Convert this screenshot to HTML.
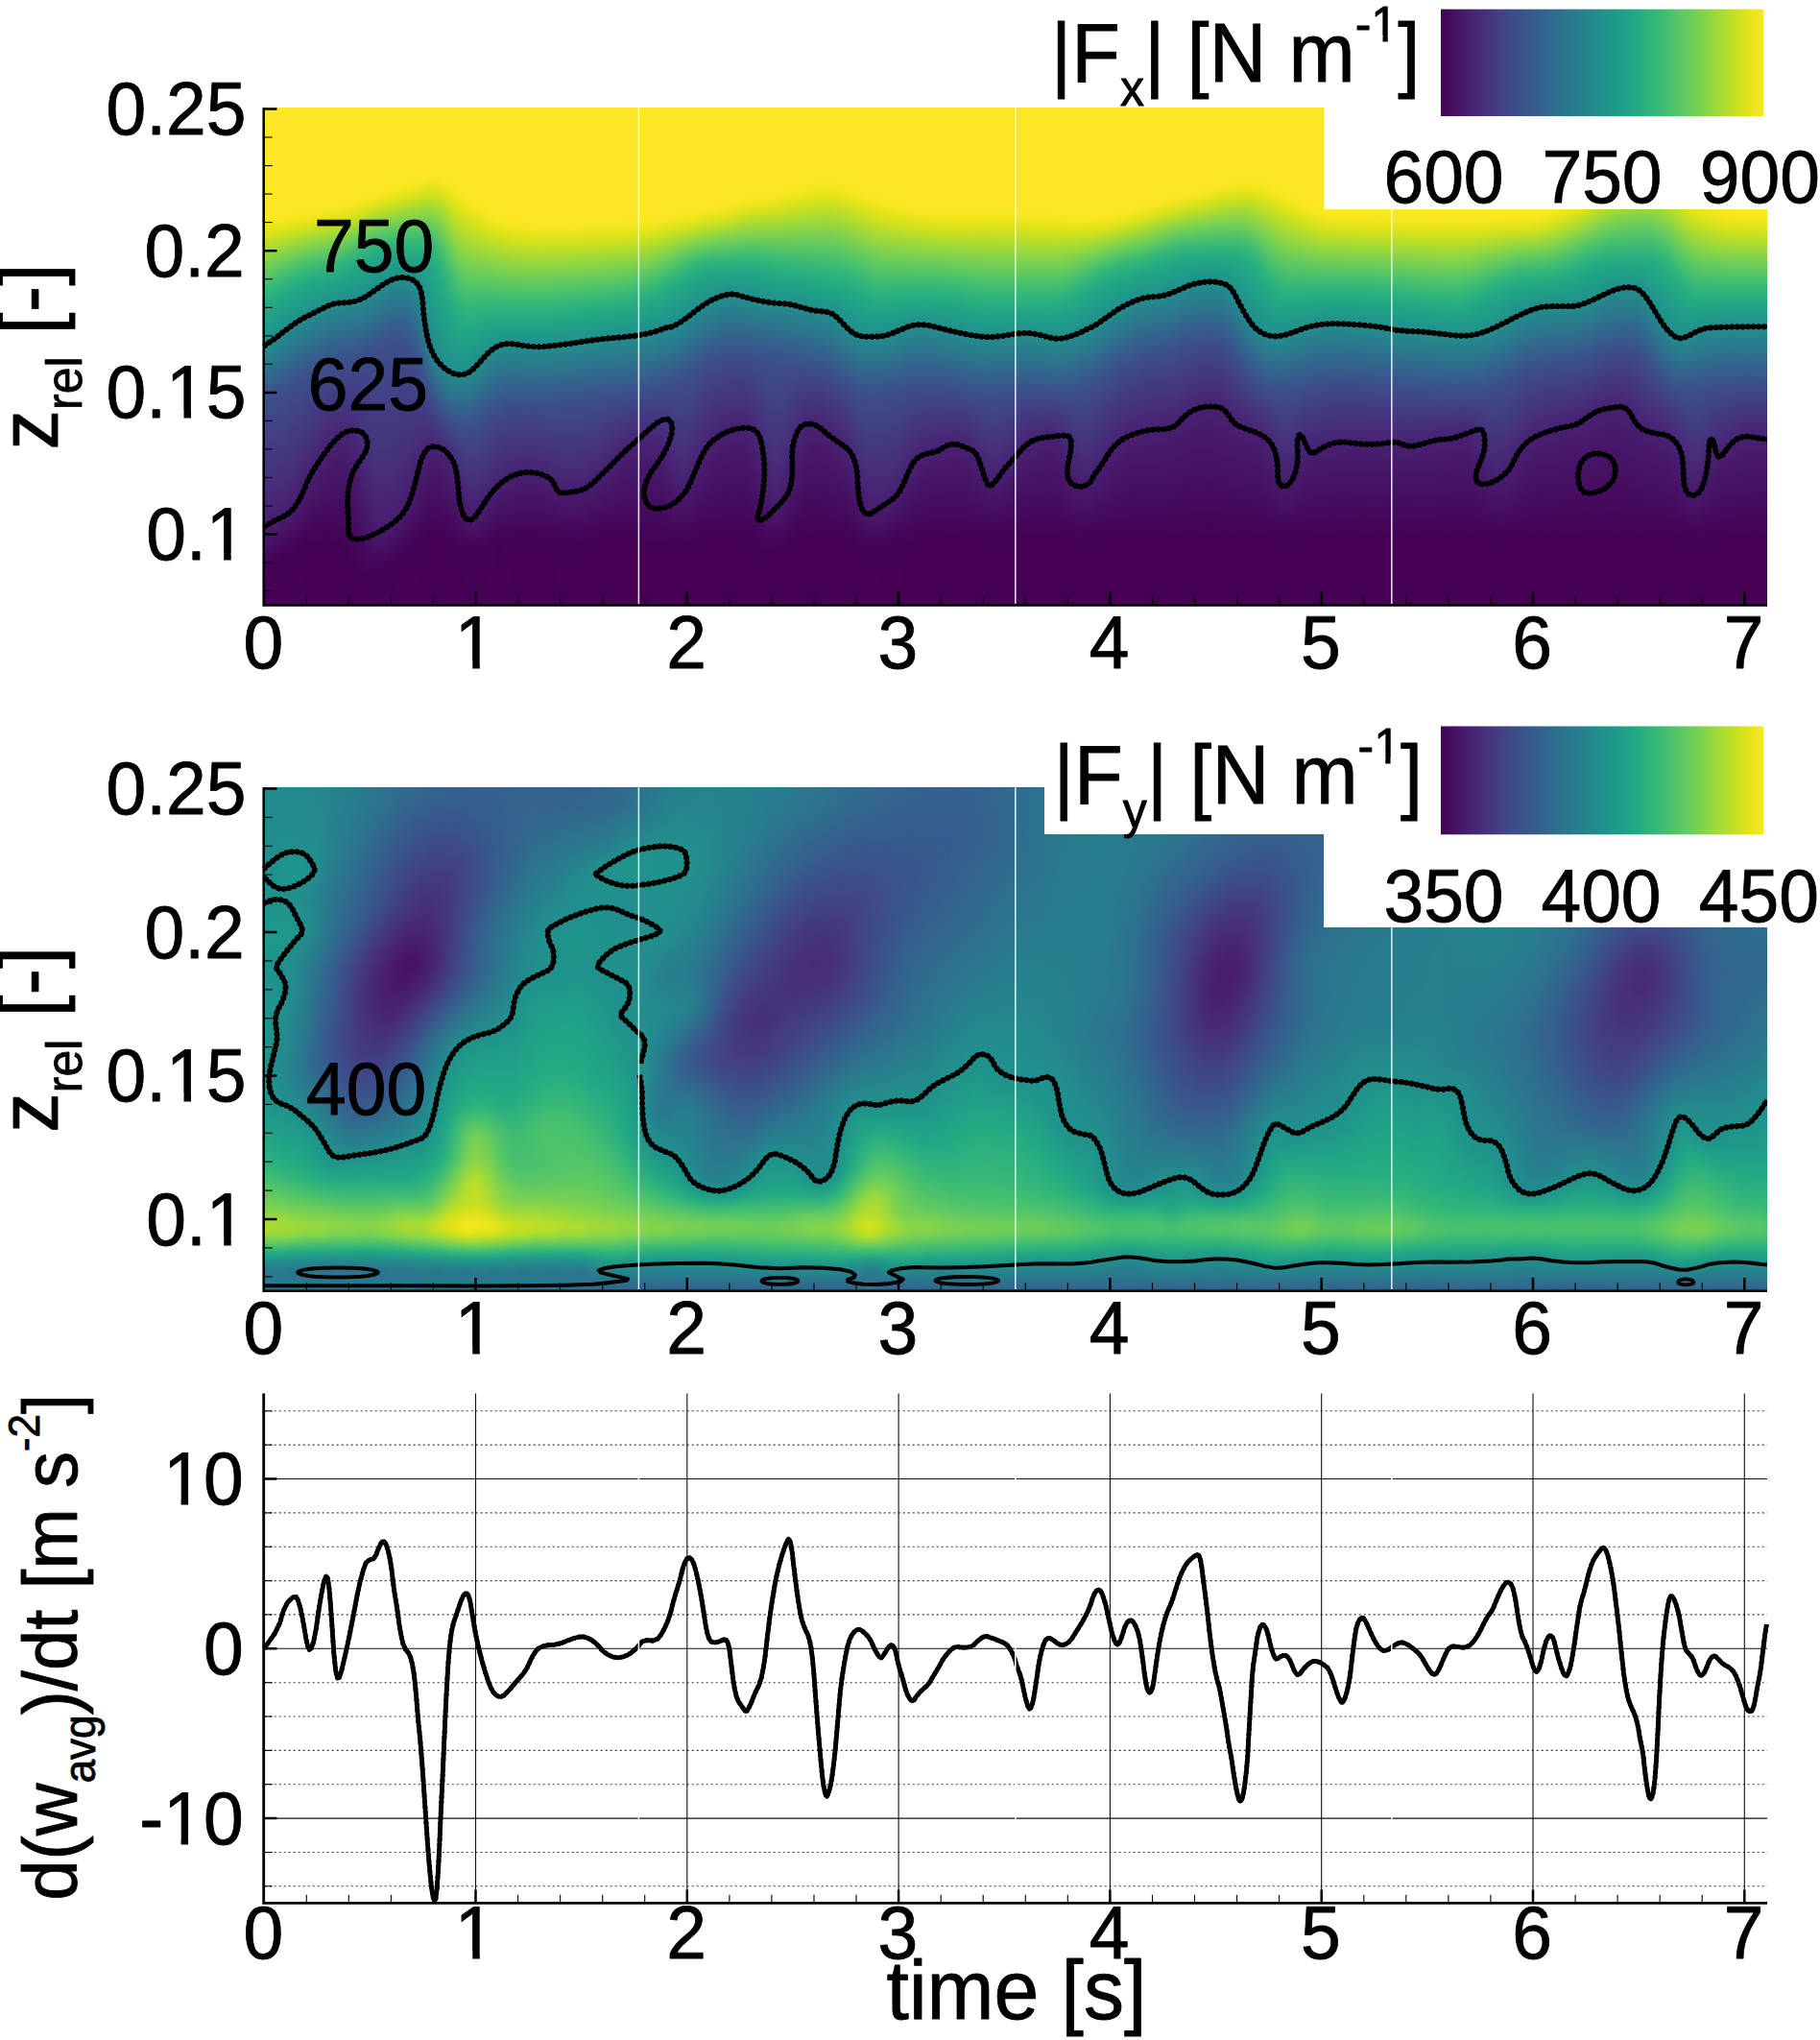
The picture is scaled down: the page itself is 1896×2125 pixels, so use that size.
<!DOCTYPE html><html><head><meta charset="utf-8"><title>Force and acceleration time series</title><style>html,body{margin:0;padding:0;background:#fff}body{width:1896px;height:2125px;position:relative;overflow:hidden;font-family:"Liberation Sans",sans-serif}.hm{position:absolute;overflow:hidden}.hi{position:absolute;filter:blur(3px)}.hi i{position:absolute;top:0;height:100%;width:6.5px}.w{position:absolute;background:#fff}.cb{position:absolute;background:linear-gradient(90deg,#440154 0%,#471365 5%,#482475 10%,#463480 15%,#414487 20%,#3b528b 25%,#355f8d 30%,#2f6c8e 35%,#2a788e 40%,#25848e 45%,#21918c 50%,#1e9c89 55%,#22a884 60%,#2fb47c 65%,#44bf70 70%,#5ec962 75%,#7ad151 80%,#9bd93c 85%,#bddf26 90%,#dfe318 95%,#fde725 100%)}svg{position:absolute;left:0;top:0}text{font-family:"Liberation Sans",sans-serif;fill:#000;stroke:#000;stroke-width:.8px;stroke-linejoin:round}</style></head><body><div class="hm" style="left:273.5px;top:112.3px;width:1567.5px;height:518.1px"><div class="hi" style="left:-12px;top:-12px;width:1590px;height:543px"><i style="left:0px;background:linear-gradient(#fde725 0%,#fde725 23.2%,#f4e61e 24.9%,#dde318 26.5%,#c2df23 28.2%,#7ad151 32.6%,#46c06f 36.5%,#2db27d 39.2%,#22a884 41.4%,#1f988b 45.9%,#277f8e 50.8%,#3c508b 58.6%,#472f7d 74.6%,#481a6c 84%,#440256 90.1%,#440154 100%)"></i><i style="left:6px;background:linear-gradient(#fde725 0%,#fde725 23.2%,#f4e61e 24.9%,#dde318 26.5%,#c0df25 28.2%,#77d153 32.6%,#4ac16d 35.9%,#2eb37c 38.7%,#23a983 40.9%,#1f998a 45.3%,#26828e 50.3%,#3b528b 58%,#453781 70.7%,#481f70 82.3%,#450457 89.5%,#440154 92.3%,#440154 100%)"></i><i style="left:12px;background:linear-gradient(#fde725 0%,#fde725 23.2%,#f1e51d 24.9%,#dae319 26.5%,#b2dd2d 28.7%,#60ca60 33.7%,#38b977 37%,#27ad81 39.2%,#1fa088 43.1%,#23898e 48.6%,#3c508b 58%,#472e7c 75.1%,#481b6d 83.4%,#440154 90.1%,#440154 100%)"></i><i style="left:18px;background:linear-gradient(#fde725 0%,#fde725 23.2%,#f6e620 24.3%,#dfe318 26%,#c2df23 27.6%,#a2da37 29.3%,#73d056 32%,#4cc26c 34.8%,#32b67a 37%,#26ad81 38.7%,#1f9f88 42.5%,#23898e 48.1%,#3b518b 57.5%,#433d84 66.9%,#482173 80.7%,#460b5e 86.7%,#440256 89.5%,#440154 100%)"></i><i style="left:24px;background:linear-gradient(#fde725 0%,#fde725 22.7%,#f4e61e 24.3%,#e5e419 25.4%,#d0e11c 26.5%,#b2dd2d 28.2%,#63cb5f 32.6%,#3dbc74 35.4%,#2db27d 37%,#22a884 39.2%,#1f968b 44.2%,#26828e 48.6%,#3a538b 56.4%,#3f4788 60.8%,#472c7a 75.1%,#481b6d 82.3%,#450559 87.8%,#440154 90.6%,#440154 100%)"></i><i style="left:30px;background:linear-gradient(#fde725 0%,#fde725 22.7%,#f1e51d 24.3%,#e2e418 25.4%,#cde11d 26.5%,#8bd646 29.8%,#54c568 33.1%,#31b57b 35.9%,#24aa83 38.1%,#1f9a8a 42.5%,#25838e 47.5%,#3b528b 55.8%,#443983 67.4%,#482071 80.1%,#440256 87.8%,#440154 100%)"></i><i style="left:36px;background:linear-gradient(#fde725 0%,#fde725 22.7%,#f6e620 23.8%,#dde318 25.4%,#bddf26 27.1%,#9bd93c 28.7%,#67cc5c 31.5%,#44bf70 33.7%,#2cb17e 35.9%,#22a785 38.1%,#1f978b 42.5%,#2a788e 48.6%,#3c4f8a 55.8%,#472f7d 71.8%,#481a6c 81.2%,#440256 87.3%,#440154 100%)"></i><i style="left:42px;background:linear-gradient(#fde725 0%,#fde725 22.1%,#f4e61e 23.8%,#e2e418 24.9%,#cde11d 26%,#89d548 29.3%,#56c667 32%,#37b878 34.3%,#28ae80 35.9%,#1fa287 38.7%,#228d8d 44.2%,#39558c 53.6%,#3e4989 57.5%,#472c7a 72.4%,#481a6c 80.1%,#450457 86.2%,#440154 89%,#440154 100%)"></i><i style="left:48px;background:linear-gradient(#fde725 0%,#fde725 22.1%,#f1e51d 23.8%,#dfe318 24.9%,#c8e020 26%,#77d153 29.8%,#48c16e 32.6%,#32b67a 34.3%,#25ac82 35.9%,#1f9f88 39.2%,#23898e 44.2%,#3c508b 54.1%,#472e7c 69.6%,#48186a 79%,#440256 85.6%,#440154 100%)"></i><i style="left:54px;background:linear-gradient(#fde725 0%,#fde725 22.1%,#f6e620 23.2%,#e5e419 24.3%,#d0e11c 25.4%,#86d549 28.7%,#4ac16d 32%,#34b679 33.7%,#26ad81 35.4%,#1fa188 38.1%,#228b8d 43.1%,#3a548c 52.5%,#3f4889 56.4%,#472c7a 69.1%,#471164 80.1%,#440154 85.6%,#440154 100%)"></i><i style="left:60px;background:linear-gradient(#fde725 0%,#fde725 21.5%,#f4e61e 23.2%,#e2e418 24.3%,#cae11f 25.4%,#81d34d 28.7%,#4ec36b 31.5%,#2fb47c 33.7%,#22a884 35.9%,#1f988b 39.8%,#2b758e 46.4%,#3d4d8a 53.6%,#472e7c 66.9%,#46075a 82.3%,#440154 86.2%,#440154 100%)"></i><i style="left:66px;background:linear-gradient(#fde725 0%,#fde725 21.5%,#f6e620 22.7%,#dde318 24.3%,#c5e021 25.4%,#7cd250 28.7%,#4ac16d 31.5%,#34b679 33.1%,#23a983 35.4%,#1f988b 39.2%,#2b758e 45.9%,#3d4d8a 53%,#472e7c 65.2%,#46075a 82.3%,#440154 86.2%,#440154 100%)"></i><i style="left:72px;background:linear-gradient(#fde725 0%,#fde725 21%,#f4e61e 22.7%,#e5e419 23.8%,#cde11d 24.9%,#84d44b 28.2%,#50c46a 30.9%,#31b57b 33.1%,#25ab82 34.8%,#1f9e89 37.6%,#26828e 43.1%,#3d4d8a 52.5%,#472f7d 63.5%,#481769 73.5%,#440154 85.1%,#440154 100%)"></i><i style="left:78px;background:linear-gradient(#fde725 0%,#fde725 21%,#f8e621 22.1%,#dfe318 23.8%,#c8e020 24.9%,#7fd34e 28.2%,#4cc26c 30.9%,#2eb37c 33.1%,#21a685 35.4%,#1f948c 39.2%,#33628d 48.1%,#3d4d8a 51.9%,#472f7d 62.4%,#481f70 68.5%,#440154 85.1%,#440154 100%)"></i><i style="left:84px;background:linear-gradient(#fde725 0%,#fde725 21%,#f6e620 22.1%,#e5e419 23.2%,#d0e11c 24.3%,#90d743 27.1%,#50c46a 30.4%,#31b57b 32.6%,#25ab82 34.3%,#1e9d89 37%,#277e8e 43.1%,#3d4e8a 51.4%,#472d7b 62.4%,#481d6f 68%,#440154 85.6%,#440154 100%)"></i><i style="left:90px;background:linear-gradient(#fde725 0%,#fde725 20.4%,#f4e61e 22.1%,#dfe318 23.2%,#c8e020 24.3%,#73d056 28.2%,#54c568 29.8%,#3aba76 31.5%,#28ae80 33.1%,#20a386 35.4%,#218f8d 39.8%,#38588c 49.2%,#3f4788 53%,#472c7a 62.4%,#481c6e 68%,#440154 86.7%,#440154 100%)"></i><i style="left:96px;background:linear-gradient(#fde725 0%,#fde725 20.4%,#f6e620 21.5%,#e7e419 22.7%,#d0e11c 23.8%,#75d054 27.6%,#40bd72 30.4%,#2db27d 32%,#21a685 34.3%,#20938c 38.7%,#34618d 47.5%,#3e4c8a 51.4%,#472e7c 61.9%,#481d6f 68%,#440154 87.8%,#440154 100%)"></i><i style="left:102px;background:linear-gradient(#fde725 0%,#fde725 19.9%,#f8e621 21%,#dfe318 22.7%,#c5e021 23.8%,#69cd5b 27.6%,#40bd72 29.8%,#2db27d 31.5%,#21a685 33.7%,#1f958b 38.1%,#33628d 47%,#3d4d8a 50.8%,#46307e 61.9%,#481d6f 69.6%,#440154 89.5%,#440154 100%)"></i><i style="left:108px;background:linear-gradient(#fde725 0%,#fde725 19.9%,#ece51b 21.5%,#d8e219 22.7%,#cae11f 23.2%,#a0da39 24.9%,#77d153 26.5%,#54c568 28.2%,#31b57b 30.4%,#25ab82 32%,#1e9c89 35.9%,#25858e 40.9%,#3c508b 49.7%,#472f7d 63.5%,#481a6c 74.6%,#440154 90.6%,#440154 100%)"></i><i style="left:114px;background:linear-gradient(#fde725 0%,#fde725 19.3%,#f6e620 20.4%,#e5e419 21.5%,#dae319 22.1%,#cde11d 22.7%,#77d153 26%,#3fbc73 28.7%,#2ab07f 30.4%,#20a386 33.1%,#218f8d 38.7%,#39568c 48.1%,#3e4989 51.9%,#472c7a 68%,#470e61 84.5%,#440154 91.2%,#440154 100%)"></i><i style="left:120px;background:linear-gradient(#fde725 0%,#fde725 18.8%,#f8e621 19.9%,#e7e419 21%,#dde318 21.5%,#c2df23 22.7%,#7ad151 25.4%,#40bd72 28.2%,#2cb17e 29.8%,#21a685 32%,#1f958b 36.5%,#2b758e 42.5%,#3b518b 48.6%,#424086 58%,#482475 75.7%,#481467 84%,#440154 91.7%,#440154 100%)"></i><i style="left:126px;background:linear-gradient(#fde725 0%,#fde725 18.2%,#f4e61e 19.9%,#ece51b 20.4%,#dfe318 21%,#d5e21a 21.5%,#8ed645 24.3%,#65cb5e 26%,#3bbb75 28.2%,#28ae80 29.8%,#1fa187 32.6%,#218e8d 37.6%,#39568c 47%,#3d4d8a 49.7%,#472e7c 71.8%,#481a6c 84%,#440256 90.6%,#440154 100%)"></i><i style="left:132px;background:linear-gradient(#fde725 0%,#fde725 18.2%,#f6e620 19.3%,#e5e419 20.4%,#d8e219 21%,#b0dd2f 22.7%,#93d741 23.8%,#6ccd5a 25.4%,#4ac16d 27.1%,#2ab07f 29.3%,#21a585 31.5%,#1f948c 35.4%,#34608d 44.8%,#3c4f8a 48.1%,#472f7d 71.3%,#481d6f 82.9%,#440256 90.6%,#440154 100%)"></i><i style="left:138px;background:linear-gradient(#fde725 0%,#fde725 17.7%,#f1e51d 19.3%,#dde318 20.4%,#c2df23 21.5%,#73d056 24.9%,#3dbc74 27.6%,#29af7f 29.3%,#20a386 31.5%,#218f8d 35.9%,#38598c 45.3%,#3d4d8a 48.6%,#472f7d 71.3%,#481d6f 82.9%,#440256 90.1%,#440154 100%)"></i><i style="left:144px;background:linear-gradient(#fde725 0%,#fde725 17.1%,#f4e61e 18.8%,#e2e418 19.9%,#cae11f 21%,#7ad151 24.3%,#44bf70 27.1%,#2eb37c 28.7%,#21a585 30.9%,#20928c 34.8%,#365d8d 44.2%,#3c4f8a 47%,#472f7d 70.7%,#481d6f 81.8%,#460b5e 86.7%,#440154 90.6%,#440154 100%)"></i><i style="left:150px;background:linear-gradient(#fde725 0%,#fde725 17.1%,#f6e620 18.2%,#e5e419 19.3%,#d0e11c 20.4%,#8ed645 23.2%,#4cc26c 26.5%,#2eb37c 28.7%,#22a884 30.4%,#1f998a 33.1%,#2e6d8e 41.4%,#3b518b 46.4%,#404688 53%,#472a7a 72.9%,#481c6e 81.2%,#440256 88.4%,#440154 100%)"></i><i style="left:156px;background:linear-gradient(#fde725 0%,#fde725 16.6%,#f1e51d 18.2%,#dfe318 19.3%,#c8e020 20.4%,#73d056 24.3%,#4ac16d 26.5%,#2db27d 28.7%,#22a884 30.4%,#1f998a 33.1%,#2e6d8e 41.4%,#3c508b 47%,#472f7d 68.5%,#481c6e 79.6%,#46085c 85.6%,#440154 88.4%,#440154 100%)"></i><i style="left:162px;background:linear-gradient(#fde725 0%,#fde725 16%,#f4e61e 17.7%,#e2e418 18.8%,#cde11d 19.9%,#7ad151 23.8%,#4ac16d 26.5%,#2db27d 28.7%,#22a884 30.4%,#1f978b 33.7%,#31688e 43.1%,#3b528b 47.5%,#433d84 59.1%,#482173 75.1%,#471164 81.8%,#440256 86.2%,#440154 100%)"></i><i style="left:168px;background:linear-gradient(#fde725 0%,#fde725 16%,#f6e620 17.1%,#dde318 18.8%,#c8e020 19.9%,#77d153 23.8%,#48c16e 26.5%,#32b67a 28.2%,#25ac82 29.8%,#1f9f88 32.6%,#26828e 39.2%,#3b528b 49.7%,#472e7c 66.3%,#471365 79.6%,#440256 85.6%,#440154 100%)"></i><i style="left:174px;background:linear-gradient(#fde725 0%,#fde725 15.5%,#f8e621 16.6%,#e2e418 18.2%,#cde11d 19.3%,#7fd34e 23.2%,#50c46a 26%,#2eb37c 28.7%,#22a884 30.9%,#1f978b 35.9%,#2e6d8e 47%,#3e4a89 54.7%,#472d7b 65.7%,#46075a 82.3%,#440154 86.2%,#440154 100%)"></i><i style="left:180px;background:linear-gradient(#fde725 0%,#fde725 14.9%,#f4e61e 16.6%,#efe51c 17.1%,#dde318 18.2%,#bddf26 19.9%,#6ccd5a 24.3%,#3bbb75 27.6%,#28ae80 29.8%,#1fa287 34.3%,#228d8d 43.1%,#297b8e 48.1%,#3f4889 57.5%,#472a7a 65.7%,#481b6d 71.3%,#440154 85.1%,#440154 100%)"></i><i style="left:186px;background:linear-gradient(#fde725 0%,#fde725 14.9%,#f8e621 16%,#ece51b 17.1%,#dae319 18.2%,#bddf26 19.9%,#8bd646 22.7%,#58c765 26%,#37b878 28.7%,#2ab07f 30.4%,#22a884 33.7%,#1f978b 43.1%,#23898e 48.6%,#2a778e 51.9%,#3d4d8a 58.6%,#472d7b 65.2%,#481d6f 69.1%,#440154 84.5%,#440154 100%)"></i><i style="left:192px;background:linear-gradient(#fde725 0%,#fde725 14.9%,#f4e61e 16.6%,#dde318 18.2%,#cde11d 19.3%,#a8db34 21.5%,#75d054 24.9%,#4ac16d 28.2%,#31b57b 30.9%,#25ab82 34.3%,#1e9b8a 43.6%,#228d8d 50.3%,#2a778e 54.1%,#3f4788 61.3%,#472d7b 65.7%,#481d6f 69.1%,#440154 84.5%,#440154 100%)"></i><i style="left:198px;background:linear-gradient(#fde725 0%,#fde725 15.5%,#f4e61e 17.1%,#dfe318 18.8%,#c8e020 20.4%,#90d743 24.3%,#48c16e 30.4%,#34b679 33.1%,#26ad81 36.5%,#1fa088 43.1%,#21918c 50.8%,#287d8e 54.7%,#3e4989 62.4%,#482576 68%,#481a6c 71.8%,#440154 85.1%,#440154 100%)"></i><i style="left:204px;background:linear-gradient(#fde725 0%,#fde725 16%,#f1e51d 18.2%,#dfe318 19.9%,#cae11f 21.5%,#93d741 26%,#60ca60 30.4%,#3fbc73 34.3%,#26ad81 39.2%,#1f9f88 45.9%,#218f8d 52.5%,#2e6e8e 58%,#424186 64.6%,#482576 69.6%,#440256 84.5%,#440154 100%)"></i><i style="left:210px;background:linear-gradient(#fde725 0%,#fde725 17.1%,#f4e61e 18.8%,#dfe318 21%,#c5e021 23.2%,#addc30 25.4%,#7cd250 29.8%,#56c667 33.7%,#32b67a 38.7%,#24aa83 42.5%,#1f9a8a 49.2%,#23898e 54.1%,#3a538b 62.4%,#472f7d 69.6%,#481d6f 75.1%,#440154 86.2%,#440154 100%)"></i><i style="left:216px;background:linear-gradient(#fde725 0%,#fde725 17.7%,#f4e61e 19.9%,#dde318 22.1%,#c5e021 24.3%,#95d840 28.7%,#5ec962 34.3%,#38b977 39.2%,#27ad81 42.5%,#1fa088 47.5%,#228d8d 53.6%,#39558c 62.4%,#3f4889 65.2%,#482576 75.1%,#460a5d 84%,#440154 87.3%,#440154 100%)"></i><i style="left:222px;background:linear-gradient(#fde725 0%,#fde725 18.8%,#f1e51d 21%,#dae319 23.2%,#bddf26 26%,#8bd646 30.4%,#56c667 35.9%,#31b57b 40.9%,#21a685 45.3%,#1f948c 51.4%,#297b8e 56.4%,#3d4e8a 63.5%,#472d7b 74.6%,#481467 82.3%,#440256 86.7%,#440154 100%)"></i><i style="left:228px;background:linear-gradient(#fde725 0%,#fde725 19.3%,#f4e61e 21.5%,#e2e418 23.2%,#cae11f 25.4%,#b0dd2f 27.6%,#84d44b 31.5%,#5cc863 35.4%,#34b679 40.3%,#25ab82 43.6%,#1e9d89 48.1%,#228b8d 53%,#3a548c 61.9%,#404688 65.7%,#472d7b 75.1%,#481668 82.3%,#440256 86.7%,#440154 100%)"></i><i style="left:234px;background:linear-gradient(#fde725 0%,#fde725 20.4%,#f4e61e 22.1%,#dfe318 24.3%,#cae11f 26%,#7ad151 32.6%,#48c16e 37.6%,#29af7f 42%,#1fa187 45.9%,#228b8d 51.9%,#3a538b 61.3%,#424086 67.4%,#482475 77.3%,#471164 82.9%,#450457 86.2%,#440154 89%,#440154 100%)"></i><i style="left:240px;background:linear-gradient(#fde725 0%,#fde725 21%,#f1e51d 23.2%,#dae319 25.4%,#bddf26 27.6%,#84d44b 32%,#48c16e 37.6%,#2cb17e 41.4%,#20a386 44.8%,#21918c 49.7%,#375b8d 59.1%,#3e4989 63%,#472d7b 73.5%,#471365 81.8%,#450457 85.6%,#440154 88.4%,#440154 100%)"></i><i style="left:246px;background:linear-gradient(#fde725 0%,#fde725 22.1%,#f4e61e 23.8%,#e2e418 25.4%,#cae11f 27.1%,#95d840 30.9%,#54c568 36.5%,#32b67a 40.3%,#23a983 43.1%,#1f988b 47%,#2d718e 54.7%,#3e4c8a 61.3%,#472e7c 71.8%,#471365 80.7%,#440256 85.6%,#440154 100%)"></i><i style="left:252px;background:linear-gradient(#fde725 0%,#fde725 22.7%,#f4e61e 24.3%,#dfe318 26%,#c8e020 27.6%,#b0dd2f 29.3%,#8bd646 32%,#6ece58 34.3%,#3aba76 39.2%,#22a884 43.1%,#1f968b 47%,#31668e 55.8%,#3d4e8a 60.2%,#472e7c 70.7%,#46075a 83.4%,#440154 86.2%,#440154 100%)"></i><i style="left:258px;background:linear-gradient(#fde725 0%,#fde725 22.7%,#f6e620 24.3%,#e2e418 26%,#cae11f 27.6%,#70cf57 34.3%,#4ac16d 37.6%,#2ab07f 41.4%,#1fa287 44.2%,#218f8d 48.1%,#38598c 57.5%,#404688 61.9%,#482878 71.8%,#440154 85.1%,#440154 100%)"></i><i style="left:264px;background:linear-gradient(#fde725 0%,#fde725 23.2%,#f4e61e 24.9%,#dde318 26.5%,#c8e020 28.2%,#6ccd5a 34.8%,#3bbb75 39.2%,#25ab82 42.5%,#1e9c89 45.3%,#2c718e 53%,#3d4e8a 59.1%,#472d7b 69.6%,#471365 78.5%,#440256 84.5%,#440154 100%)"></i><i style="left:270px;background:linear-gradient(#fde725 0%,#fde725 23.2%,#f4e61e 24.9%,#e2e418 26.5%,#cae11f 28.2%,#9bd93c 31.5%,#81d34d 33.1%,#4cc26c 37.6%,#2eb37c 40.9%,#21a585 43.6%,#20938c 47%,#34608d 55.8%,#3e4989 60.2%,#472d7b 69.1%,#481668 76.8%,#440154 85.1%,#440154 100%)"></i><i style="left:276px;background:linear-gradient(#fde725 0%,#fde725 23.8%,#ece51b 26%,#d5e21a 27.6%,#addc30 30.4%,#93d741 32%,#54c568 37%,#37b878 39.8%,#25ab82 42.5%,#1e9d89 45.3%,#2b748e 52.5%,#3e4c8a 59.7%,#472e7c 68.5%,#481c6e 74%,#440154 85.1%,#440154 100%)"></i><i style="left:282px;background:linear-gradient(#fde725 0%,#fde725 23.8%,#f4e61e 25.4%,#dfe318 27.1%,#c8e020 28.7%,#8ed645 32.6%,#60ca60 35.9%,#32b67a 40.3%,#22a884 43.1%,#1f978b 46.4%,#31688e 54.7%,#3e4c8a 59.7%,#472c7a 69.1%,#481769 75.7%,#440154 85.1%,#440154 100%)"></i><i style="left:288px;background:linear-gradient(#fde725 0%,#fde725 23.8%,#f6e620 25.4%,#e2e418 27.1%,#d2e21b 28.2%,#b0dd2f 30.4%,#77d153 34.3%,#4ec36b 37.6%,#2eb37c 40.9%,#21a585 43.6%,#20928c 47.5%,#355e8d 56.4%,#3e4c8a 59.7%,#472c7a 69.1%,#481769 75.7%,#440154 85.1%,#440154 100%)"></i><i style="left:294px;background:linear-gradient(#fde725 0%,#fde725 24.3%,#f1e51d 26%,#dae319 27.6%,#c2df23 29.3%,#a8db34 30.9%,#70cf57 34.8%,#48c16e 38.1%,#2eb37c 40.9%,#21a585 43.6%,#20928c 47.5%,#355e8d 56.4%,#3e4989 60.2%,#472e7c 68.5%,#481769 75.7%,#440154 85.1%,#440154 100%)"></i><i style="left:300px;background:linear-gradient(#fde725 0%,#fde725 24.3%,#f1e51d 26%,#dae319 27.6%,#c2df23 29.3%,#a8db34 30.9%,#70cf57 34.8%,#4ec36b 37.6%,#2eb37c 40.9%,#21a585 43.6%,#20928c 47.5%,#355e8d 56.4%,#3e4c8a 59.7%,#472d7b 69.1%,#48186a 75.7%,#440154 85.1%,#440154 100%)"></i><i style="left:306px;background:linear-gradient(#fde725 0%,#fde725 24.3%,#f1e51d 26%,#dae319 27.6%,#cae11f 28.7%,#b0dd2f 30.4%,#77d153 34.3%,#5ac864 36.5%,#37b878 39.8%,#25ab82 42.5%,#1e9d89 45.3%,#277f8e 50.8%,#3e4c8a 59.7%,#472e7c 69.1%,#481467 77.9%,#440154 85.1%,#440154 100%)"></i><i style="left:312px;background:linear-gradient(#fde725 0%,#fde725 24.3%,#f1e51d 26%,#dae319 27.6%,#b8de29 29.8%,#86d549 33.1%,#67cc5c 35.4%,#46c06f 38.1%,#2db27d 40.9%,#20a486 43.6%,#20928c 47.5%,#365d8d 56.4%,#3e4c8a 59.7%,#472d7b 70.2%,#460a5d 81.8%,#440154 85.1%,#440154 100%)"></i><i style="left:318px;background:linear-gradient(#fde725 0%,#fde725 24.3%,#f1e51d 26%,#dae319 27.6%,#b8de29 29.8%,#7cd250 33.7%,#52c569 37%,#3aba76 39.2%,#28ae80 41.4%,#1fa187 44.2%,#228b8d 48.6%,#3b528b 58%,#472f7d 69.6%,#481467 79%,#440256 84.5%,#440154 100%)"></i><i style="left:324px;background:linear-gradient(#fde725 0%,#fde725 24.3%,#f1e51d 26%,#dae319 27.6%,#b8de29 29.8%,#9dd93b 31.5%,#6ccd5a 34.8%,#4ac16d 37.6%,#34b679 39.8%,#22a884 42.5%,#1f988b 45.9%,#30698e 54.1%,#3d4d8a 59.1%,#472e7c 70.7%,#471164 80.1%,#440256 84.5%,#440154 100%)"></i><i style="left:330px;background:linear-gradient(#fde725 0%,#fde725 24.3%,#f1e51d 26%,#e2e418 27.1%,#c8e020 28.7%,#8bd646 32.6%,#5cc863 35.9%,#37b878 39.2%,#25ab82 42%,#1e9d89 44.8%,#27808e 50.3%,#3c4f8a 58.6%,#472e7c 70.7%,#471164 80.1%,#440256 84.5%,#440154 100%)"></i><i style="left:336px;background:linear-gradient(#fde725 0%,#fde725 24.3%,#f6e620 25.4%,#e2e418 27.1%,#c8e020 28.7%,#9bd93c 31.5%,#63cb5f 35.4%,#3bbb75 38.7%,#29af7f 40.9%,#1fa187 43.6%,#228b8d 48.1%,#3a538b 57.5%,#414487 62.4%,#482677 72.9%,#471164 80.1%,#450457 84%,#440154 86.7%,#440154 100%)"></i><i style="left:342px;background:linear-gradient(#fde725 0%,#fde725 24.3%,#f6e620 25.4%,#dfe318 27.1%,#d0e11c 28.2%,#89d548 32.6%,#5ac864 35.9%,#35b779 39.2%,#25ac82 41.4%,#1f9e89 44.2%,#26818e 49.7%,#3d4e8a 58.6%,#472d7b 70.7%,#470d60 81.2%,#440154 85.6%,#440154 100%)"></i><i style="left:348px;background:linear-gradient(#fde725 0%,#fde725 23.8%,#f4e61e 25.4%,#dfe318 27.1%,#c5e021 28.7%,#77d153 33.7%,#52c569 36.5%,#34b679 39.2%,#22a884 42%,#1f988b 45.3%,#30698e 53.6%,#3d4d8a 58.6%,#472e7c 69.6%,#471164 79.6%,#440256 84%,#440154 100%)"></i><i style="left:354px;background:linear-gradient(#fde725 0%,#fde725 23.8%,#f4e61e 25.4%,#dfe318 27.1%,#c5e021 28.7%,#98d83e 31.5%,#6ece58 34.3%,#3dbc74 38.1%,#27ad81 40.9%,#1fa088 43.6%,#25858e 48.6%,#3d4e8a 58%,#472e7c 69.1%,#46075a 82.3%,#440154 86.2%,#440154 100%)"></i><i style="left:360px;background:linear-gradient(#fde725 0%,#fde725 23.8%,#f4e61e 25.4%,#e7e419 26.5%,#cde11d 28.2%,#8ed645 32%,#56c667 35.9%,#32b67a 39.2%,#22a785 42%,#1f978b 45.3%,#31678e 53.6%,#3d4e8a 58%,#472f7d 68%,#471164 78.5%,#440154 85.1%,#440154 100%)"></i><i style="left:366px;background:linear-gradient(#fde725 0%,#fde725 23.8%,#f4e61e 25.4%,#dde318 27.1%,#c2df23 28.7%,#95d840 31.5%,#6ccd5a 34.3%,#48c16e 37%,#2db27d 39.8%,#20a486 42.5%,#21918c 46.4%,#38598c 55.8%,#3e4a89 58.6%,#472d7b 68%,#481b6d 74%,#440154 84.5%,#440154 100%)"></i><i style="left:372px;background:linear-gradient(#fde725 0%,#fde725 23.8%,#f4e61e 25.4%,#dde318 27.1%,#c2df23 28.7%,#8bd646 32%,#63cb5f 34.8%,#3aba76 38.1%,#25ac82 40.9%,#1f9e89 43.6%,#287d8e 49.7%,#3c4f8a 57.5%,#472f7d 66.3%,#481b6d 72.9%,#440154 84.5%,#440154 100%)"></i><i style="left:378px;background:linear-gradient(#fde725 0%,#fde725 23.8%,#f8e621 24.9%,#e5e419 26.5%,#d2e21b 27.6%,#a5db36 30.4%,#77d153 33.1%,#44bf70 37%,#2ab07f 39.8%,#1fa287 42.5%,#218f8d 46.4%,#38588c 55.8%,#404588 59.7%,#472a7a 66.9%,#481a6c 72.4%,#440154 85.1%,#440154 100%)"></i><i style="left:384px;background:linear-gradient(#fde725 0%,#fde725 23.8%,#f1e51d 25.4%,#dae319 27.1%,#bddf26 28.7%,#6ece58 33.7%,#42be71 37%,#29af7f 39.8%,#1fa187 42.5%,#228c8d 47%,#3a538b 56.4%,#46327e 64.1%,#481d6f 69.6%,#440154 85.1%,#440154 100%)"></i><i style="left:390px;background:linear-gradient(#fde725 0%,#fde725 23.8%,#f1e51d 25.4%,#e2e418 26.5%,#d0e11c 27.6%,#7cd250 32.6%,#54c568 35.4%,#2fb47c 38.7%,#21a685 41.4%,#1f968b 44.8%,#32648e 53.6%,#3f4788 58.6%,#482878 65.7%,#481a6c 70.7%,#440154 85.1%,#440154 100%)"></i><i style="left:396px;background:linear-gradient(#fde725 0%,#fde725 23.8%,#f6e620 24.9%,#eae51a 26%,#d8e219 27.1%,#bade28 28.7%,#70cf57 33.1%,#4ac16d 35.9%,#29af7f 39.2%,#1fa287 42%,#228d8d 46.4%,#3a548c 55.8%,#46327e 63%,#482071 67.4%,#440154 85.1%,#440154 100%)"></i><i style="left:402px;background:linear-gradient(#fde725 0%,#fde725 23.2%,#f4e61e 24.9%,#e7e419 26%,#d5e21a 27.1%,#b8de29 28.7%,#75d054 32.6%,#46c06f 35.9%,#2cb17e 38.7%,#21a685 40.9%,#1f948c 44.8%,#33628d 53.6%,#3f4889 58%,#472a7a 64.6%,#481d6f 68%,#440154 85.6%,#440154 100%)"></i><i style="left:408px;background:linear-gradient(#fde725 0%,#fde725 23.2%,#f4e61e 24.9%,#e5e419 26%,#d2e21b 27.1%,#a0da39 29.8%,#70cf57 32.6%,#3bbb75 36.5%,#25ac82 39.2%,#1e9d89 42.5%,#26828e 48.1%,#3d4d8a 56.9%,#472d7b 64.1%,#481d6f 68%,#440154 85.6%,#440154 100%)"></i><i style="left:414px;background:linear-gradient(#fde725 0%,#fde725 23.2%,#f1e51d 24.9%,#e2e418 26%,#cde11d 27.1%,#9bd93c 29.8%,#63cb5f 33.1%,#3dbc74 35.9%,#29af7f 38.1%,#1fa287 40.9%,#228d8d 45.9%,#3a548c 55.2%,#443983 61.3%,#482071 67.4%,#440154 85.6%,#440154 100%)"></i><i style="left:420px;background:linear-gradient(#fde725 0%,#fde725 23.2%,#f6e620 24.3%,#dde318 26%,#c0df25 27.6%,#6ece58 32%,#54c568 33.7%,#32b67a 36.5%,#24aa83 38.7%,#1f9a8a 42.5%,#297b8e 48.6%,#3d4d8a 56.4%,#472d7b 64.1%,#481d6f 68.5%,#440154 86.2%,#440154 100%)"></i><i style="left:426px;background:linear-gradient(#fde725 0%,#fde725 22.7%,#f4e61e 24.3%,#e2e418 25.4%,#cde11d 26.5%,#70cf57 31.5%,#3dbc74 34.8%,#29af7f 37%,#20a386 39.8%,#218f8d 44.8%,#39568c 54.1%,#463480 62.4%,#482173 68%,#440154 85.6%,#440154 100%)"></i><i style="left:432px;background:linear-gradient(#fde725 0%,#fde725 22.7%,#f1e51d 24.3%,#dfe318 25.4%,#c8e020 26.5%,#70cf57 30.9%,#4cc26c 33.1%,#2cb17e 35.9%,#22a785 38.1%,#1f968b 42.5%,#287d8e 47.5%,#3c4f8a 55.2%,#46307e 64.6%,#481b6d 72.9%,#440154 86.2%,#440154 100%)"></i><i style="left:438px;background:linear-gradient(#fde725 0%,#fde725 22.7%,#ece51b 24.3%,#dae319 25.4%,#c2df23 26.5%,#86d549 29.3%,#54c568 32%,#3bbb75 33.7%,#27ad81 35.9%,#1fa188 39.2%,#238a8d 44.8%,#3b528b 54.1%,#453781 64.1%,#471365 79%,#440154 86.2%,#440154 100%)"></i><i style="left:444px;background:linear-gradient(#fde725 0%,#fde725 22.1%,#f8e621 23.2%,#dfe318 24.9%,#c8e020 26%,#89d548 28.7%,#54c568 31.5%,#3aba76 33.1%,#26ad81 35.4%,#1fa088 38.7%,#238a8d 44.2%,#3b528b 53.6%,#414487 59.1%,#482374 73.5%,#46075a 83.4%,#440154 86.2%,#440154 100%)"></i><i style="left:450px;background:linear-gradient(#fde725 0%,#fde725 22.1%,#f6e620 23.2%,#e5e419 24.3%,#dae319 24.9%,#c2df23 26%,#69cd5b 29.8%,#40bd72 32%,#2db27d 33.7%,#22a785 35.9%,#1f968b 40.9%,#2a768e 47%,#3c4f8a 53.6%,#472d7b 69.1%,#460b5e 81.8%,#440154 85.6%,#440154 100%)"></i><i style="left:456px;background:linear-gradient(#fde725 0%,#fde725 21.5%,#f4e61e 23.2%,#e2e418 24.3%,#c8e020 25.4%,#6ccd5a 29.3%,#42be71 31.5%,#2db27d 33.1%,#22a785 35.4%,#1f978b 39.8%,#2a788e 45.9%,#3b518b 52.5%,#433e85 60.2%,#481c6e 74.6%,#440154 85.1%,#440154 100%)"></i><i style="left:462px;background:linear-gradient(#fde725 0%,#fde725 21.5%,#f1e51d 23.2%,#dde318 24.3%,#c2df23 25.4%,#8bd646 27.6%,#5ac864 29.8%,#35b779 32%,#29af7f 33.1%,#1fa287 35.9%,#228d8d 41.4%,#39558c 50.8%,#3e4989 54.1%,#472a7a 66.9%,#46075a 81.8%,#440154 85.6%,#440154 100%)"></i><i style="left:468px;background:linear-gradient(#fde725 0%,#fde725 21.5%,#ece51b 23.2%,#d8e219 24.3%,#bddf26 25.4%,#93d741 27.1%,#6ccd5a 28.7%,#40bd72 30.9%,#2cb17e 32.6%,#21a585 34.8%,#20938c 39.2%,#355f8d 48.6%,#3d4d8a 51.9%,#472e7c 63.5%,#481769 73.5%,#440154 85.1%,#440154 100%)"></i><i style="left:474px;background:linear-gradient(#fde725 0%,#fde725 21%,#f8e621 22.1%,#dfe318 23.8%,#c5e021 24.9%,#9bd93c 26.5%,#67cc5c 28.7%,#3dbc74 30.9%,#29af7f 32.6%,#20a486 34.8%,#21918c 39.2%,#375b8d 48.6%,#3e4a89 51.9%,#472e7c 62.4%,#481c6e 69.1%,#440154 84.5%,#440154 100%)"></i><i style="left:480px;background:linear-gradient(#fde725 0%,#fde725 21%,#f6e620 22.1%,#e5e419 23.2%,#dae319 23.8%,#c0df25 24.9%,#89d548 27.1%,#4ec36b 29.8%,#34b679 31.5%,#25ac82 33.1%,#1f9e89 35.9%,#277f8e 42%,#3d4d8a 50.8%,#472e7c 61.3%,#481c6e 68%,#440154 85.1%,#440154 100%)"></i><i style="left:486px;background:linear-gradient(#fde725 0%,#fde725 20.4%,#f4e61e 22.1%,#dfe318 23.2%,#c8e020 24.3%,#6ccd5a 28.2%,#42be71 30.4%,#2db27d 32%,#22a884 33.7%,#1f978b 37%,#31668e 45.9%,#3d4d8a 50.3%,#472f7d 60.2%,#481d6f 66.3%,#440154 85.1%,#440154 100%)"></i><i style="left:492px;background:linear-gradient(#fde725 0%,#fde725 20.4%,#f6e620 21.5%,#e7e419 22.7%,#d0e11c 23.8%,#75d054 27.6%,#54c568 29.3%,#32b67a 31.5%,#25ab82 33.1%,#1e9c89 35.9%,#2d718e 43.6%,#3e4c8a 50.3%,#472f7d 59.7%,#481c6e 66.3%,#440154 85.1%,#440154 100%)"></i><i style="left:498px;background:linear-gradient(#fde725 0%,#fde725 19.9%,#f8e621 21%,#dfe318 22.7%,#c8e020 23.8%,#73d056 27.6%,#54c568 29.3%,#38b977 30.9%,#27ad81 32.6%,#1fa187 34.8%,#23898e 39.2%,#3c508b 49.2%,#46307e 59.1%,#481d6f 65.2%,#440154 85.1%,#440154 100%)"></i><i style="left:504px;background:linear-gradient(#fde725 0%,#fde725 19.9%,#f6e620 21%,#e5e419 22.1%,#d0e11c 23.2%,#7ad151 27.1%,#48c16e 29.8%,#2cb17e 32%,#20a486 34.3%,#21918c 38.1%,#375a8c 47.5%,#3e4989 50.8%,#472e7c 59.7%,#481c6e 65.7%,#440154 85.1%,#440154 100%)"></i><i style="left:510px;background:linear-gradient(#fde725 0%,#fde725 19.3%,#f8e621 20.4%,#dfe318 22.1%,#cae11f 23.2%,#77d153 27.1%,#48c16e 29.8%,#2cb17e 32%,#21a585 34.3%,#1f948c 37.6%,#34618d 46.4%,#3d4e8a 49.7%,#472e7c 59.7%,#481d6f 65.2%,#440154 85.1%,#440154 100%)"></i><i style="left:516px;background:linear-gradient(#fde725 0%,#fde725 19.3%,#f6e620 20.4%,#dde318 22.1%,#bade28 23.8%,#75d054 27.1%,#46c06f 29.8%,#2cb17e 32%,#21a585 34.3%,#20928c 38.1%,#365c8d 47.5%,#3d4d8a 50.3%,#472d7b 60.8%,#481d6f 66.3%,#440154 85.6%,#440154 100%)"></i><i style="left:522px;background:linear-gradient(#fde725 0%,#fde725 18.8%,#f4e61e 20.4%,#e2e418 21.5%,#cde11d 22.7%,#95d840 25.4%,#75d054 27.1%,#50c46a 29.3%,#38b977 30.9%,#25ac82 33.1%,#1f9f88 35.9%,#25858e 40.9%,#3d4e8a 50.3%,#472e7c 61.9%,#481c6e 69.6%,#440256 85.1%,#440154 100%)"></i><i style="left:528px;background:linear-gradient(#fde725 0%,#fde725 18.8%,#f1e51d 20.4%,#dfe318 21.5%,#cae11f 22.7%,#7fd34e 26.5%,#48c16e 29.8%,#29af7f 32.6%,#1fa187 35.4%,#228d8d 39.8%,#3a548c 49.2%,#3f4889 53%,#482677 68%,#470d60 81.2%,#440154 86.7%,#440154 100%)"></i><i style="left:534px;background:linear-gradient(#fde725 0%,#fde725 18.8%,#f6e620 19.9%,#dde318 21.5%,#bddf26 23.2%,#6ccd5a 27.6%,#3bbb75 30.9%,#27ad81 33.1%,#1fa188 35.9%,#228b8d 40.3%,#3b528b 49.7%,#433d84 59.7%,#481f70 75.7%,#470d60 82.9%,#440154 87.3%,#440154 100%)"></i><i style="left:540px;background:linear-gradient(#fde725 0%,#fde725 18.2%,#f4e61e 19.9%,#e5e419 21%,#d0e11c 22.1%,#93d741 25.4%,#75d054 27.1%,#3dbc74 30.9%,#29af7f 33.1%,#20a486 35.4%,#20928c 39.2%,#365d8d 48.1%,#3c4f8a 50.8%,#472f7d 68.5%,#481c6e 78.5%,#46085c 84.5%,#440154 87.3%,#440154 100%)"></i><i style="left:546px;background:linear-gradient(#fde725 0%,#fde725 18.2%,#f1e51d 19.9%,#dfe318 21%,#cde11d 22.1%,#75d054 27.1%,#3fbc73 30.9%,#2ab07f 33.1%,#21a585 35.4%,#20928c 39.2%,#355e8d 48.1%,#3c508b 50.8%,#472e7c 69.6%,#481a6c 79.6%,#450457 85.6%,#440154 88.4%,#440154 100%)"></i><i style="left:552px;background:linear-gradient(#fde725 0%,#fde725 17.7%,#f4e61e 19.3%,#dde318 21%,#c0df25 22.7%,#75d054 27.1%,#40bd72 30.9%,#28ae80 33.7%,#1fa188 36.5%,#238a8d 40.9%,#3b528b 50.3%,#433d84 60.2%,#482071 75.1%,#470d60 82.3%,#440154 86.7%,#440154 100%)"></i><i style="left:558px;background:linear-gradient(#fde725 0%,#fde725 17.7%,#f6e620 18.8%,#eae51a 19.9%,#d8e219 21%,#bddf26 22.7%,#7cd250 26.5%,#48c16e 30.4%,#2db27d 33.1%,#21a685 35.4%,#20938c 39.2%,#34608d 48.1%,#3c4f8a 51.4%,#472e7c 65.2%,#471365 78.5%,#440154 85.6%,#440154 100%)"></i><i style="left:564px;background:linear-gradient(#fde725 0%,#fde725 17.1%,#f4e61e 18.8%,#dde318 20.4%,#c2df23 22.1%,#95d840 24.9%,#65cb5e 28.2%,#42be71 30.9%,#2eb37c 33.1%,#22a785 35.4%,#1f978b 38.7%,#32658e 47.5%,#3d4d8a 51.9%,#472f7d 62.4%,#481b6d 71.3%,#440154 85.1%,#440154 100%)"></i><i style="left:570px;background:linear-gradient(#fde725 0%,#fde725 17.1%,#f1e51d 18.8%,#dae319 20.4%,#b8de29 22.7%,#8bd646 25.4%,#65cb5e 28.2%,#3dbc74 31.5%,#27ad81 34.3%,#1fa188 37%,#238a8d 41.4%,#3b528b 50.8%,#46307e 60.2%,#481f70 66.3%,#440154 85.1%,#440154 100%)"></i><i style="left:576px;background:linear-gradient(#fde725 0%,#fde725 16.6%,#f4e61e 18.2%,#dfe318 19.9%,#c5e021 21.5%,#73d056 27.1%,#4ac16d 30.4%,#2fb47c 33.1%,#21a685 35.9%,#1f948c 39.8%,#34618d 48.6%,#3e4c8a 52.5%,#472c7a 60.8%,#482071 64.1%,#440154 84.5%,#440154 100%)"></i><i style="left:582px;background:linear-gradient(#fde725 0%,#fde725 16.6%,#ece51b 18.8%,#d5e21a 20.4%,#9bd93c 24.3%,#6ccd5a 27.6%,#3fbc73 31.5%,#26ad81 34.8%,#1e9d89 38.1%,#26818e 43.6%,#3d4d8a 52.5%,#472d7b 60.2%,#481d6f 64.6%,#440154 84.5%,#440154 100%)"></i><i style="left:588px;background:linear-gradient(#fde725 0%,#fde725 16%,#f6e620 17.7%,#e2e418 19.3%,#cae11f 21%,#9bd93c 24.3%,#81d34d 26%,#4cc26c 30.4%,#2eb37c 33.7%,#21a685 36.5%,#1f968b 39.8%,#32658e 48.6%,#3f4889 53.6%,#472c7a 60.8%,#481d6f 65.2%,#440154 85.1%,#440154 100%)"></i><i style="left:594px;background:linear-gradient(#fde725 0%,#fde725 16%,#f4e61e 17.7%,#dfe318 19.3%,#c8e020 21%,#98d83e 24.3%,#4ec36b 30.4%,#2fb47c 33.7%,#22a785 36.5%,#1f978b 39.8%,#31668e 48.6%,#3e4a89 53.6%,#472c7a 61.3%,#481d6f 65.7%,#440154 84.5%,#440154 100%)"></i><i style="left:600px;background:linear-gradient(#fde725 0%,#fde725 16%,#f4e61e 17.7%,#dfe318 19.3%,#c2df23 21.5%,#67cc5c 28.2%,#35b779 33.1%,#25ab82 35.9%,#1f9e89 38.7%,#277f8e 44.8%,#3e4a89 54.1%,#472d7b 61.9%,#481d6f 66.3%,#440154 85.1%,#440154 100%)"></i><i style="left:606px;background:linear-gradient(#fde725 0%,#fde725 16%,#f6e620 17.7%,#e2e418 19.3%,#c5e021 21.5%,#70cf57 27.6%,#3bbb75 32.6%,#28ae80 35.4%,#1fa287 38.1%,#228c8d 43.1%,#39558c 52.5%,#453581 60.2%,#481f70 66.9%,#440154 85.1%,#440154 100%)"></i><i style="left:612px;background:linear-gradient(#fde725 0%,#fde725 16.6%,#f4e61e 18.2%,#dfe318 19.9%,#c8e020 21.5%,#a0da39 24.3%,#54c568 30.4%,#3aba76 33.1%,#26ad81 35.9%,#1f9e89 39.8%,#26828e 45.9%,#3e4c8a 55.2%,#472d7b 63.5%,#481f70 68%,#440154 85.1%,#440154 100%)"></i><i style="left:618px;background:linear-gradient(#fde725 0%,#fde725 17.1%,#f1e51d 18.8%,#dde318 20.4%,#bddf26 22.7%,#86d549 26.5%,#46c06f 32%,#2eb37c 34.8%,#22a884 37.6%,#1f988b 42%,#26818e 47%,#3c4f8a 55.2%,#472f7d 64.1%,#481d6f 70.2%,#440154 85.1%,#440154 100%)"></i><i style="left:624px;background:linear-gradient(#fde725 0%,#fde725 17.1%,#f4e61e 18.8%,#e2e418 20.4%,#cae11f 22.1%,#a2da37 24.9%,#56c667 30.9%,#3aba76 33.7%,#25ac82 37%,#1e9d89 41.4%,#23898e 46.4%,#3b528b 55.2%,#414287 59.7%,#482173 71.3%,#440154 85.6%,#440154 100%)"></i><i style="left:630px;background:linear-gradient(#fde725 0%,#fde725 17.7%,#f4e61e 19.3%,#dfe318 21%,#cae11f 22.7%,#84d44b 27.6%,#44bf70 33.1%,#2ab07f 36.5%,#1fa287 40.3%,#218f8d 45.9%,#38598c 54.7%,#3e4c8a 57.5%,#472e7c 69.1%,#470d60 81.8%,#440154 86.7%,#440154 100%)"></i><i style="left:636px;background:linear-gradient(#fde725 0%,#fde725 18.2%,#f4e61e 19.9%,#dfe318 21.5%,#c2df23 23.8%,#8bd646 27.6%,#56c667 32%,#32b67a 35.9%,#22a884 39.2%,#1f968b 44.2%,#297a8e 49.7%,#3b518b 56.4%,#472c7a 72.4%,#48186a 80.1%,#440256 86.2%,#440154 100%)"></i><i style="left:642px;background:linear-gradient(#fde725 0%,#fde725 18.8%,#ece51b 21%,#d8e219 22.7%,#b8de29 24.9%,#9bd93c 27.1%,#84d44b 28.7%,#5cc863 32%,#38b977 35.9%,#26ad81 38.7%,#1f9e89 42.5%,#24878e 47.5%,#3b528b 56.4%,#3f4788 60.2%,#472a7a 74%,#481b6d 80.1%,#440154 86.7%,#440154 100%)"></i><i style="left:648px;background:linear-gradient(#fde725 0%,#fde725 18.8%,#f1e51d 21%,#dde318 22.7%,#bddf26 24.9%,#a0da39 27.1%,#89d548 28.7%,#60ca60 32%,#3aba76 35.9%,#25ac82 39.2%,#1e9c89 43.1%,#25848e 48.1%,#3b528b 56.4%,#404688 60.8%,#482979 74.6%,#481a6c 80.7%,#440256 86.2%,#440154 100%)"></i><i style="left:654px;background:linear-gradient(#fde725 0%,#fde725 19.3%,#f4e61e 21%,#e2e418 22.7%,#cae11f 24.3%,#a2da37 27.1%,#5cc863 32.6%,#32b67a 37%,#22a785 40.3%,#1f958b 44.8%,#33628d 53.6%,#3c4f8a 56.9%,#472d7b 72.4%,#481a6c 80.1%,#450457 85.6%,#440154 88.4%,#440154 100%)"></i><i style="left:660px;background:linear-gradient(#fde725 0%,#fde725 19.9%,#ece51b 22.1%,#d5e21a 23.8%,#a5db36 27.1%,#86d549 29.3%,#46c06f 34.8%,#2ab07f 38.1%,#1fa287 41.4%,#218f8d 45.9%,#39568c 55.2%,#3d4d8a 57.5%,#472c7a 72.4%,#481a6c 79.6%,#440256 85.6%,#440154 100%)"></i><i style="left:666px;background:linear-gradient(#fde725 0%,#fde725 19.9%,#f4e61e 21.5%,#e2e418 23.2%,#cae11f 24.9%,#b0dd2f 26.5%,#65cb5e 32%,#3aba76 35.9%,#27ad81 38.7%,#1fa188 41.4%,#238a8d 46.4%,#3b528b 55.8%,#3f4788 59.7%,#472a7a 72.4%,#471365 80.7%,#440154 85.6%,#440154 100%)"></i><i style="left:672px;background:linear-gradient(#fde725 0%,#fde725 20.4%,#ece51b 22.7%,#d5e21a 24.3%,#bade28 26%,#6ccd5a 31.5%,#3fbc73 35.4%,#26ad81 38.7%,#1f9e89 42%,#26818e 47.5%,#3d4e8a 56.4%,#472e7c 69.6%,#481769 78.5%,#440256 84.5%,#440154 100%)"></i><i style="left:678px;background:linear-gradient(#fde725 0%,#fde725 20.4%,#f4e61e 22.1%,#dfe318 23.8%,#c8e020 25.4%,#addc30 27.1%,#75d054 30.9%,#58c765 33.1%,#3aba76 35.9%,#24aa83 39.2%,#1f998a 42.5%,#2f6b8e 50.8%,#3c4f8a 55.8%,#472f7d 67.4%,#471063 79.6%,#440154 85.6%,#440154 100%)"></i><i style="left:684px;background:linear-gradient(#fde725 0%,#fde725 21%,#f1e51d 22.7%,#dae319 24.3%,#cae11f 25.4%,#b0dd2f 27.1%,#86d549 29.8%,#67cc5c 32%,#4cc26c 34.3%,#35b779 36.5%,#23a983 39.2%,#1f988b 42.5%,#306a8e 50.8%,#3d4e8a 55.8%,#472e7c 66.9%,#46075a 82.3%,#440154 85.1%,#440154 100%)"></i><i style="left:690px;background:linear-gradient(#fde725 0%,#fde725 21%,#f4e61e 22.7%,#dde318 24.3%,#cde11d 25.4%,#7fd34e 30.4%,#4cc26c 34.3%,#31b57b 37%,#23a983 39.2%,#1f9a8a 42%,#2f6c8e 50.3%,#3d4d8a 55.8%,#472e7c 65.7%,#481a6c 72.9%,#440154 85.1%,#440154 100%)"></i><i style="left:696px;background:linear-gradient(#fde725 0%,#fde725 21%,#f4e61e 22.7%,#dfe318 24.3%,#d0e11c 25.4%,#89d548 29.8%,#5ac864 33.1%,#35b779 36.5%,#23a983 39.2%,#1f9a8a 42%,#2e6f8e 49.7%,#3d4d8a 55.8%,#472f7d 64.6%,#481c6e 70.7%,#440154 85.1%,#440154 100%)"></i><i style="left:702px;background:linear-gradient(#fde725 0%,#fde725 21.5%,#f1e51d 23.2%,#dae319 24.9%,#c0df25 26.5%,#93d741 29.3%,#54c568 33.7%,#35b779 36.5%,#23a983 39.2%,#1e9b8a 42%,#2e6f8e 49.7%,#3d4d8a 55.8%,#472e7c 64.6%,#481b6d 70.7%,#440154 84.5%,#440154 100%)"></i><i style="left:708px;background:linear-gradient(#fde725 0%,#fde725 21.5%,#f8e621 22.7%,#e5e419 24.3%,#cae11f 26%,#8bd646 29.8%,#54c568 33.7%,#31b57b 37%,#23a983 39.2%,#1f988b 42.5%,#306a8e 50.8%,#3e4a89 56.4%,#472d7b 64.6%,#481d6f 69.1%,#440154 84.5%,#440154 100%)"></i><i style="left:714px;background:linear-gradient(#fde725 0%,#fde725 21.5%,#f4e61e 23.2%,#dde318 24.9%,#c2df23 26.5%,#95d840 29.3%,#6ccd5a 32%,#48c16e 34.8%,#2db27d 37.6%,#20a486 40.3%,#21918c 44.2%,#375a8c 53.6%,#414287 58.6%,#482576 66.3%,#481769 72.4%,#440154 85.1%,#440154 100%)"></i><i style="left:720px;background:linear-gradient(#fde725 0%,#fde725 21.5%,#f4e61e 23.2%,#dfe318 24.9%,#c5e021 26.5%,#a0da39 28.7%,#75d054 31.5%,#48c16e 34.8%,#29af7f 38.1%,#1fa287 40.9%,#228d8d 45.3%,#3a548c 54.7%,#46327e 63%,#481f70 68%,#440154 84.5%,#440154 100%)"></i><i style="left:726px;background:linear-gradient(#fde725 0%,#fde725 22.1%,#f6e620 23.2%,#dfe318 24.9%,#d0e11c 26%,#aadc32 28.2%,#7fd34e 30.9%,#58c765 33.7%,#38b977 36.5%,#27ad81 38.7%,#1fa188 41.4%,#23888e 46.4%,#3c508b 55.8%,#472d7b 64.1%,#482071 67.4%,#440154 84.5%,#440154 100%)"></i><i style="left:732px;background:linear-gradient(#fde725 0%,#fde725 22.1%,#f6e620 23.2%,#dfe318 24.9%,#d0e11c 26%,#7fd34e 30.9%,#4cc26c 34.8%,#2fb47c 37.6%,#21a685 40.3%,#1f948c 44.2%,#33628d 53%,#414487 58.6%,#482878 65.2%,#481c6e 69.1%,#440154 84.5%,#440154 100%)"></i><i style="left:738px;background:linear-gradient(#fde725 0%,#fde725 21.5%,#f6e620 23.2%,#dfe318 24.9%,#d0e11c 26%,#9bd93c 29.3%,#69cd5b 32.6%,#40bd72 35.9%,#29af7f 38.7%,#1fa287 41.4%,#218e8d 45.9%,#39558c 55.2%,#443983 61.3%,#481f70 68%,#440154 84.5%,#440154 100%)"></i><i style="left:744px;background:linear-gradient(#fde725 0%,#fde725 21.5%,#f4e61e 23.2%,#dfe318 24.9%,#d0e11c 26%,#93d741 29.8%,#6ccd5a 32.6%,#50c46a 34.8%,#38b977 37%,#25ac82 39.8%,#1f9f88 42.5%,#26828e 48.1%,#3d4e8a 56.9%,#472f7d 64.1%,#481c6e 69.6%,#440154 85.1%,#440154 100%)"></i><i style="left:750px;background:linear-gradient(#fde725 0%,#fde725 21.5%,#f4e61e 23.2%,#dfe318 24.9%,#d0e11c 26%,#addc30 28.2%,#7cd250 31.5%,#58c765 34.3%,#35b779 37.6%,#24aa83 40.3%,#1e9b8a 43.6%,#2c738e 50.8%,#3e4c8a 57.5%,#472e7c 65.2%,#481b6d 71.3%,#440154 85.1%,#440154 100%)"></i><i style="left:756px;background:linear-gradient(#fde725 0%,#fde725 21.5%,#f4e61e 23.2%,#dfe318 24.9%,#c5e021 26.5%,#75d054 32%,#40bd72 36.5%,#27ad81 39.8%,#1fa188 42.5%,#228b8d 47%,#3b528b 56.4%,#46327e 65.2%,#481b6d 72.9%,#440154 84.5%,#440154 100%)"></i><i style="left:762px;background:linear-gradient(#fde725 0%,#fde725 21.5%,#f4e61e 23.2%,#dfe318 24.9%,#bddf26 27.1%,#60ca60 33.7%,#38b977 37.6%,#23a983 40.9%,#1f998a 44.2%,#2e6e8e 51.9%,#3d4e8a 57.5%,#472d7b 68%,#470e61 79%,#440154 85.1%,#440154 100%)"></i><i style="left:768px;background:linear-gradient(#fde725 0%,#fde725 21.5%,#f4e61e 23.2%,#dde318 24.9%,#bddf26 27.1%,#69cd5b 33.1%,#4ec36b 35.4%,#2fb47c 38.7%,#21a685 41.4%,#1f948c 45.3%,#34608d 54.1%,#3d4e8a 57.5%,#472f7d 68%,#46085c 81.8%,#440154 85.1%,#440154 100%)"></i><i style="left:774px;background:linear-gradient(#fde725 0%,#fde725 21.5%,#f8e621 22.7%,#e5e419 24.3%,#cde11d 26%,#70cf57 32.6%,#4ec36b 35.4%,#2fb47c 38.7%,#21a685 41.4%,#20938c 45.3%,#34608d 54.1%,#3d4e8a 57.5%,#472d7b 68.5%,#450457 83.4%,#440154 86.2%,#440154 100%)"></i><i style="left:780px;background:linear-gradient(#fde725 0%,#fde725 21.5%,#f4e61e 23.2%,#dde318 24.9%,#bddf26 27.1%,#69cd5b 33.1%,#4ec36b 35.4%,#2fb47c 38.7%,#21a685 41.4%,#1f968b 44.8%,#31668e 53%,#3d4d8a 57.5%,#472e7c 67.4%,#48186a 75.1%,#440154 84.5%,#440154 100%)"></i><i style="left:786px;background:linear-gradient(#fde725 0%,#fde725 21.5%,#f4e61e 23.2%,#dfe318 24.9%,#d0e11c 26%,#addc30 28.2%,#63cb5f 33.7%,#48c16e 35.9%,#2cb17e 39.2%,#20a386 42%,#21908d 45.9%,#38588c 55.2%,#414287 60.2%,#482979 68%,#481668 75.1%,#440154 84.5%,#440154 100%)"></i><i style="left:792px;background:linear-gradient(#fde725 0%,#fde725 21.5%,#f4e61e 23.2%,#dfe318 24.9%,#c8e020 26.5%,#a0da39 29.3%,#86d549 30.9%,#42be71 36.5%,#28ae80 39.8%,#1fa088 42.5%,#25858e 47.5%,#3d4e8a 56.9%,#472f7d 65.2%,#481d6f 70.7%,#440154 84.5%,#440154 100%)"></i><i style="left:798px;background:linear-gradient(#fde725 0%,#fde725 21.5%,#f6e620 23.2%,#e2e418 24.9%,#d2e21b 26%,#b0dd2f 28.2%,#70cf57 32.6%,#3dbc74 37%,#25ac82 40.3%,#1e9d89 43.1%,#2b748e 50.3%,#3f4889 58%,#472c7a 65.2%,#481d6f 69.6%,#440154 84.5%,#440154 100%)"></i><i style="left:804px;background:linear-gradient(#fde725 0%,#fde725 22.1%,#f1e51d 23.8%,#dae319 25.4%,#bade28 27.6%,#90d743 30.4%,#5cc863 34.3%,#38b977 37.6%,#23a983 40.9%,#1f9a8a 43.6%,#2e6e8e 51.4%,#3f4889 58%,#482979 65.2%,#481d6f 68.5%,#440154 84.5%,#440154 100%)"></i><i style="left:810px;background:linear-gradient(#fde725 0%,#fde725 22.1%,#ece51b 24.3%,#d5e21a 26%,#b2dd2d 28.2%,#7ad151 32%,#56c667 34.8%,#34b679 38.1%,#21a585 41.4%,#1f948c 44.8%,#34618d 53.6%,#414287 59.1%,#482173 66.3%,#440154 84.5%,#440154 100%)"></i><i style="left:816px;background:linear-gradient(#fde725 0%,#fde725 22.1%,#f4e61e 23.8%,#dde318 25.4%,#bddf26 27.6%,#a2da37 29.3%,#6ccd5a 33.1%,#50c46a 35.4%,#2fb47c 38.7%,#21a685 41.4%,#1f958b 44.8%,#33628d 53.6%,#404588 58.6%,#482979 64.1%,#481d6f 67.4%,#440154 84.5%,#440154 100%)"></i><i style="left:822px;background:linear-gradient(#fde725 0%,#fde725 22.1%,#f4e61e 23.8%,#dfe318 25.4%,#bddf26 27.6%,#93d741 30.4%,#6ccd5a 33.1%,#4ac16d 35.9%,#2fb47c 38.7%,#21a685 41.4%,#1f968b 44.8%,#31668e 53%,#433d84 60.2%,#482071 65.7%,#440154 84.5%,#440154 100%)"></i><i style="left:828px;background:linear-gradient(#fde725 0%,#fde725 22.1%,#f4e61e 23.8%,#dfe318 25.4%,#d0e11c 26.5%,#93d741 30.4%,#6ccd5a 33.1%,#4ac16d 35.9%,#34b679 38.1%,#23a983 40.9%,#1f998a 44.2%,#2c718e 51.4%,#414287 59.1%,#482878 64.1%,#481c6e 67.4%,#440154 84.5%,#440154 100%)"></i><i style="left:834px;background:linear-gradient(#fde725 0%,#fde725 22.1%,#f6e620 23.8%,#dfe318 25.4%,#c8e020 27.1%,#addc30 28.7%,#7ad151 32%,#56c667 34.8%,#37b878 37.6%,#25ab82 40.3%,#1e9c89 43.6%,#27808e 49.2%,#3e4c8a 57.5%,#472e7c 63%,#481f70 66.3%,#440154 84.5%,#440154 100%)"></i><i style="left:840px;background:linear-gradient(#fde725 0%,#fde725 22.7%,#f1e51d 24.3%,#e2e418 25.4%,#c8e020 27.1%,#9bd93c 29.8%,#70cf57 32.6%,#46c06f 35.9%,#2cb17e 38.7%,#1fa287 42%,#21908d 46.4%,#375a8c 55.2%,#453781 61.9%,#482173 66.3%,#440154 84.5%,#440154 100%)"></i><i style="left:846px;background:linear-gradient(#fde725 0%,#fde725 22.7%,#f1e51d 24.3%,#dae319 26%,#bddf26 27.6%,#75d054 32%,#48c16e 35.4%,#2db27d 38.1%,#21a585 40.9%,#20938c 45.3%,#32648e 53.6%,#3f4788 58.6%,#482878 66.3%,#481668 74%,#440154 85.1%,#440154 100%)"></i><i style="left:852px;background:linear-gradient(#fde725 0%,#fde725 22.7%,#f8e621 23.8%,#ece51b 24.9%,#dae319 26%,#b2dd2d 28.2%,#60ca60 33.1%,#37b878 36.5%,#26ad81 38.7%,#1fa088 42%,#238a8d 47%,#3b518b 56.4%,#46307e 65.7%,#481769 75.1%,#440154 84.5%,#440154 100%)"></i><i style="left:858px;background:linear-gradient(#fde725 0%,#fde725 22.7%,#f4e61e 24.3%,#e2e418 25.4%,#d0e11c 26.5%,#a5db36 28.7%,#63cb5f 32.6%,#37b878 35.9%,#26ad81 38.1%,#1fa088 41.4%,#228b8d 46.4%,#3b528b 55.8%,#414287 60.8%,#482475 71.8%,#440154 85.1%,#440154 100%)"></i><i style="left:864px;background:linear-gradient(#fde725 0%,#fde725 22.7%,#f4e61e 24.3%,#e2e418 25.4%,#cde11d 26.5%,#6ece58 31.5%,#3dbc74 34.8%,#28ae80 37%,#1fa187 40.3%,#228b8d 45.9%,#3b528b 55.2%,#433d84 63%,#482173 72.9%,#450457 83.4%,#440154 87.8%,#440154 100%)"></i><i style="left:870px;background:linear-gradient(#fde725 0%,#fde725 22.7%,#f8e621 23.8%,#e2e418 25.4%,#d8e219 26%,#b5de2b 27.6%,#7cd250 30.4%,#4cc26c 33.1%,#2cb17e 35.9%,#22a785 38.1%,#1f978b 42.5%,#297b8e 48.1%,#3c508b 55.2%,#472e7c 68%,#471063 79.6%,#440154 84.5%,#440154 100%)"></i><i style="left:876px;background:linear-gradient(#fde725 0%,#fde725 22.7%,#f8e621 23.8%,#dfe318 25.4%,#c8e020 26.5%,#75d054 30.4%,#44bf70 33.1%,#2fb47c 34.8%,#23a983 37%,#1f998a 41.4%,#26828e 46.4%,#3c508b 54.7%,#46307e 66.3%,#460a5d 81.2%,#440154 85.1%,#440154 100%)"></i><i style="left:882px;background:linear-gradient(#fde725 0%,#fde725 22.7%,#f1e51d 24.3%,#eae51a 24.9%,#d2e21b 26%,#aadc32 27.6%,#58c765 31.5%,#35b779 33.7%,#27ad81 35.4%,#1fa287 38.1%,#228d8d 43.6%,#39558c 53%,#404588 57.5%,#482677 68.5%,#440154 84.5%,#440154 100%)"></i><i style="left:888px;background:linear-gradient(#fde725 0%,#fde725 22.7%,#f6e620 23.8%,#e5e419 24.9%,#dae319 25.4%,#c0df25 26.5%,#67cc5c 30.4%,#3fbc73 32.6%,#2ab07f 34.3%,#20a386 37%,#218f8d 42.5%,#38588c 51.9%,#3f4788 55.8%,#482979 66.3%,#470d60 78.5%,#440154 85.1%,#440154 100%)"></i><i style="left:894px;background:linear-gradient(#fde725 0%,#fde725 22.1%,#f4e61e 23.8%,#ece51b 24.3%,#dfe318 24.9%,#c8e020 26%,#90d743 28.2%,#54c568 30.9%,#31b57b 33.1%,#25ab82 34.8%,#1f9e89 38.1%,#23888e 43.1%,#3b518b 52.5%,#472f7d 63%,#481c6e 69.6%,#440154 85.1%,#440154 100%)"></i><i style="left:900px;background:linear-gradient(#fde725 0%,#fde725 22.1%,#f6e620 23.2%,#e5e419 24.3%,#dae319 24.9%,#c0df25 26%,#7cd250 28.7%,#58c765 30.4%,#34b679 32.6%,#28ae80 33.7%,#1fa187 36.5%,#228d8d 41.4%,#39558c 50.8%,#414287 55.8%,#482576 65.2%,#481a6c 70.2%,#440154 84.5%,#440154 100%)"></i><i style="left:906px;background:linear-gradient(#fde725 0%,#fde725 21.5%,#f4e61e 23.2%,#dfe318 24.3%,#c5e021 25.4%,#75d054 28.7%,#48c16e 30.9%,#2fb47c 32.6%,#24aa83 34.3%,#1e9c89 37.6%,#297a8e 44.2%,#3d4e8a 51.9%,#472c7a 62.4%,#481d6f 66.9%,#440154 85.1%,#440154 100%)"></i><i style="left:912px;background:linear-gradient(#fde725 0%,#fde725 21.5%,#f6e620 22.7%,#e5e419 23.8%,#dae319 24.3%,#c0df25 25.4%,#89d548 27.6%,#4ec36b 30.4%,#34b679 32%,#25ac82 33.7%,#1f9f88 36.5%,#25838e 42%,#3d4e8a 51.4%,#472d7b 61.3%,#481d6f 66.3%,#440154 85.1%,#440154 100%)"></i><i style="left:918px;background:linear-gradient(#fde725 0%,#fde725 21%,#f8e621 22.1%,#dfe318 23.8%,#c5e021 24.9%,#69cd5b 28.7%,#40bd72 30.9%,#2cb17e 32.6%,#22a785 34.3%,#1f958b 38.1%,#33638d 47%,#3e4c8a 51.4%,#472c7a 61.3%,#481d6f 65.7%,#440154 84.5%,#440154 100%)"></i><i style="left:924px;background:linear-gradient(#fde725 0%,#fde725 21%,#ece51b 22.7%,#d8e219 23.8%,#b0dd2f 25.4%,#65cb5e 28.7%,#3dbc74 30.9%,#29af7f 32.6%,#20a386 34.8%,#21918c 38.7%,#375a8c 48.1%,#3f4889 51.9%,#472a7a 61.3%,#481c6e 66.3%,#440154 85.1%,#440154 100%)"></i><i style="left:930px;background:linear-gradient(#fde725 0%,#fde725 20.4%,#f1e51d 22.1%,#dde318 23.2%,#c2df23 24.3%,#69cd5b 28.2%,#40bd72 30.4%,#2cb17e 32%,#22a785 33.7%,#1f958b 37.6%,#33638d 46.4%,#3e4a89 50.8%,#472d7b 60.2%,#481d6f 65.2%,#440154 85.1%,#440154 100%)"></i><i style="left:936px;background:linear-gradient(#fde725 0%,#fde725 19.9%,#f4e61e 21.5%,#e2e418 22.7%,#c8e020 23.8%,#6ece58 27.6%,#42be71 29.8%,#28ae80 32%,#20a386 34.3%,#218f8d 38.7%,#39568c 48.1%,#3f4889 51.4%,#472a7a 60.8%,#481c6e 66.3%,#440154 85.1%,#440154 100%)"></i><i style="left:942px;background:linear-gradient(#fde725 0%,#fde725 19.9%,#f6e620 21%,#e5e419 22.1%,#dae319 22.7%,#c0df25 23.8%,#7cd250 26.5%,#46c06f 29.3%,#2eb37c 30.9%,#22a785 33.1%,#1f968b 37%,#33638d 45.9%,#3d4e8a 49.7%,#472f7d 59.1%,#481c6e 65.7%,#440154 85.1%,#440154 100%)"></i><i style="left:948px;background:linear-gradient(#fde725 0%,#fde725 19.3%,#f8e621 20.4%,#eae51a 21.5%,#d2e21b 22.7%,#b8de29 23.8%,#8ed645 25.4%,#48c16e 28.7%,#31b57b 30.4%,#24aa83 32%,#1e9c89 35.4%,#287d8e 41.4%,#3c4f8a 49.2%,#46307e 58.6%,#481f70 64.1%,#440154 85.1%,#440154 100%)"></i><i style="left:954px;background:linear-gradient(#fde725 0%,#fde725 19.3%,#ece51b 21%,#d8e219 22.1%,#b0dd2f 23.8%,#93d741 24.9%,#4cc26c 28.2%,#32b67a 29.8%,#22a884 32%,#1f988b 35.9%,#2b748e 42.5%,#3d4d8a 49.2%,#472e7c 59.1%,#481c6e 65.2%,#440154 84.5%,#440154 100%)"></i><i style="left:960px;background:linear-gradient(#fde725 0%,#fde725 18.8%,#f1e51d 20.4%,#dde318 21.5%,#c2df23 22.7%,#67cc5c 26.5%,#3fbc73 28.7%,#2ab07f 30.4%,#20a486 32.6%,#20928c 37%,#355e8d 45.9%,#3e4c8a 49.2%,#472e7c 58.6%,#481d6f 64.1%,#440154 84.5%,#440154 100%)"></i><i style="left:966px;background:linear-gradient(#fde725 0%,#fde725 18.8%,#ece51b 20.4%,#e5e419 21%,#d8e219 21.5%,#b0dd2f 23.2%,#63cb5f 26.5%,#3bbb75 28.7%,#28ae80 30.4%,#1fa188 33.1%,#23898e 38.1%,#3b518b 47.5%,#472f7d 57.5%,#481d6f 63.5%,#440154 85.1%,#440154 100%)"></i><i style="left:972px;background:linear-gradient(#fde725 0%,#fde725 18.2%,#f8e621 19.3%,#dfe318 21%,#c5e021 22.1%,#6ccd5a 26%,#42be71 28.2%,#2db27d 29.8%,#25ab82 30.9%,#1e9d89 33.7%,#287d8e 39.8%,#3e4a89 48.6%,#472d7b 57.5%,#481d6f 62.4%,#440154 85.1%,#440154 100%)"></i><i style="left:978px;background:linear-gradient(#fde725 0%,#fde725 18.2%,#f6e620 19.3%,#e5e419 20.4%,#dae319 21%,#c0df25 22.1%,#69cd5b 26%,#40bd72 28.2%,#2cb17e 29.8%,#22a785 31.5%,#1f968b 34.8%,#32648e 43.6%,#3e4c8a 48.1%,#472d7b 56.9%,#481d6f 61.9%,#440154 85.1%,#440154 100%)"></i><i style="left:984px;background:linear-gradient(#fde725 0%,#fde725 17.7%,#f4e61e 19.3%,#dfe318 20.4%,#c8e020 21.5%,#70cf57 25.4%,#3fbc73 28.2%,#2cb17e 29.8%,#20a386 32%,#21908d 35.9%,#38598c 45.3%,#3f4889 48.6%,#472c7a 56.9%,#481d6f 61.3%,#440154 85.1%,#440154 100%)"></i><i style="left:990px;background:linear-gradient(#fde725 0%,#fde725 17.7%,#f6e620 18.8%,#e5e419 19.9%,#d0e11c 21%,#90d743 23.8%,#63cb5f 26%,#3fbc73 28.2%,#2ab07f 29.8%,#20a386 32%,#218f8d 35.9%,#38588c 45.3%,#443a83 52.5%,#481f70 60.2%,#440154 84.5%,#440154 100%)"></i><i style="left:996px;background:linear-gradient(#fde725 0%,#fde725 17.1%,#f8e621 18.2%,#dfe318 19.9%,#cae11f 21%,#98d83e 23.2%,#60ca60 26%,#3dbc74 28.2%,#2ab07f 29.8%,#20a386 32%,#218f8d 35.9%,#38588c 45.3%,#453882 53%,#481f70 60.2%,#440154 84.5%,#440154 100%)"></i><i style="left:1002px;background:linear-gradient(#fde725 0%,#fde725 17.1%,#efe51c 18.8%,#dae319 19.9%,#c2df23 21%,#73d056 24.9%,#44bf70 27.6%,#2fb47c 29.3%,#21a685 31.5%,#1f948c 34.8%,#34608d 44.2%,#3e4a89 48.1%,#472d7b 56.4%,#481f70 60.8%,#440154 84.5%,#440154 100%)"></i><i style="left:1008px;background:linear-gradient(#fde725 0%,#fde725 16.6%,#f8e621 17.7%,#dfe318 19.3%,#cae11f 20.4%,#86d549 23.8%,#54c568 26.5%,#35b779 28.7%,#24aa83 30.9%,#1e9b8a 33.7%,#2e6f8e 42%,#3e4a89 48.6%,#472d7b 56.9%,#481f70 61.3%,#440154 85.1%,#440154 100%)"></i><i style="left:1014px;background:linear-gradient(#fde725 0%,#fde725 16.6%,#f6e620 17.7%,#dde318 19.3%,#c8e020 20.4%,#a5db36 22.1%,#7ad151 24.3%,#54c568 26.5%,#3bbb75 28.2%,#27ad81 30.4%,#1fa287 32.6%,#228d8d 37%,#39568c 47%,#443983 54.1%,#481f70 61.9%,#440154 85.1%,#440154 100%)"></i><i style="left:1020px;background:linear-gradient(#fde725 0%,#fde725 16%,#f4e61e 17.7%,#e2e418 18.8%,#cde11d 19.9%,#6ece58 24.9%,#3bbb75 28.2%,#27ad81 30.4%,#1fa187 33.1%,#228d8d 38.1%,#39568c 48.1%,#443983 55.2%,#481f70 63%,#440154 84.5%,#440154 100%)"></i><i style="left:1026px;background:linear-gradient(#fde725 0%,#fde725 16%,#f1e51d 17.7%,#dfe318 18.8%,#cde11d 19.9%,#95d840 22.7%,#54c568 26.5%,#31b57b 29.3%,#24aa83 31.5%,#1f998a 36.5%,#26828e 42%,#3e4a89 51.9%,#472d7b 59.7%,#481d6f 64.1%,#440154 85.1%,#440154 100%)"></i><i style="left:1032px;background:linear-gradient(#fde725 0%,#fde725 16%,#f6e620 17.1%,#dfe318 18.8%,#cae11f 19.9%,#70cf57 24.9%,#3aba76 28.7%,#28ae80 30.9%,#20a386 34.3%,#21908d 40.9%,#2d708e 47%,#3e4989 53.6%,#482979 61.3%,#481d6f 65.2%,#440154 84.5%,#440154 100%)"></i><i style="left:1038px;background:linear-gradient(#fde725 0%,#fde725 16%,#f1e51d 17.7%,#dfe318 18.8%,#cde11d 19.9%,#89d548 23.8%,#56c667 27.1%,#35b779 29.8%,#25ab82 32.6%,#1e9b8a 38.7%,#23888e 44.2%,#3b528b 53%,#472f7d 60.8%,#481d6f 65.2%,#440154 85.1%,#440154 100%)"></i><i style="left:1044px;background:linear-gradient(#fde725 0%,#fde725 16%,#f8e621 17.1%,#e5e419 18.8%,#cae11f 20.4%,#93d741 23.8%,#60ca60 27.1%,#3aba76 30.4%,#27ad81 33.1%,#1fa187 37.6%,#218f8d 44.2%,#32648e 51.4%,#414487 56.9%,#482878 63%,#481d6f 65.7%,#440154 84.5%,#440154 100%)"></i><i style="left:1050px;background:linear-gradient(#fde725 0%,#fde725 16%,#f4e61e 17.7%,#dfe318 19.3%,#c8e020 21%,#8ed645 24.9%,#6ece58 27.1%,#4cc26c 29.8%,#2eb37c 33.1%,#22a884 36.5%,#1f978b 42.5%,#228b8d 45.9%,#3a538b 54.7%,#46307e 61.9%,#481f70 66.3%,#440154 84.5%,#440154 100%)"></i><i style="left:1056px;background:linear-gradient(#fde725 0%,#fde725 16.6%,#f4e61e 18.2%,#dfe318 19.9%,#c8e020 21.5%,#73d056 27.6%,#38b977 33.1%,#28ae80 35.9%,#1fa187 39.8%,#218e8d 45.9%,#38588c 54.7%,#424186 59.1%,#482173 66.9%,#440154 84.5%,#440154 100%)"></i><i style="left:1062px;background:linear-gradient(#fde725 0%,#fde725 16.6%,#fbe723 17.7%,#ece51b 19.3%,#d8e219 21%,#b2dd2d 23.8%,#9bd93c 25.4%,#5ec962 30.4%,#3aba76 34.3%,#26ad81 37.6%,#1f9e89 42%,#238a8d 47%,#3b528b 55.8%,#46327e 64.1%,#481d6f 70.7%,#440154 84.5%,#440154 100%)"></i><i style="left:1068px;background:linear-gradient(#fde725 0%,#fde725 17.1%,#f1e51d 19.3%,#dfe318 21%,#c2df23 23.2%,#81d34d 28.2%,#50c46a 32.6%,#2fb47c 36.5%,#22a785 39.8%,#1f968b 44.2%,#287d8e 49.2%,#3d4e8a 56.9%,#472e7c 66.9%,#46075a 81.8%,#440154 85.6%,#440154 100%)"></i><i style="left:1074px;background:linear-gradient(#fde725 0%,#fde725 18.2%,#f4e61e 19.9%,#dfe318 21.5%,#cae11f 23.2%,#81d34d 28.7%,#4ac16d 33.7%,#2cb17e 37.6%,#20a386 40.9%,#218f8d 45.9%,#375a8c 54.7%,#3e4c8a 57.5%,#472e7c 68%,#46075a 82.3%,#440154 85.1%,#440154 100%)"></i><i style="left:1080px;background:linear-gradient(#fde725 0%,#fde725 18.8%,#f4e61e 20.4%,#e2e418 22.1%,#cae11f 23.8%,#86d549 28.7%,#52c569 33.1%,#2fb47c 37%,#21a585 40.3%,#20928c 44.8%,#365c8d 54.1%,#3e4a89 57.5%,#472d7b 68%,#450559 82.9%,#440154 85.6%,#440154 100%)"></i><i style="left:1086px;background:linear-gradient(#fde725 0%,#fde725 19.3%,#f4e61e 21%,#e2e418 22.7%,#cae11f 24.3%,#6ece58 30.9%,#3dbc74 35.4%,#29af7f 38.1%,#1fa287 40.9%,#218e8d 45.3%,#39568c 54.7%,#404688 58.6%,#482677 68.5%,#440154 84.5%,#440154 100%)"></i><i style="left:1092px;background:linear-gradient(#fde725 0%,#fde725 19.9%,#f4e61e 21.5%,#dfe318 23.2%,#c8e020 24.9%,#77d153 30.4%,#3dbc74 35.4%,#25ac82 38.7%,#1e9d89 42%,#2a768e 49.2%,#3e4c8a 56.4%,#472d7b 65.2%,#481f70 69.6%,#440154 84.5%,#440154 100%)"></i><i style="left:1098px;background:linear-gradient(#fde725 0%,#fde725 20.4%,#f4e61e 22.1%,#dfe318 23.8%,#d0e11c 24.9%,#addc30 27.1%,#73d056 30.9%,#4ac16d 34.3%,#2fb47c 37%,#21a685 39.8%,#1f968b 43.1%,#31678e 51.4%,#3e4a89 56.4%,#472e7c 64.1%,#481c6e 69.6%,#440154 85.1%,#440154 100%)"></i><i style="left:1104px;background:linear-gradient(#fde725 0%,#fde725 21%,#f4e61e 22.7%,#dde318 24.3%,#cde11d 25.4%,#86d549 29.8%,#58c765 33.1%,#34b679 36.5%,#22a884 39.2%,#1f978b 42.5%,#32658e 51.4%,#3e4989 56.4%,#472f7d 63.5%,#481d6f 69.1%,#440154 84.5%,#440154 100%)"></i><i style="left:1110px;background:linear-gradient(#fde725 0%,#fde725 21.5%,#ece51b 23.8%,#dae319 24.9%,#b8de29 27.1%,#81d34d 30.4%,#5ac864 33.1%,#34b679 36.5%,#22a884 39.2%,#1f978b 42.5%,#31678e 50.8%,#3e4c8a 55.8%,#472d7b 64.1%,#481c6e 69.1%,#440154 84.5%,#440154 100%)"></i><i style="left:1116px;background:linear-gradient(#fde725 0%,#fde725 21.5%,#f4e61e 23.2%,#dfe318 24.9%,#cde11d 26%,#a8db34 28.2%,#63cb5f 32.6%,#3aba76 35.9%,#25ab82 38.7%,#1e9c89 41.4%,#2c738e 48.6%,#3e4a89 55.8%,#472c7a 64.1%,#481d6f 68.5%,#440154 84.5%,#440154 100%)"></i><i style="left:1122px;background:linear-gradient(#fde725 0%,#fde725 22.1%,#f1e51d 23.8%,#e2e418 24.9%,#d0e11c 26%,#7cd250 30.9%,#54c568 33.7%,#2fb47c 37%,#22a884 39.2%,#1f998a 42%,#2e6d8e 49.7%,#3e4a89 55.8%,#472d7b 63.5%,#481d6f 68%,#440154 84.5%,#440154 100%)"></i><i style="left:1128px;background:linear-gradient(#fde725 0%,#fde725 22.1%,#f8e621 23.2%,#ece51b 24.3%,#dae319 25.4%,#bddf26 27.1%,#7cd250 30.9%,#46c06f 34.8%,#2cb17e 37.6%,#21a585 39.8%,#20928c 43.1%,#365c8d 52.5%,#3e4a89 55.8%,#472c7a 63.5%,#481d6f 68%,#440154 84.5%,#440154 100%)"></i><i style="left:1134px;background:linear-gradient(#fde725 0%,#fde725 22.1%,#f4e61e 23.8%,#e5e419 24.9%,#d2e21b 26%,#a2da37 28.7%,#65cb5e 32.6%,#3aba76 35.9%,#25ab82 38.7%,#1e9c89 41.4%,#2c738e 48.6%,#3c4f8a 54.7%,#472e7c 63%,#481d6f 67.4%,#440154 85.1%,#440154 100%)"></i><i style="left:1140px;background:linear-gradient(#fde725 0%,#fde725 22.1%,#f4e61e 23.8%,#dde318 25.4%,#c0df25 27.1%,#75d054 31.5%,#40bd72 35.4%,#27ad81 38.1%,#1f9f88 40.9%,#25838e 45.9%,#3d4d8a 55.2%,#472e7c 63%,#481d6f 67.4%,#440154 85.1%,#440154 100%)"></i><i style="left:1146px;background:linear-gradient(#fde725 0%,#fde725 22.1%,#f4e61e 23.8%,#efe51c 24.3%,#dde318 25.4%,#cae11f 26.5%,#7fd34e 30.9%,#4ec36b 34.3%,#2cb17e 37.6%,#21a585 39.8%,#20938c 43.1%,#34608d 51.9%,#3e4a89 55.8%,#472c7a 63.5%,#481d6f 68%,#440154 84.5%,#440154 100%)"></i><i style="left:1152px;background:linear-gradient(#fde725 0%,#fde725 22.1%,#f4e61e 23.8%,#e7e419 24.9%,#d5e21a 26%,#b8de29 27.6%,#6ece58 32%,#40bd72 35.4%,#28ae80 38.1%,#1fa287 40.3%,#218e8d 44.2%,#39558c 53.6%,#46307e 62.4%,#482071 66.9%,#440154 84.5%,#440154 100%)"></i><i style="left:1158px;background:linear-gradient(#fde725 0%,#fde725 22.7%,#f6e620 23.8%,#dfe318 25.4%,#cde11d 26.5%,#89d548 30.4%,#5ec962 33.1%,#3bbb75 35.9%,#28ae80 38.1%,#1fa088 40.9%,#25858e 45.9%,#3d4e8a 55.2%,#472d7b 63.5%,#481d6f 68%,#440154 84.5%,#440154 100%)"></i><i style="left:1164px;background:linear-gradient(#fde725 0%,#fde725 22.7%,#f6e620 23.8%,#dfe318 25.4%,#cde11d 26.5%,#93d741 29.8%,#67cc5c 32.6%,#3bbb75 35.9%,#25ac82 38.7%,#1f9e89 41.4%,#27808e 47%,#3e4989 56.4%,#472a7a 64.1%,#481c6e 68.5%,#440154 84.5%,#440154 100%)"></i><i style="left:1170px;background:linear-gradient(#fde725 0%,#fde725 22.7%,#f1e51d 24.3%,#dfe318 25.4%,#c5e021 27.1%,#9dd93b 29.3%,#70cf57 32%,#42be71 35.4%,#29af7f 38.1%,#20a386 40.3%,#21908d 44.2%,#38588c 53.6%,#414487 58%,#482878 64.6%,#481b6d 69.1%,#440154 85.1%,#440154 100%)"></i><i style="left:1176px;background:linear-gradient(#fde725 0%,#fde725 22.7%,#f1e51d 24.3%,#e2e418 25.4%,#d0e11c 26.5%,#a8db34 28.7%,#7ad151 31.5%,#52c569 34.3%,#32b67a 37%,#24aa83 39.2%,#1f998a 42.5%,#306a8e 50.8%,#3e4a89 56.4%,#472a7a 64.1%,#481c6e 68.5%,#440154 84.5%,#440154 100%)"></i><i style="left:1182px;background:linear-gradient(#fde725 0%,#fde725 22.7%,#f1e51d 24.3%,#dae319 26%,#b2dd2d 28.2%,#69cd5b 32.6%,#3fbc73 35.9%,#2ab07f 38.1%,#20a486 40.3%,#20928c 44.2%,#355e8d 53%,#404688 57.5%,#472a7a 64.1%,#481f70 67.4%,#440154 84.5%,#440154 100%)"></i><i style="left:1188px;background:linear-gradient(#fde725 0%,#fde725 22.7%,#f1e51d 24.3%,#dae319 26%,#bddf26 27.6%,#7cd250 31.5%,#54c568 34.3%,#2fb47c 37.6%,#22a884 39.8%,#1f988b 43.1%,#30698e 51.4%,#3e4989 56.9%,#472a7a 64.1%,#481c6e 68.5%,#440154 84.5%,#440154 100%)"></i><i style="left:1194px;background:linear-gradient(#fde725 0%,#fde725 22.7%,#f8e621 23.8%,#ece51b 24.9%,#dae319 26%,#c8e020 27.1%,#86d549 30.9%,#4ec36b 34.8%,#2cb17e 38.1%,#20a386 40.9%,#21918c 44.8%,#38598c 54.1%,#414287 58.6%,#482475 65.7%,#48186a 70.7%,#440154 85.1%,#440154 100%)"></i><i style="left:1200px;background:linear-gradient(#fde725 0%,#fde725 22.7%,#f4e61e 24.3%,#e5e419 25.4%,#d2e21b 26.5%,#7fd34e 31.5%,#50c46a 34.8%,#2db27d 38.1%,#20a486 40.9%,#21918c 44.8%,#38598c 54.1%,#423f85 59.7%,#481f70 67.4%,#440154 84.5%,#440154 100%)"></i><i style="left:1206px;background:linear-gradient(#fde725 0%,#fde725 22.7%,#f4e61e 24.3%,#dde318 26%,#c0df25 27.6%,#77d153 32%,#4ac16d 35.4%,#2ab07f 38.7%,#21a585 40.9%,#1f948c 44.2%,#34618d 53%,#3f4889 57.5%,#482979 64.6%,#481c6e 68.5%,#440154 84.5%,#440154 100%)"></i><i style="left:1212px;background:linear-gradient(#fde725 0%,#fde725 22.7%,#f4e61e 24.3%,#dde318 26%,#c2df23 27.6%,#81d34d 31.5%,#4cc26c 35.4%,#2fb47c 38.1%,#22a884 40.3%,#1f978b 43.6%,#32658e 52.5%,#3f4889 57.5%,#482979 64.6%,#481c6e 68.5%,#440154 84.5%,#440154 100%)"></i><i style="left:1218px;background:linear-gradient(#fde725 0%,#fde725 22.7%,#f4e61e 24.3%,#dde318 26%,#c2df23 27.6%,#84d44b 31.5%,#54c568 34.8%,#31b57b 38.1%,#23a983 40.3%,#1f988b 43.6%,#30698e 51.9%,#404688 58%,#482677 65.2%,#481b6d 69.1%,#440154 85.1%,#440154 100%)"></i><i style="left:1224px;background:linear-gradient(#fde725 0%,#fde725 22.7%,#f4e61e 24.3%,#dde318 26%,#c2df23 27.6%,#7cd250 32%,#56c667 34.8%,#37b878 37.6%,#26ad81 39.8%,#1f9e89 42.5%,#287d8e 48.6%,#3e4989 57.5%,#472a7a 64.1%,#481c6e 68%,#440154 85.1%,#440154 100%)"></i><i style="left:1230px;background:linear-gradient(#fde725 0%,#fde725 22.7%,#f4e61e 24.3%,#e7e419 25.4%,#cde11d 27.1%,#8ed645 30.9%,#65cb5e 33.7%,#37b878 37.6%,#24aa83 40.3%,#1f998a 43.6%,#306a8e 51.9%,#414487 58.6%,#482677 64.6%,#481b6d 68.5%,#440154 85.1%,#440154 100%)"></i><i style="left:1236px;background:linear-gradient(#fde725 0%,#fde725 22.7%,#f4e61e 24.3%,#dfe318 26%,#cde11d 27.1%,#86d549 31.5%,#5ec962 34.3%,#38b977 37.6%,#24aa83 40.3%,#1f9a8a 43.6%,#2e6e8e 51.4%,#414487 58.6%,#482677 64.6%,#481b6d 68.5%,#440154 84.5%,#440154 100%)"></i><i style="left:1242px;background:linear-gradient(#fde725 0%,#fde725 22.7%,#f4e61e 24.3%,#dfe318 26%,#c5e021 27.6%,#86d549 31.5%,#50c46a 35.4%,#2eb37c 38.7%,#21a585 41.4%,#1f948c 44.8%,#34618d 53.6%,#443b84 60.2%,#481f70 66.3%,#440154 84.5%,#440154 100%)"></i><i style="left:1248px;background:linear-gradient(#fde725 0%,#fde725 22.7%,#f4e61e 24.3%,#dfe318 26%,#c5e021 27.6%,#86d549 31.5%,#58c765 34.8%,#38b977 37.6%,#27ad81 39.8%,#1fa088 42.5%,#24868e 47.5%,#3c508b 56.4%,#46307e 62.4%,#481f70 66.3%,#440154 84.5%,#440154 100%)"></i><i style="left:1254px;background:linear-gradient(#fde725 0%,#fde725 22.7%,#f4e61e 24.3%,#dfe318 26%,#c5e021 27.6%,#a0da39 29.8%,#75d054 32.6%,#50c46a 35.4%,#32b67a 38.1%,#22a884 40.9%,#1f988b 44.2%,#30698e 52.5%,#433e85 59.7%,#481d6f 66.3%,#440154 85.1%,#440154 100%)"></i><i style="left:1260px;background:linear-gradient(#fde725 0%,#fde725 22.7%,#f4e61e 24.3%,#e7e419 25.4%,#cde11d 27.1%,#95d840 30.4%,#54c568 34.8%,#31b57b 38.1%,#24aa83 40.3%,#1f9a8a 43.6%,#2a768e 50.3%,#3f4788 58%,#482878 63.5%,#481c6e 66.9%,#440154 85.1%,#440154 100%)"></i><i style="left:1266px;background:linear-gradient(#fde725 0%,#fde725 22.7%,#f4e61e 24.3%,#efe51c 24.9%,#dde318 26%,#c2df23 27.6%,#77d153 32%,#4ac16d 35.4%,#2eb37c 38.1%,#21a585 40.9%,#20928c 45.3%,#355e8d 54.1%,#453882 60.8%,#482173 65.2%,#440154 84.5%,#440154 100%)"></i><i style="left:1272px;background:linear-gradient(#fde725 0%,#fde725 22.7%,#f4e61e 24.3%,#dde318 26%,#c0df25 27.6%,#7cd250 31.5%,#46c06f 35.4%,#2ab07f 38.1%,#20a486 40.9%,#20928c 45.3%,#365d8d 54.1%,#424186 59.1%,#482374 65.7%,#440154 84.5%,#440154 100%)"></i><i style="left:1278px;background:linear-gradient(#fde725 0%,#fde725 22.7%,#f4e61e 24.3%,#e5e419 25.4%,#d2e21b 26.5%,#a8db34 28.7%,#5ec962 33.1%,#3bbb75 35.9%,#2cb17e 37.6%,#20a486 40.3%,#20928c 44.8%,#355f8d 53.6%,#3e4989 57.5%,#482878 66.3%,#471063 76.8%,#440154 85.1%,#440154 100%)"></i><i style="left:1284px;background:linear-gradient(#fde725 0%,#fde725 22.7%,#f4e61e 24.3%,#e2e418 25.4%,#d0e11c 26.5%,#7cd250 30.9%,#42be71 34.8%,#2cb17e 37%,#20a486 39.8%,#21918c 44.8%,#38598c 54.1%,#404688 58.6%,#482677 68.5%,#440154 84.5%,#440154 100%)"></i><i style="left:1290px;background:linear-gradient(#fde725 0%,#fde725 22.7%,#f8e621 23.8%,#e2e418 25.4%,#cde11d 26.5%,#6ece58 31.5%,#3dbc74 34.8%,#28ae80 37%,#1fa287 39.8%,#218f8d 44.8%,#39568c 54.1%,#3e4a89 56.9%,#472d7b 68%,#450559 82.9%,#440154 85.6%,#440154 100%)"></i><i style="left:1296px;background:linear-gradient(#fde725 0%,#fde725 22.7%,#f8e621 23.8%,#dfe318 25.4%,#cae11f 26.5%,#73d056 30.9%,#46c06f 33.7%,#2db27d 35.9%,#22a785 38.1%,#1f968b 42.5%,#2c728e 49.2%,#3b518b 54.7%,#424186 60.2%,#482374 71.8%,#440154 85.1%,#440154 100%)"></i><i style="left:1302px;background:linear-gradient(#fde725 0%,#fde725 22.7%,#f1e51d 24.3%,#dfe318 25.4%,#c8e020 26.5%,#84d44b 29.8%,#52c569 32.6%,#3aba76 34.3%,#26ad81 36.5%,#1fa188 39.2%,#23898e 44.8%,#3b518b 54.1%,#472e7c 66.9%,#46075a 82.3%,#440154 85.1%,#440154 100%)"></i><i style="left:1308px;background:linear-gradient(#fde725 0%,#fde725 22.7%,#f1e51d 24.3%,#dfe318 25.4%,#c8e020 26.5%,#7fd34e 29.8%,#44bf70 33.1%,#2fb47c 34.8%,#22a884 37%,#1f988b 40.9%,#29798e 47%,#3d4d8a 54.7%,#472e7c 65.7%,#471063 77.9%,#440154 84.5%,#440154 100%)"></i><i style="left:1314px;background:linear-gradient(#fde725 0%,#fde725 22.7%,#f1e51d 24.3%,#dde318 25.4%,#c5e021 26.5%,#70cf57 30.4%,#4ac16d 32.6%,#2db27d 34.8%,#21a685 37%,#20938c 41.4%,#30698e 49.2%,#3d4d8a 54.1%,#472d7b 65.2%,#481a6c 72.4%,#440154 85.1%,#440154 100%)"></i><i style="left:1320px;background:linear-gradient(#fde725 0%,#fde725 22.7%,#f1e51d 24.3%,#dde318 25.4%,#c5e021 26.5%,#9dd93b 28.2%,#6ece58 30.4%,#46c06f 32.6%,#2ab07f 34.8%,#21a585 37%,#1f948c 40.9%,#33628d 49.7%,#3d4d8a 53.6%,#472e7c 63.5%,#481c6e 69.6%,#440154 85.1%,#440154 100%)"></i><i style="left:1326px;background:linear-gradient(#fde725 0%,#fde725 22.7%,#f6e620 23.8%,#e7e419 24.9%,#d0e11c 26%,#77d153 29.8%,#44bf70 32.6%,#2fb47c 34.3%,#21a685 36.5%,#1f948c 40.3%,#355f8d 49.7%,#3e4a89 53.6%,#472e7c 62.4%,#481c6e 68.5%,#440154 84.5%,#440154 100%)"></i><i style="left:1332px;background:linear-gradient(#fde725 0%,#fde725 22.7%,#ece51b 24.3%,#e5e419 24.9%,#cde11d 26%,#81d34d 29.3%,#56c667 31.5%,#35b779 33.7%,#25ac82 35.4%,#1f9e89 38.1%,#277e8e 44.2%,#3d4e8a 52.5%,#472f7d 61.3%,#481d6f 66.9%,#440154 84.5%,#440154 100%)"></i><i style="left:1338px;background:linear-gradient(#fde725 0%,#fde725 22.1%,#f8e621 23.2%,#dfe318 24.9%,#c8e020 26%,#73d056 29.8%,#4cc26c 32%,#2eb37c 34.3%,#21a585 36.5%,#1f948c 39.8%,#33628d 48.6%,#3e4c8a 52.5%,#472f7d 60.8%,#481c6e 66.9%,#440154 85.1%,#440154 100%)"></i><i style="left:1344px;background:linear-gradient(#fde725 0%,#fde725 21.5%,#f4e61e 23.2%,#e5e419 24.3%,#dae319 24.9%,#c2df23 26%,#86d549 28.7%,#52c569 31.5%,#32b67a 33.7%,#22a884 35.9%,#1f998a 38.7%,#306a8e 47%,#3d4e8a 51.9%,#472e7c 60.8%,#481d6f 65.7%,#440154 84.5%,#440154 100%)"></i><i style="left:1350px;background:linear-gradient(#fde725 0%,#fde725 21.5%,#f1e51d 23.2%,#dde318 24.3%,#c8e020 25.4%,#6ccd5a 29.8%,#3fbc73 32.6%,#2cb17e 34.3%,#20a486 36.5%,#20928c 39.8%,#365c8d 49.2%,#404688 53.6%,#472a7a 61.3%,#481f70 65.2%,#440154 84.5%,#440154 100%)"></i><i style="left:1356px;background:linear-gradient(#fde725 0%,#fde725 21%,#f8e621 22.1%,#e2e418 23.8%,#cde11d 24.9%,#9dd93b 27.1%,#67cc5c 29.8%,#3bbb75 32.6%,#26ad81 34.8%,#1fa188 37%,#23898e 41.4%,#3b518b 50.8%,#46327e 59.1%,#481f70 64.6%,#440154 85.1%,#440154 100%)"></i><i style="left:1362px;background:linear-gradient(#fde725 0%,#fde725 20.4%,#f4e61e 22.1%,#e5e419 23.2%,#d0e11c 24.3%,#95d840 27.1%,#60ca60 29.8%,#3fbc73 32%,#2cb17e 33.7%,#21a585 35.9%,#20928c 39.8%,#355f8d 48.6%,#3e4989 52.5%,#472d7b 60.2%,#481d6f 64.6%,#440154 84.5%,#440154 100%)"></i><i style="left:1368px;background:linear-gradient(#fde725 0%,#fde725 20.4%,#f6e620 21.5%,#dde318 23.2%,#c5e021 24.3%,#77d153 28.2%,#48c16e 30.9%,#29af7f 33.7%,#20a486 35.9%,#21908d 40.3%,#375b8d 49.2%,#3e4989 52.5%,#472c7a 60.2%,#481d6f 64.6%,#440154 84.5%,#440154 100%)"></i><i style="left:1374px;background:linear-gradient(#fde725 0%,#fde725 19.9%,#f1e51d 21.5%,#dfe318 22.7%,#c8e020 23.8%,#6ece58 28.2%,#4ac16d 30.4%,#34b679 32%,#24aa83 34.3%,#1e9c89 37.6%,#287c8e 43.6%,#3e4a89 51.9%,#472d7b 59.7%,#481d6f 64.1%,#440154 85.1%,#440154 100%)"></i><i style="left:1380px;background:linear-gradient(#fde725 0%,#fde725 19.3%,#f1e51d 21%,#dfe318 22.1%,#cae11f 23.2%,#90d743 26%,#5cc863 28.7%,#3bbb75 30.9%,#27ad81 33.1%,#1fa188 35.9%,#228b8d 40.9%,#3a548c 49.7%,#46327e 58%,#482173 62.4%,#440154 84.5%,#440154 100%)"></i><i style="left:1386px;background:linear-gradient(#fde725 0%,#fde725 18.8%,#f1e51d 20.4%,#dfe318 21.5%,#cae11f 22.7%,#86d549 26%,#54c568 28.7%,#35b779 30.9%,#25ab82 33.1%,#1e9d89 36.5%,#25858e 41.4%,#3c508b 50.3%,#472e7c 58.6%,#482173 61.9%,#470e61 74.6%,#440154 85.1%,#440154 100%)"></i><i style="left:1392px;background:linear-gradient(#fde725 0%,#fde725 17.7%,#f6e620 19.3%,#dfe318 21%,#c8e020 22.1%,#7cd250 26%,#56c667 28.2%,#3dbc74 29.8%,#28ae80 32%,#1fa187 34.8%,#228d8d 39.8%,#3a548c 49.2%,#472e7c 58%,#481f70 61.9%,#440154 85.1%,#440154 100%)"></i><i style="left:1398px;background:linear-gradient(#fde725 0%,#fde725 17.1%,#f4e61e 18.8%,#efe51c 19.3%,#dde318 20.4%,#bddf26 22.1%,#7cd250 25.4%,#3fbc73 29.3%,#29af7f 31.5%,#1fa287 34.3%,#228d8d 39.2%,#3a548c 48.6%,#472e7c 57.5%,#481f70 61.3%,#440154 85.1%,#440154 100%)"></i><i style="left:1404px;background:linear-gradient(#fde725 0%,#fde725 16.6%,#f4e61e 18.2%,#e5e419 19.3%,#d0e11c 20.4%,#b2dd2d 22.1%,#63cb5f 26.5%,#3bbb75 29.3%,#27ad81 31.5%,#1fa187 34.3%,#238a8d 39.2%,#3b528b 48.6%,#46307e 56.4%,#481f70 60.8%,#440154 85.1%,#440154 100%)"></i><i style="left:1410px;background:linear-gradient(#fde725 0%,#fde725 16%,#ece51b 18.2%,#dae319 19.3%,#b2dd2d 21.5%,#93d741 23.2%,#65cb5e 26%,#3fbc73 28.7%,#2ab07f 30.9%,#21a585 33.1%,#20938c 37%,#34618d 45.9%,#3f4889 50.3%,#472d7b 56.9%,#481d6f 61.3%,#440154 85.1%,#440154 100%)"></i><i style="left:1416px;background:linear-gradient(#fde725 0%,#fde725 15.5%,#ece51b 17.7%,#dae319 18.8%,#bddf26 20.4%,#69cd5b 25.4%,#3dbc74 28.7%,#26ad81 31.5%,#1f9f88 34.3%,#277f8e 40.3%,#3e4989 49.7%,#472e7c 56.4%,#481f70 60.8%,#440154 84.5%,#440154 100%)"></i><i style="left:1422px;background:linear-gradient(#fde725 0%,#fde725 14.9%,#f4e61e 16.6%,#dde318 18.2%,#c0df25 19.9%,#6ece58 24.9%,#42be71 28.2%,#29af7f 30.9%,#20a386 33.1%,#21908d 37%,#38598c 46.4%,#414487 50.8%,#482878 58%,#481d6f 61.3%,#440154 85.1%,#440154 100%)"></i><i style="left:1428px;background:linear-gradient(#fde725 0%,#fde725 14.4%,#f4e61e 16%,#dfe318 17.7%,#c5e021 19.3%,#8ed645 22.7%,#5cc863 26%,#37b878 29.3%,#23a983 32%,#1f9a8a 34.8%,#2e6d8e 43.1%,#3e4a89 49.2%,#472c7a 57.5%,#482071 60.8%,#440154 85.1%,#440154 100%)"></i><i style="left:1434px;background:linear-gradient(#fde725 0%,#fde725 14.4%,#f1e51d 16%,#dae319 17.7%,#c0df25 19.3%,#93d741 22.1%,#54c568 26.5%,#35b779 29.3%,#23a983 32%,#1e9b8a 34.8%,#2d718e 42.5%,#3e4c8a 49.2%,#472e7c 57.5%,#481f70 61.9%,#440154 85.1%,#440154 100%)"></i><i style="left:1440px;background:linear-gradient(#fde725 0%,#fde725 13.8%,#f4e61e 15.5%,#dde318 17.1%,#cde11d 18.2%,#7fd34e 23.2%,#4cc26c 27.1%,#31b57b 29.8%,#23a983 32%,#1f998a 35.4%,#2e6d8e 43.6%,#3d4e8a 49.2%,#472f7d 58%,#481f70 63%,#440154 84.5%,#440154 100%)"></i><i style="left:1446px;background:linear-gradient(#fde725 0%,#fde725 13.8%,#f1e51d 15.5%,#dae319 17.1%,#cae11f 18.2%,#b0dd2f 19.9%,#6ece58 24.3%,#4cc26c 27.1%,#31b57b 29.8%,#22a785 32.6%,#1f968b 36.5%,#32648e 45.9%,#3e4a89 50.8%,#472d7b 59.7%,#481d6f 64.6%,#440154 84.5%,#440154 100%)"></i><i style="left:1452px;background:linear-gradient(#fde725 0%,#fde725 13.8%,#ece51b 16%,#d5e21a 17.7%,#98d83e 21.5%,#70cf57 24.3%,#54c568 26.5%,#3bbb75 28.7%,#29af7f 30.9%,#20a486 33.7%,#21918c 38.7%,#31688e 46.4%,#3e4a89 51.9%,#472c7a 60.8%,#481d6f 65.2%,#440154 85.1%,#440154 100%)"></i><i style="left:1458px;background:linear-gradient(#fde725 0%,#fde725 13.8%,#f6e620 15.5%,#e2e418 17.1%,#d0e11c 18.2%,#b8de29 19.9%,#9dd93b 21.5%,#6ccd5a 24.9%,#4ac16d 27.6%,#34b679 29.8%,#24aa83 32.6%,#1f9a8a 37.6%,#26828e 43.1%,#3d4e8a 52.5%,#472e7c 60.8%,#481c6e 66.3%,#440154 85.1%,#440154 100%)"></i><i style="left:1464px;background:linear-gradient(#fde725 0%,#fde725 14.4%,#f4e61e 16%,#dfe318 17.7%,#c8e020 19.3%,#addc30 21%,#7ad151 24.3%,#56c667 27.1%,#3dbc74 29.3%,#2cb17e 31.5%,#22a785 34.3%,#1f958b 40.3%,#26828e 44.8%,#3e4c8a 54.1%,#472e7c 61.3%,#481f70 65.7%,#440154 84.5%,#440154 100%)"></i><i style="left:1470px;background:linear-gradient(#fde725 0%,#fde725 14.9%,#f4e61e 16.6%,#dfe318 18.2%,#c8e020 19.9%,#addc30 21.5%,#7cd250 24.9%,#5ec962 27.1%,#3fbc73 29.8%,#29af7f 32.6%,#20a386 36.5%,#21908d 43.6%,#2d718e 49.2%,#3e4c8a 55.2%,#482878 63.5%,#481b6d 68%,#440154 85.1%,#440154 100%)"></i><i style="left:1476px;background:linear-gradient(#fde725 0%,#fde725 15.5%,#f4e61e 17.1%,#e2e418 18.8%,#cae11f 20.4%,#98d83e 23.8%,#63cb5f 27.6%,#3aba76 31.5%,#27ad81 34.3%,#1fa088 39.2%,#218e8d 45.3%,#33628d 52.5%,#3f4889 56.9%,#482979 64.1%,#481d6f 68%,#440154 84.5%,#440154 100%)"></i><i style="left:1482px;background:linear-gradient(#fde725 0%,#fde725 16%,#f1e51d 18.2%,#dfe318 19.9%,#c8e020 21.5%,#6ccd5a 28.2%,#3bbb75 32.6%,#28ae80 35.4%,#1fa187 39.8%,#218f8d 45.9%,#306a8e 51.9%,#3f4889 57.5%,#472e7c 64.1%,#481c6e 70.2%,#440154 84.5%,#440154 100%)"></i><i style="left:1488px;background:linear-gradient(#fde725 0%,#fde725 17.1%,#f1e51d 19.3%,#dde318 21%,#bddf26 23.2%,#a5db36 24.9%,#58c765 30.9%,#3dbc74 33.7%,#29af7f 36.5%,#1fa188 40.9%,#228b8d 47%,#3b528b 55.8%,#472f7d 65.7%,#481b6d 72.9%,#440154 84.5%,#440154 100%)"></i><i style="left:1494px;background:linear-gradient(#fde725 0%,#fde725 18.2%,#f4e61e 19.9%,#e2e418 21.5%,#c5e021 23.8%,#70cf57 29.8%,#3bbb75 34.8%,#26ad81 38.1%,#1f9f88 42%,#24868e 47.5%,#3c508b 56.4%,#472e7c 68%,#46085c 81.8%,#440154 85.6%,#440154 100%)"></i><i style="left:1500px;background:linear-gradient(#fde725 0%,#fde725 18.8%,#f1e51d 21%,#dfe318 22.7%,#c8e020 24.3%,#6ccd5a 30.9%,#38b977 35.9%,#26ad81 38.7%,#1f9f88 42%,#24878e 47%,#3c4f8a 56.4%,#472e7c 69.1%,#471164 79.6%,#440256 84%,#440154 100%)"></i><i style="left:1506px;background:linear-gradient(#fde725 0%,#fde725 19.9%,#f4e61e 21.5%,#dfe318 23.2%,#c8e020 24.9%,#6ccd5a 31.5%,#3bbb75 35.9%,#25ab82 39.2%,#1e9b8a 42.5%,#2b748e 49.7%,#3d4e8a 56.4%,#472e7c 68.5%,#460a5d 81.8%,#440154 85.1%,#440154 100%)"></i><i style="left:1512px;background:linear-gradient(#fde725 0%,#fde725 20.4%,#ece51b 22.7%,#d5e21a 24.3%,#a5db36 27.6%,#6ece58 31.5%,#3dbc74 35.9%,#27ad81 38.7%,#1fa088 41.4%,#25858e 46.4%,#3c4f8a 55.8%,#472d7b 67.4%,#450457 83.4%,#440154 86.2%,#440154 100%)"></i><i style="left:1518px;background:linear-gradient(#fde725 0%,#fde725 21%,#f1e51d 22.7%,#dae319 24.3%,#bade28 26.5%,#90d743 29.3%,#69cd5b 32%,#3dbc74 35.9%,#25ab82 39.2%,#1e9d89 42%,#2b748e 49.2%,#3e4c8a 56.4%,#472d7b 65.7%,#481d6f 71.3%,#440154 84.5%,#440154 100%)"></i><i style="left:1524px;background:linear-gradient(#fde725 0%,#fde725 21%,#f4e61e 22.7%,#dfe318 24.3%,#c8e020 26%,#addc30 27.6%,#84d44b 30.4%,#65cb5e 32.6%,#4ac16d 34.8%,#2fb47c 37.6%,#22a884 39.8%,#1f968b 43.1%,#32648e 51.9%,#3d4e8a 55.8%,#472e7c 64.6%,#481c6e 70.2%,#440154 84.5%,#440154 100%)"></i><i style="left:1530px;background:linear-gradient(#fde725 0%,#fde725 21.5%,#f8e621 22.7%,#e5e419 24.3%,#d5e21a 25.4%,#a0da39 28.7%,#86d549 30.4%,#58c765 33.7%,#3fbc73 35.9%,#27ad81 38.7%,#1fa088 41.4%,#25838e 46.4%,#3d4d8a 55.8%,#472e7c 64.1%,#481c6e 69.6%,#440154 85.1%,#440154 100%)"></i><i style="left:1536px;background:linear-gradient(#fde725 0%,#fde725 21.5%,#f6e620 23.2%,#dfe318 24.9%,#d0e11c 26%,#90d743 29.8%,#60ca60 33.1%,#34b679 37%,#22a884 39.8%,#1f968b 43.1%,#31668e 51.4%,#3e4a89 56.4%,#472c7a 64.1%,#481b6d 69.6%,#440154 84.5%,#440154 100%)"></i><i style="left:1542px;background:linear-gradient(#fde725 0%,#fde725 22.1%,#f1e51d 23.8%,#dae319 25.4%,#c0df25 27.1%,#9bd93c 29.3%,#70cf57 32%,#4cc26c 34.8%,#2fb47c 37.6%,#22a884 39.8%,#1f968b 43.1%,#31668e 51.4%,#3e4989 56.4%,#472e7c 63%,#481f70 67.4%,#440154 84.5%,#440154 100%)"></i><i style="left:1548px;background:linear-gradient(#fde725 0%,#fde725 22.1%,#f1e51d 23.8%,#dae319 25.4%,#c0df25 27.1%,#81d34d 30.9%,#5ac864 33.7%,#3aba76 36.5%,#25ab82 39.2%,#1e9c89 42%,#2c738e 49.2%,#3e4989 56.4%,#472a7a 63.5%,#481d6f 66.9%,#440154 84.5%,#440154 100%)"></i><i style="left:1554px;background:linear-gradient(#fde725 0%,#fde725 22.1%,#f8e621 23.2%,#e5e419 24.9%,#cae11f 26.5%,#93d741 29.8%,#69cd5b 32.6%,#3fbc73 35.9%,#28ae80 38.7%,#1fa287 40.9%,#228d8d 44.8%,#3a548c 54.1%,#472e7c 62.4%,#481f70 66.3%,#440154 84.5%,#440154 100%)"></i><i style="left:1560px;background:linear-gradient(#fde725 0%,#fde725 22.1%,#f4e61e 23.8%,#dde318 25.4%,#c0df25 27.1%,#7ad151 31.5%,#4cc26c 34.8%,#2cb17e 38.1%,#21a585 40.3%,#20938c 43.6%,#355f8d 52.5%,#414487 57.5%,#482677 64.1%,#481b6d 68%,#440154 85.1%,#440154 100%)"></i><i style="left:1566px;background:linear-gradient(#fde725 0%,#fde725 22.1%,#f4e61e 23.8%,#dde318 25.4%,#c2df23 27.1%,#8bd646 30.4%,#5ac864 33.7%,#35b779 37%,#22a884 39.8%,#1f998a 42.5%,#2e6d8e 50.3%,#404688 56.9%,#482677 64.1%,#481c6e 67.4%,#440154 84.5%,#440154 100%)"></i><i style="left:1572px;background:linear-gradient(#fde725 0%,#fde725 22.1%,#f4e61e 23.8%,#dde318 25.4%,#c2df23 27.1%,#7ad151 31.5%,#54c568 34.3%,#2fb47c 37.6%,#22a884 39.8%,#1f998a 42.5%,#2e6d8e 50.3%,#3e4989 56.4%,#482979 63.5%,#481c6e 67.4%,#440154 84.5%,#440154 100%)"></i><i style="left:1578px;background:linear-gradient(#fde725 0%,#fde725 22.1%,#f4e61e 23.8%,#e7e419 24.9%,#d5e21a 26%,#a8db34 28.7%,#7ad151 31.5%,#46c06f 35.4%,#2cb17e 38.1%,#21a585 40.3%,#20938c 43.6%,#355f8d 52.5%,#3e4989 56.4%,#482979 63.5%,#481c6e 67.4%,#440154 84.5%,#440154 100%)"></i><i style="left:1584px;background:linear-gradient(#fde725 0%,#fde725 22.1%,#f4e61e 23.8%,#e7e419 24.9%,#cde11d 26.5%,#7ad151 31.5%,#46c06f 35.4%,#2cb17e 38.1%,#21a585 40.3%,#20938c 43.6%,#355f8d 52.5%,#3e4989 56.4%,#472f7d 62.4%,#481d6f 66.9%,#440154 84.5%,#440154 100%)"></i></div></div><div class="hm" style="left:273.5px;top:820.3px;width:1567.5px;height:524.4px"><div class="hi" style="left:-12px;top:-12px;width:1590px;height:549px"><i style="left:0px;background:linear-gradient(#228b8d 0%,#228c8d 12.6%,#21908d 20.2%,#20928c 25.1%,#1f978b 30.1%,#1f948c 38.8%,#1f948c 61.2%,#21a685 68.9%,#2cb17e 72.7%,#3bbb75 75.4%,#54c568 78.1%,#77d153 81.4%,#9bd93c 84.2%,#aadc32 85.2%,#addc30 85.8%,#aadc32 86.3%,#8ed645 87.4%,#50c46a 89.1%,#2eb37c 90.2%,#23a983 90.7%,#1f9f88 91.3%,#287c8e 93.4%,#2c718e 94.5%,#2d708e 95.1%,#2c738e 95.6%,#26828e 96.2%,#238a8d 96.7%,#29798e 97.3%,#33638d 97.8%,#33638d 100%)"></i><i style="left:6px;background:linear-gradient(#228b8d 0%,#228c8d 12.6%,#21908d 20.2%,#20928c 25.1%,#1f978b 30.1%,#1f948c 38.8%,#1f948c 61.2%,#21a685 68.9%,#2cb17e 72.7%,#3bbb75 75.4%,#54c568 78.1%,#77d153 81.4%,#9bd93c 84.2%,#aadc32 85.2%,#addc30 85.8%,#aadc32 86.3%,#8ed645 87.4%,#50c46a 89.1%,#2eb37c 90.2%,#23a983 90.7%,#1f9f88 91.3%,#287c8e 93.4%,#2c718e 94.5%,#2d708e 95.1%,#2c738e 95.6%,#26828e 96.2%,#238a8d 96.7%,#29798e 97.3%,#33638d 97.8%,#33638d 100%)"></i><i style="left:12px;background:linear-gradient(#238a8d 0%,#228d8d 13.7%,#21908d 19.7%,#20928c 25.1%,#1f988b 30.1%,#20928c 36.6%,#1f948c 43.7%,#20928c 49.7%,#20938c 61.2%,#21a585 68.9%,#2ab07f 72.7%,#3aba76 75.4%,#58c765 78.7%,#8bd646 83.1%,#addc30 85.2%,#b0dd2f 85.8%,#addc30 86.3%,#90d743 87.4%,#52c569 89.1%,#3dbc74 89.6%,#23a983 90.7%,#1f9f88 91.3%,#26828e 92.9%,#2c718e 94.5%,#2d708e 95.1%,#2b748e 95.6%,#26828e 96.2%,#228b8d 96.7%,#297a8e 97.3%,#32658e 97.8%,#32658e 100%)"></i><i style="left:18px;background:linear-gradient(#238a8d 0%,#228b8d 10.9%,#20928c 19.1%,#20928c 24.6%,#1f998a 30.1%,#20928c 36.6%,#20938c 43.2%,#20928c 50.3%,#21908d 60.1%,#1f9a8a 65%,#24aa83 71%,#2fb47c 74.3%,#4ac16d 77.6%,#86d549 82.5%,#a8db34 84.7%,#addc30 85.2%,#aadc32 86.3%,#a0da39 86.9%,#90d743 87.4%,#52c569 89.1%,#3dbc74 89.6%,#2db27d 90.2%,#22a884 90.7%,#1f9e89 91.3%,#287d8e 93.4%,#2a768e 94.5%,#29798e 95.6%,#287d8e 96.2%,#287c8e 96.7%,#32658e 97.8%,#32658e 100%)"></i><i style="left:24px;background:linear-gradient(#23898e 0%,#228c8d 12%,#20928c 18.6%,#21918c 24%,#1f9a8a 29.5%,#21908d 36.6%,#20938c 41.5%,#21908d 48.1%,#228d8d 54.6%,#218e8d 60.7%,#1fa287 68.9%,#28ae80 73.2%,#38b977 76%,#52c569 78.7%,#6ccd5a 80.9%,#a5db36 84.7%,#a8db34 85.8%,#a5db36 86.3%,#9bd93c 86.9%,#7ad151 88%,#3dbc74 89.6%,#2db27d 90.2%,#22a884 90.7%,#1f9e89 91.3%,#25848e 92.9%,#29798e 94.5%,#29798e 96.2%,#2b758e 96.7%,#33638d 97.8%,#33638d 100%)"></i><i style="left:30px;background:linear-gradient(#23898e 0%,#228b8d 10.9%,#1f958b 18%,#21908d 23%,#1f9a8a 29.5%,#218f8d 36.1%,#21918c 42.6%,#228d8d 49.2%,#23888e 57.9%,#20928c 62.8%,#20a386 69.9%,#28ae80 73.8%,#35b779 76%,#4ec36b 78.7%,#70cf57 81.4%,#a2da37 84.7%,#a5db36 85.8%,#a2da37 86.3%,#98d83e 86.9%,#77d153 88%,#3bbb75 89.6%,#2cb17e 90.2%,#21a685 90.7%,#1e9d89 91.3%,#26828e 92.9%,#2a778e 94.5%,#297a8e 96.2%,#2a778e 96.7%,#33638d 97.8%,#33638d 100%)"></i><i style="left:36px;background:linear-gradient(#23888e 0%,#228c8d 11.5%,#1f978b 18%,#21908d 23%,#1f998a 29.5%,#228d8d 35%,#228d8d 42.6%,#25838e 56.8%,#218f8d 62.3%,#20a386 70.5%,#26ad81 73.8%,#37b878 76.5%,#5ec962 80.3%,#8bd646 83.6%,#9dd93b 84.7%,#a5db36 85.8%,#a2da37 86.3%,#98d83e 86.9%,#89d548 87.4%,#4cc26c 89.1%,#38b977 89.6%,#29af7f 90.2%,#21a585 90.7%,#20928c 91.8%,#297a8e 93.4%,#2c728e 94.5%,#2c728e 95.1%,#27808e 96.2%,#26828e 96.7%,#2b758e 97.3%,#32658e 97.8%,#32658e 100%)"></i><i style="left:42px;background:linear-gradient(#23888e 0%,#228b8d 10.9%,#1f978b 18%,#218e8d 23%,#1f968b 29.5%,#238a8d 34.4%,#23888e 42.6%,#277e8e 55.7%,#24878e 60.7%,#1f9f88 68.9%,#25ab82 73.8%,#34b679 76.5%,#5ac864 80.3%,#86d549 83.6%,#9bd93c 84.7%,#a2da37 85.8%,#a0da39 86.3%,#95d840 86.9%,#86d549 87.4%,#4ac16d 89.1%,#37b878 89.6%,#28ae80 90.2%,#20a486 90.7%,#21918c 91.8%,#2a788e 93.4%,#2d708e 94.5%,#2e6f8e 95.1%,#2c738e 95.6%,#26828e 96.2%,#238a8d 96.7%,#29798e 97.3%,#32648e 97.8%,#32648e 100%)"></i><i style="left:48px;background:linear-gradient(#23888e 0%,#228b8d 10.9%,#1f968b 18%,#228c8d 23%,#21908d 27.3%,#20928c 29.5%,#25858e 35%,#26828e 43.7%,#2a778e 54.6%,#27808e 59.6%,#1e9c89 68.3%,#23a983 73.8%,#2fb47c 76.5%,#50c46a 79.8%,#86d549 83.6%,#90d743 84.2%,#9dd93b 85.8%,#98d83e 86.3%,#81d34d 87.4%,#48c16e 89.1%,#35b779 89.6%,#27ad81 90.2%,#20a386 90.7%,#21908d 91.8%,#297a8e 93.4%,#2c738e 94.5%,#297b8e 96.2%,#297a8e 96.7%,#2d718e 97.3%,#33638d 97.8%,#33638d 100%)"></i><i style="left:54px;background:linear-gradient(#24878e 0%,#228b8d 11.5%,#1f948c 18%,#23898e 23.5%,#218f8d 29.5%,#27808e 35.5%,#29798e 45.4%,#2d718e 53.6%,#2a768e 57.9%,#1e9b8a 68.9%,#22a884 74.3%,#31b57b 77%,#4ec36b 79.8%,#6ccd5a 82%,#8ed645 84.2%,#98d83e 85.2%,#98d83e 85.8%,#93d741 86.3%,#7cd250 87.4%,#58c765 88.5%,#34b679 89.6%,#26ad81 90.2%,#1fa287 90.7%,#21908d 91.8%,#297b8e 93.4%,#2a768e 94.5%,#2a778e 96.2%,#2c738e 96.7%,#34618d 97.8%,#34618d 100%)"></i><i style="left:60px;background:linear-gradient(#24878e 0%,#238a8d 11.5%,#20928c 18%,#24868e 22.4%,#23888e 30.1%,#29798e 36.1%,#2e6e8e 48.6%,#30698e 54.1%,#2b758e 59.6%,#1f958b 67.8%,#20a386 73.8%,#2ab07f 76.5%,#3dbc74 78.7%,#60ca60 81.4%,#93d741 84.7%,#98d83e 85.8%,#93d741 86.3%,#89d548 86.9%,#69cd5b 88%,#32b67a 89.6%,#26ad81 90.2%,#1fa287 90.7%,#218f8d 91.8%,#297a8e 93.4%,#2b758e 94.5%,#29798e 96.2%,#2a768e 96.7%,#33628d 97.8%,#33628d 100%)"></i><i style="left:66px;background:linear-gradient(#24868e 0%,#23898e 12.6%,#218e8d 18%,#26828e 22.4%,#26828e 30.1%,#2c728e 36.1%,#33628d 53.6%,#2f6b8e 57.9%,#25848e 64.5%,#1f958b 69.4%,#1fa088 73.8%,#27ad81 76.5%,#40bd72 79.2%,#5ec962 81.4%,#98d83e 85.2%,#95d840 86.3%,#8bd646 86.9%,#69cd5b 88%,#42be71 89.1%,#25ac82 90.2%,#1fa187 90.7%,#218e8d 91.8%,#2a788e 93.4%,#2d718e 94.5%,#2a768e 95.6%,#277f8e 96.2%,#26818e 96.7%,#2b758e 97.3%,#32658e 97.8%,#32658e 100%)"></i><i style="left:72px;background:linear-gradient(#25858e 0%,#24878e 17.5%,#287d8e 21.9%,#287c8e 29.5%,#2f6b8e 36.6%,#365c8d 52.5%,#34608d 56.3%,#29798e 63.4%,#21908d 68.9%,#1f9a8a 73.2%,#22a884 76%,#32b67a 78.1%,#4cc26c 80.3%,#7cd250 83.6%,#90d743 84.7%,#98d83e 85.8%,#95d840 86.3%,#8bd646 86.9%,#56c667 88.5%,#31b57b 89.6%,#25ab82 90.2%,#1fa188 90.7%,#25858e 92.3%,#2c718e 94%,#2e6f8e 95.1%,#2c738e 95.6%,#26828e 96.2%,#228b8d 96.7%,#297a8e 97.3%,#32648e 97.8%,#32648e 100%)"></i><i style="left:78px;background:linear-gradient(#25848e 0%,#26828e 16.4%,#2a788e 21.3%,#2a768e 29%,#32648e 36.6%,#39558c 51.4%,#38598c 55.7%,#2d718e 62.8%,#238a8d 68.9%,#1f978b 73.2%,#21a685 76%,#35b779 78.7%,#5ac864 81.4%,#8ed645 84.7%,#93d741 85.2%,#93d741 85.8%,#8ed645 86.3%,#77d153 87.4%,#40bd72 89.1%,#25ab82 90.2%,#1fa188 90.7%,#25858e 92.3%,#2b758e 94%,#2b748e 95.1%,#287c8e 96.2%,#297a8e 96.7%,#32648e 97.8%,#32648e 100%)"></i><i style="left:84px;background:linear-gradient(#25838e 0%,#27808e 15.3%,#2c738e 21.3%,#2d718e 28.4%,#365c8d 36.6%,#3c4f8a 50.8%,#3a538b 55.7%,#31688e 62.3%,#23888e 69.9%,#1f978b 73.8%,#21a585 76%,#2eb37c 78.1%,#50c46a 80.9%,#84d44b 84.2%,#8bd646 84.7%,#8ed645 85.8%,#81d34d 86.9%,#52c569 88.5%,#2fb47c 89.6%,#24aa83 90.2%,#1fa188 90.7%,#24868e 92.3%,#297a8e 93.4%,#2a778e 95.1%,#2a788e 96.2%,#2b748e 96.7%,#34618d 97.8%,#34618d 100%)"></i><i style="left:90px;background:linear-gradient(#26828e 0%,#287d8e 13.7%,#2d708e 22.4%,#306a8e 29%,#3b528b 37.7%,#3f4889 49.7%,#3d4e8a 55.7%,#2f6b8e 64.5%,#228c8d 71.6%,#1fa188 75.4%,#29af7f 77.6%,#3fbc73 79.8%,#70cf57 83.1%,#89d548 84.7%,#8ed645 85.8%,#89d548 86.3%,#73d056 87.4%,#3fbc73 89.1%,#2eb37c 89.6%,#24aa83 90.2%,#1fa088 90.7%,#277f8e 92.9%,#2a768e 94%,#29798e 96.2%,#2a768e 96.7%,#33628d 97.8%,#33628d 100%)"></i><i style="left:96px;background:linear-gradient(#26818e 0%,#287c8e 11.5%,#2e6d8e 22.4%,#32658e 28.4%,#3e4a89 37.7%,#414287 47%,#404588 53%,#3b518b 58.5%,#2e6e8e 66.1%,#1f978b 73.8%,#22a884 76.5%,#32b67a 78.7%,#5cc863 82%,#86d549 84.7%,#8ed645 85.8%,#8bd646 86.3%,#81d34d 86.9%,#60ca60 88%,#2eb37c 89.6%,#23a983 90.2%,#1fa088 90.7%,#287d8e 92.9%,#2c728e 94%,#2c718e 95.1%,#277f8e 96.2%,#26828e 96.7%,#2b758e 97.3%,#32658e 97.8%,#32658e 100%)"></i><i style="left:102px;background:linear-gradient(#277f8e 0%,#297a8e 10.4%,#30698e 23%,#34618d 27.9%,#414487 37.2%,#433d84 44.3%,#433e85 50.8%,#3e4c8a 57.9%,#32658e 65%,#1f968b 73.2%,#21a585 76%,#2db27d 78.1%,#44bf70 80.3%,#7cd250 84.2%,#86d549 84.7%,#8ed645 85.8%,#8bd646 86.3%,#81d34d 86.9%,#60ca60 88%,#3dbc74 89.1%,#23a983 90.2%,#1f9f88 90.7%,#287d8e 92.9%,#2e6f8e 94.5%,#2e6f8e 95.1%,#2c738e 95.6%,#26828e 96.2%,#228b8d 96.7%,#297a8e 97.3%,#32648e 97.8%,#32648e 100%)"></i><i style="left:108px;background:linear-gradient(#287d8e 0%,#2a788e 9.3%,#31668e 22.4%,#34608d 26.2%,#433d84 37.2%,#453581 43.7%,#443a83 51.4%,#3d4d8a 59%,#31678e 65.6%,#1f978b 73.2%,#21a585 76%,#2db27d 78.1%,#44bf70 80.3%,#6ccd5a 83.1%,#84d44b 84.7%,#89d548 85.2%,#86d549 86.3%,#7cd250 86.9%,#4ec36b 88.5%,#2db27d 89.6%,#23a983 90.2%,#1f9f88 90.7%,#277e8e 92.9%,#2b748e 94%,#2b748e 95.1%,#287c8e 96.2%,#297a8e 96.7%,#2d718e 97.3%,#33638d 97.8%,#33638d 100%)"></i><i style="left:114px;background:linear-gradient(#297b8e 0%,#2a768e 8.7%,#33628d 22.4%,#38588c 27.3%,#443983 35.5%,#472f7d 41.5%,#46327e 47.5%,#404588 56.8%,#355f8d 63.9%,#23888e 70.5%,#1fa188 74.9%,#25ac82 77%,#38b977 79.2%,#54c568 81.4%,#84d44b 84.7%,#86d549 85.8%,#7ad151 86.9%,#5ec962 88%,#3bbb75 89.1%,#2db27d 89.6%,#23a983 90.2%,#1f9f88 90.7%,#277f8e 92.9%,#2a768e 94.5%,#2a788e 96.2%,#2b748e 96.7%,#34618d 97.8%,#34618d 100%)"></i><i style="left:120px;background:linear-gradient(#29798e 0%,#2c738e 8.2%,#39558c 26.2%,#46327e 35.5%,#472a7a 39.9%,#472a7a 44.8%,#433d84 54.1%,#365c8d 62.8%,#2c738e 67.2%,#1f968b 72.7%,#21a685 76%,#2db27d 78.1%,#44bf70 80.3%,#6ccd5a 83.1%,#84d44b 84.7%,#86d549 85.8%,#84d44b 86.3%,#6ece58 87.4%,#3bbb75 89.1%,#2db27d 89.6%,#23a983 90.2%,#1fa088 90.7%,#25858e 92.3%,#29798e 93.4%,#2a768e 95.1%,#29798e 96.2%,#2a768e 96.7%,#33628d 97.8%,#33628d 100%)"></i><i style="left:126px;background:linear-gradient(#2a778e 0%,#2c728e 7.1%,#3b518b 25.7%,#46307e 33.9%,#482576 38.8%,#482576 43.7%,#46307e 49.2%,#3d4e8a 59%,#30698e 65%,#1f968b 72.7%,#21a685 76%,#2db27d 78.1%,#44bf70 80.3%,#6ccd5a 83.1%,#8bd646 85.2%,#89d548 86.3%,#7fd34e 86.9%,#50c46a 88.5%,#2eb37c 89.6%,#23a983 90.2%,#1fa088 90.7%,#287d8e 92.9%,#2c728e 94%,#2c718e 95.1%,#277f8e 96.2%,#26828e 96.7%,#2b758e 97.3%,#32658e 97.8%,#32658e 100%)"></i><i style="left:132px;background:linear-gradient(#2b758e 0%,#2e6f8e 7.7%,#3d4d8a 25.1%,#472e7c 32.8%,#482071 37.7%,#482071 42.1%,#472a7a 47.5%,#3f4788 56.3%,#31668e 63.9%,#1f978b 72.7%,#21a685 76%,#2db27d 78.1%,#54c568 81.4%,#89d548 84.7%,#93d741 85.8%,#8ed645 86.3%,#84d44b 86.9%,#63cb5f 88%,#2fb47c 89.6%,#24aa83 90.2%,#1fa088 90.7%,#287d8e 92.9%,#2e6f8e 94.5%,#2e6f8e 95.1%,#2c738e 95.6%,#26828e 96.2%,#228b8d 96.7%,#297a8e 97.3%,#32648e 97.8%,#32648e 100%)"></i><i style="left:138px;background:linear-gradient(#2c738e 0%,#2e6f8e 5.5%,#3d4d8a 23%,#453581 29.5%,#481f70 35.5%,#481b6d 39.9%,#482576 45.9%,#424186 53.6%,#30698e 63.9%,#1f978b 72.7%,#21a685 76%,#2db27d 78.1%,#4ec36b 80.9%,#8ed645 84.7%,#93d741 85.2%,#93d741 85.8%,#86d549 86.9%,#67cc5c 88%,#40bd72 89.1%,#25ab82 90.2%,#1fa188 90.7%,#25858e 92.3%,#2b758e 94%,#2b748e 95.1%,#287c8e 96.2%,#297a8e 96.7%,#2d718e 97.3%,#33638d 97.8%,#33638d 100%)"></i><i style="left:144px;background:linear-gradient(#2d718e 0%,#2e6d8e 5.5%,#414287 24.6%,#482979 31.1%,#481b6d 35.5%,#48186a 39.9%,#482677 45.9%,#3f4788 53.6%,#2c718e 65%,#1f988b 72.7%,#22a884 76.5%,#31b57b 78.7%,#50c46a 80.9%,#8ed645 84.2%,#98d83e 85.2%,#98d83e 85.8%,#93d741 86.3%,#89d548 86.9%,#69cd5b 88%,#32b67a 89.6%,#25ac82 90.2%,#1fa287 90.7%,#218f8d 91.8%,#297b8e 93.4%,#2a768e 94.5%,#2a788e 96.2%,#2b748e 96.7%,#34618d 97.8%,#34618d 100%)"></i><i style="left:150px;background:linear-gradient(#2e6f8e 0%,#2f6c8e 4.4%,#3a538b 15.8%,#453882 26.2%,#481769 35%,#481668 38.8%,#482576 44.8%,#404688 51.9%,#2b758e 65%,#1f998a 72.7%,#22a884 76.5%,#2cb17e 78.1%,#48c16e 80.3%,#7fd34e 83.1%,#8bd646 83.6%,#a0da39 85.2%,#a0da39 85.8%,#9bd93c 86.3%,#90d743 86.9%,#81d34d 87.4%,#46c06f 89.1%,#27ad81 90.2%,#20a386 90.7%,#21908d 91.8%,#297b8e 93.4%,#2b758e 94.5%,#29798e 96.2%,#2a768e 96.7%,#33628d 97.8%,#33628d 100%)"></i><i style="left:156px;background:linear-gradient(#2e6d8e 0%,#306a8e 4.4%,#3d4d8a 16.9%,#46327e 26.8%,#481467 35%,#481467 38.3%,#482071 42.6%,#414287 49.7%,#355f8d 56.8%,#297b8e 65.6%,#1f9a8a 72.7%,#22a884 76.5%,#2cb17e 78.1%,#48c16e 80.3%,#5cc863 81.4%,#98d83e 84.2%,#a2da37 84.7%,#a8db34 85.2%,#a8db34 85.8%,#a2da37 86.3%,#98d83e 86.9%,#89d548 87.4%,#4ac16d 89.1%,#37b878 89.6%,#28ae80 90.2%,#20a486 90.7%,#21908d 91.8%,#29798e 93.4%,#2c718e 94.5%,#2c718e 95.1%,#277f8e 96.2%,#26828e 96.7%,#2b758e 97.3%,#32658e 97.8%,#32658e 100%)"></i><i style="left:162px;background:linear-gradient(#2f6b8e 0%,#31688e 4.4%,#3c4f8a 14.8%,#472f7d 26.2%,#481b6d 32.2%,#471164 36.1%,#481769 39.3%,#463480 45.9%,#3b518b 51.4%,#30698e 57.9%,#277f8e 65.6%,#1e9b8a 72.7%,#23a983 76.5%,#2db27d 78.1%,#3fbc73 79.8%,#67cc5c 82%,#90d743 83.6%,#addc30 85.2%,#b0dd2f 85.8%,#aadc32 86.3%,#8ed645 87.4%,#4ec36b 89.1%,#38b977 89.6%,#29af7f 90.2%,#21a585 90.7%,#1f9a8a 91.3%,#2a788e 93.4%,#2d708e 94.5%,#2e6f8e 95.1%,#2c738e 95.6%,#26828e 96.2%,#228b8d 96.7%,#297a8e 97.3%,#32648e 97.8%,#32648e 100%)"></i><i style="left:168px;background:linear-gradient(#306a8e 0%,#31668e 4.4%,#3e4a89 15.3%,#482979 27.9%,#471365 35%,#481668 37.7%,#482979 42.6%,#3f4889 48.1%,#32658e 54.1%,#24878e 67.2%,#1fa088 73.8%,#25ab82 76.5%,#34b679 78.7%,#48c16e 80.3%,#73d056 82.5%,#9bd93c 84.2%,#a5db36 84.7%,#addc30 85.8%,#a8db34 86.3%,#9dd93b 86.9%,#8ed645 87.4%,#50c46a 89.1%,#2ab07f 90.2%,#21a685 90.7%,#1e9c89 91.3%,#26818e 92.9%,#2a768e 94%,#2b758e 95.1%,#287c8e 96.2%,#297a8e 96.7%,#2d718e 97.3%,#33638d 97.8%,#33638d 100%)"></i><i style="left:174px;background:linear-gradient(#31688e 0%,#32648e 4.4%,#3d4d8a 13.7%,#46307e 24%,#481668 35.5%,#481f70 39.3%,#414287 45.9%,#32648e 51.9%,#2b748e 56.8%,#228c8d 67.8%,#1fa187 73.8%,#27ad81 76.5%,#37b878 78.7%,#52c569 80.9%,#70cf57 82.5%,#9bd93c 84.2%,#a5db36 84.7%,#addc30 85.8%,#a0da39 86.9%,#90d743 87.4%,#52c569 89.1%,#3dbc74 89.6%,#2db27d 90.2%,#22a785 90.7%,#1e9d89 91.3%,#26828e 92.9%,#2a778e 94.5%,#2a788e 96.2%,#2b748e 96.7%,#34618d 97.8%,#34618d 100%)"></i><i style="left:180px;background:linear-gradient(#31678e 0%,#33638d 4.4%,#3e4989 14.2%,#46337f 22.4%,#481b6d 35%,#482173 38.3%,#453781 42.6%,#365c8d 48.6%,#2b748e 54.1%,#25838e 60.7%,#20928c 68.9%,#21a585 73.8%,#2cb17e 76.5%,#42be71 79.2%,#5ec962 81.4%,#73d056 82.5%,#93d741 83.6%,#aadc32 84.7%,#b2dd2d 85.2%,#b5de2b 85.8%,#b0dd2f 86.3%,#a5db36 86.9%,#84d44b 88%,#40bd72 89.6%,#2eb37c 90.2%,#23a983 90.7%,#1f9e89 91.3%,#26828e 92.9%,#2a778e 94.5%,#29798e 96.2%,#2a768e 96.7%,#33628d 97.8%,#33628d 100%)"></i><i style="left:186px;background:linear-gradient(#31668e 0%,#33628d 4.4%,#3e4989 13.7%,#46337f 21.9%,#482173 35.5%,#472d7b 39.3%,#3e4c8a 44.8%,#2d708e 50.8%,#26828e 56.3%,#1f9a8a 69.4%,#23a983 73.8%,#38b977 77%,#5ac864 80.3%,#75d054 82%,#90d743 83.1%,#addc30 84.2%,#c0df25 85.2%,#bddf26 86.3%,#a0da39 87.4%,#73d056 88.5%,#44bf70 89.6%,#31b57b 90.2%,#24aa83 90.7%,#1f9f88 91.3%,#297b8e 93.4%,#2c728e 94.5%,#2c728e 95.1%,#277f8e 96.2%,#26828e 96.7%,#2b758e 97.3%,#32658e 97.8%,#32658e 100%)"></i><i style="left:192px;background:linear-gradient(#32658e 0%,#33628d 3.8%,#3c4f8a 11.5%,#453781 20.2%,#46307e 25.7%,#482979 35%,#46327e 38.8%,#3a538b 44.8%,#297a8e 51.4%,#238a8d 56.3%,#1fa188 69.4%,#26ad81 73.2%,#3fbc73 76.5%,#5cc863 79.2%,#7fd34e 81.4%,#a2da37 83.1%,#bddf26 84.2%,#cde11d 85.2%,#cde11d 85.8%,#c8e020 86.3%,#bddf26 86.9%,#aadc32 87.4%,#60ca60 89.1%,#48c16e 89.6%,#34b679 90.2%,#25ac82 90.7%,#1fa188 91.3%,#26828e 92.9%,#2b748e 94%,#2d708e 95.1%,#2c738e 95.6%,#26828e 96.2%,#228b8d 96.7%,#297a8e 97.3%,#32648e 97.8%,#32648e 100%)"></i><i style="left:198px;background:linear-gradient(#32648e 0%,#34618d 3.8%,#3c4f8a 11.5%,#453781 20.2%,#46327e 35.5%,#433d84 39.3%,#375b8d 44.8%,#26828e 51.4%,#21918c 56.3%,#1fa287 66.1%,#29af7f 72.1%,#37b878 74.3%,#69cd5b 78.7%,#7fd34e 80.3%,#a8db34 82.5%,#cae11f 84.2%,#d8e219 85.2%,#d0e11c 86.3%,#c2df23 86.9%,#9bd93c 88%,#4ec36b 89.6%,#37b878 90.2%,#27ad81 90.7%,#1fa287 91.3%,#228d8d 92.3%,#2a788e 94%,#2a768e 95.1%,#287c8e 96.2%,#297a8e 96.7%,#2d718e 97.3%,#33638d 97.8%,#33638d 100%)"></i><i style="left:204px;background:linear-gradient(#33638d 0%,#355f8d 4.9%,#3e4c8a 12.6%,#433d84 18%,#453882 23.5%,#443983 31.1%,#433d84 37.2%,#3a548c 42.6%,#25858e 50.8%,#1f948c 55.2%,#21a585 63.9%,#31b57b 69.9%,#38b977 72.7%,#50c46a 74.9%,#93d741 80.3%,#cde11d 83.6%,#dde318 84.7%,#dfe318 85.8%,#d8e219 86.3%,#cae11f 86.9%,#a2da37 88%,#52c569 89.6%,#3bbb75 90.2%,#29af7f 90.7%,#20a486 91.3%,#1f998a 91.8%,#27808e 93.4%,#29798e 94.5%,#2a788e 96.2%,#2b748e 96.7%,#34618d 97.8%,#34618d 100%)"></i><i style="left:210px;background:linear-gradient(#33638d 0%,#355f8d 4.9%,#3e4989 13.7%,#433d84 20.2%,#424086 27.3%,#414487 36.1%,#3c4f8a 39.9%,#2e6f8e 45.9%,#218e8d 51.4%,#1e9c89 56.8%,#22a785 62.3%,#2eb37c 65.6%,#3fbc73 68.9%,#4ec36b 72.7%,#65cb5e 74.9%,#8ed645 78.1%,#9dd93b 79.8%,#bade28 82%,#d8e219 83.6%,#e7e419 84.7%,#eae51a 85.8%,#e2e418 86.3%,#d5e21a 86.9%,#c2df23 87.4%,#90d743 88.5%,#56c667 89.6%,#2cb17e 90.7%,#21a585 91.3%,#1f9a8a 91.8%,#27808e 93.4%,#2a788e 94.5%,#29798e 96.2%,#2a768e 96.7%,#33628d 97.8%,#33628d 100%)"></i><i style="left:216px;background:linear-gradient(#33628d 0%,#355f8d 4.9%,#3d4e8a 12.6%,#414287 17.5%,#414287 23.5%,#3e4989 30.1%,#3e4c8a 36.1%,#38588c 40.4%,#25848e 48.6%,#1f948c 51.9%,#21a685 60.7%,#2db27d 63.9%,#52c569 68.3%,#65cb5e 72.7%,#84d44b 75.4%,#98d83e 77%,#aadc32 79.2%,#b8de29 80.9%,#d2e21b 83.1%,#e5e419 84.2%,#efe51c 84.7%,#f4e61e 85.2%,#f4e61e 85.8%,#efe51c 86.3%,#e2e418 86.9%,#cde11d 87.4%,#95d840 88.5%,#5ac864 89.6%,#40bd72 90.2%,#2db27d 90.7%,#21a685 91.3%,#1f9a8a 91.8%,#277e8e 93.4%,#2c738e 94.5%,#2a778e 95.6%,#277f8e 96.2%,#26828e 96.7%,#2b758e 97.3%,#32658e 97.8%,#32658e 100%)"></i><i style="left:222px;background:linear-gradient(#33628d 0%,#355f8d 4.9%,#3c508b 12.6%,#3f4788 16.4%,#3f4889 23.5%,#3b518b 30.1%,#3a548c 37.2%,#2f6b8e 43.2%,#1f958b 51.4%,#20a486 58.5%,#28ae80 62.3%,#3aba76 64.5%,#65cb5e 68.3%,#75d054 72.1%,#90d743 74.9%,#addc30 77%,#b5de2b 78.1%,#bade28 80.3%,#d0e11c 82.5%,#dfe318 83.6%,#f8e621 85.2%,#fbe723 85.8%,#f6e620 86.3%,#e7e419 86.9%,#d2e21b 87.4%,#b8de29 88%,#7cd250 89.1%,#42be71 90.2%,#2eb37c 90.7%,#21a685 91.3%,#1e9b8a 91.8%,#287d8e 93.4%,#2c718e 94.5%,#2d708e 95.1%,#2c738e 95.6%,#26828e 96.2%,#228b8d 96.7%,#297a8e 97.3%,#32648e 97.8%,#32648e 100%)"></i><i style="left:228px;background:linear-gradient(#33628d 0%,#365d8d 7.1%,#3e4a89 16.9%,#3d4e8a 23%,#38598c 29.5%,#375b8d 36.6%,#30698e 41.5%,#1f978b 51.4%,#21a585 58.5%,#2ab07f 62.3%,#38b977 63.9%,#5ec962 66.7%,#6ece58 67.8%,#75d054 68.9%,#7fd34e 71.6%,#95d840 74.3%,#b8de29 77%,#bddf26 77.6%,#bddf26 79.8%,#c8e020 81.4%,#dde318 83.1%,#f4e61e 84.7%,#f8e621 85.2%,#f1e51d 86.3%,#e5e419 86.9%,#d0e11c 87.4%,#b8de29 88%,#7cd250 89.1%,#42be71 90.2%,#2eb37c 90.7%,#22a785 91.3%,#1e9b8a 91.8%,#27808e 93.4%,#2a768e 94.5%,#287c8e 96.2%,#297a8e 96.7%,#2d718e 97.3%,#33638d 97.8%,#33638d 100%)"></i><i style="left:234px;background:linear-gradient(#33628d 0%,#375b8d 9.3%,#3c4f8a 16.4%,#3b528b 22.4%,#34608d 30.1%,#33628d 37.2%,#2c728e 42.6%,#1f9a8a 51.9%,#24aa83 60.1%,#2cb17e 62.3%,#3fbc73 64.5%,#6ece58 67.8%,#84d44b 72.1%,#90d743 73.8%,#b5de2b 77%,#bade28 78.7%,#bddf26 80.3%,#d5e21a 82.5%,#ece51b 84.2%,#f4e61e 85.2%,#f4e61e 85.8%,#ece51b 86.3%,#dfe318 86.9%,#cde11d 87.4%,#b5de2b 88%,#7ad151 89.1%,#5cc863 89.6%,#42be71 90.2%,#2eb37c 90.7%,#22a785 91.3%,#1e9c89 91.8%,#23888e 92.9%,#297a8e 94.5%,#2a788e 96.2%,#2b748e 96.7%,#34608d 97.8%,#34608d 100%)"></i><i style="left:240px;background:linear-gradient(#33628d 0%,#375b8d 10.4%,#3a538b 16.4%,#39568c 21.3%,#31668e 30.6%,#31688e 37.2%,#2a778e 42.6%,#1f9a8a 51.9%,#23a983 60.1%,#2eb37c 62.8%,#3dbc74 64.5%,#60ca60 67.2%,#70cf57 69.4%,#7cd250 72.1%,#98d83e 75.4%,#aadc32 77.6%,#b5de2b 80.3%,#c8e020 82%,#dfe318 83.6%,#efe51c 84.7%,#f1e51d 85.8%,#eae51a 86.3%,#dde318 86.9%,#cae11f 87.4%,#b2dd2d 88%,#5cc863 89.6%,#42be71 90.2%,#2db27d 90.7%,#21a685 91.3%,#1e9b8a 91.8%,#26818e 93.4%,#2a788e 94.5%,#29798e 96.2%,#2a768e 96.7%,#33628d 97.8%,#33628d 100%)"></i><i style="left:246px;background:linear-gradient(#33628d 0%,#375a8c 12.6%,#38598c 19.7%,#2f6b8e 30.1%,#2e6f8e 37.7%,#23888e 46.4%,#1f9f88 53.6%,#24aa83 60.7%,#2cb17e 62.8%,#3fbc73 65%,#5ec962 68.3%,#69cd5b 70.5%,#6ece58 72.1%,#89d548 75.4%,#9dd93b 78.1%,#a8db34 80.3%,#bade28 82%,#d8e219 83.6%,#eae51a 84.7%,#efe51c 85.2%,#efe51c 85.8%,#eae51a 86.3%,#dae319 86.9%,#c8e020 87.4%,#b0dd2f 88%,#75d054 89.1%,#58c765 89.6%,#3fbc73 90.2%,#2cb17e 90.7%,#21a585 91.3%,#1f9a8a 91.8%,#277e8e 93.4%,#2c738e 94.5%,#2a778e 95.6%,#277f8e 96.2%,#26828e 96.7%,#2b758e 97.3%,#32658e 97.8%,#32658e 100%)"></i><i style="left:252px;background:linear-gradient(#34618d 0%,#365c8d 13.7%,#365d8d 19.1%,#2d708e 30.1%,#2b748e 38.3%,#1e9c89 52.5%,#24aa83 61.2%,#2cb17e 63.4%,#54c568 68.3%,#5cc863 71%,#60ca60 72.7%,#70cf57 74.9%,#7cd250 76%,#9dd93b 80.9%,#b2dd2d 82.5%,#d5e21a 84.2%,#e7e419 85.2%,#eae51a 85.8%,#e5e419 86.3%,#d5e21a 86.9%,#c2df23 87.4%,#aadc32 88%,#56c667 89.6%,#3dbc74 90.2%,#2ab07f 90.7%,#20a486 91.3%,#1f998a 91.8%,#287d8e 93.4%,#2c718e 94.5%,#2d708e 95.1%,#2c738e 95.6%,#26828e 96.2%,#228b8d 96.7%,#297b8e 97.3%,#32648e 97.8%,#32648e 100%)"></i><i style="left:258px;background:linear-gradient(#34618d 0%,#355f8d 16.9%,#2b758e 31.1%,#297a8e 38.3%,#1f9e89 53%,#25ab82 62.3%,#34b679 65%,#4ac16d 68.3%,#50c46a 71.6%,#52c569 72.7%,#58c765 73.8%,#75d054 77%,#93d741 81.4%,#b0dd2f 83.1%,#d2e21b 84.7%,#dae319 85.2%,#dae319 85.8%,#d5e21a 86.3%,#cae11f 86.9%,#a2da37 88%,#52c569 89.6%,#3aba76 90.2%,#29af7f 90.7%,#20a386 91.3%,#218f8d 92.3%,#277e8e 93.4%,#2b758e 95.1%,#287c8e 96.2%,#297a8e 96.7%,#2d718e 97.3%,#33638d 97.8%,#33638d 100%)"></i><i style="left:264px;background:linear-gradient(#34618d 0%,#33638d 17.5%,#29798e 30.6%,#27808e 38.3%,#228c8d 43.7%,#1e9d89 52.5%,#25ab82 62.3%,#31b57b 65%,#44bf70 68.3%,#4ac16d 72.7%,#70cf57 78.1%,#8bd646 81.4%,#a8db34 83.1%,#c0df25 84.2%,#d0e11c 85.2%,#d0e11c 85.8%,#cae11f 86.3%,#c0df25 86.9%,#b0dd2f 87.4%,#9bd93c 88%,#4ec36b 89.6%,#38b977 90.2%,#27ad81 90.7%,#1fa287 91.3%,#218f8d 92.3%,#297b8e 94%,#2a788e 96.2%,#2b748e 96.7%,#34618d 97.8%,#34618d 100%)"></i><i style="left:270px;background:linear-gradient(#34618d 0%,#32648e 15.3%,#277e8e 31.1%,#25838e 37.7%,#21908d 42.6%,#20928c 47%,#21a585 57.9%,#27ad81 62.8%,#40bd72 68.3%,#46c06f 72.7%,#54c568 75.4%,#7ad151 80.3%,#90d743 82%,#c5e021 84.7%,#cae11f 85.2%,#cae11f 85.8%,#c5e021 86.3%,#bade28 86.9%,#aadc32 87.4%,#95d840 88%,#4cc26c 89.6%,#35b779 90.2%,#26ad81 90.7%,#1fa187 91.3%,#228d8d 92.3%,#297a8e 94%,#2a778e 95.1%,#29798e 96.2%,#2a768e 96.7%,#33628d 97.8%,#33628d 100%)"></i><i style="left:276px;background:linear-gradient(#34618d 0%,#32648e 12%,#2c728e 22.4%,#26818e 29.5%,#24878e 37.2%,#20928c 42.1%,#1f988b 48.6%,#24aa83 60.1%,#2eb37c 63.9%,#40bd72 68.3%,#46c06f 73.2%,#54c568 76%,#73d056 79.8%,#86d549 81.4%,#b8de29 84.2%,#c2df23 84.7%,#cae11f 85.8%,#c5e021 86.3%,#bade28 86.9%,#93d741 88%,#48c16e 89.6%,#34b679 90.2%,#25ac82 90.7%,#1fa188 91.3%,#26828e 92.9%,#2a768e 94%,#2c728e 95.1%,#277f8e 96.2%,#26828e 96.7%,#2b758e 97.3%,#32658e 97.8%,#32658e 100%)"></i><i style="left:282px;background:linear-gradient(#34608d 0%,#32658e 10.9%,#2b748e 21.3%,#25848e 29.5%,#228b8d 37.2%,#1f968b 42.6%,#1e9c89 49.2%,#25ab82 59.6%,#31b57b 63.9%,#42be71 68.3%,#46c06f 73.2%,#52c569 76%,#6ccd5a 79.2%,#86d549 81.4%,#c0df25 84.7%,#c8e020 85.2%,#cae11f 85.8%,#c5e021 86.3%,#b8de29 86.9%,#90d743 88%,#46c06f 89.6%,#32b67a 90.2%,#25ab82 90.7%,#1fa088 91.3%,#26828e 92.9%,#2d718e 94.5%,#2d708e 95.1%,#2c738e 95.6%,#26828e 96.2%,#228b8d 96.7%,#297a8e 97.3%,#32648e 97.8%,#32648e 100%)"></i><i style="left:288px;background:linear-gradient(#34608d 0%,#32658e 9.8%,#277f8e 24.6%,#23888e 30.1%,#228d8d 37.2%,#1f988b 42.6%,#1fa287 53%,#28ae80 60.7%,#3aba76 65%,#46c06f 68.9%,#48c16e 73.2%,#50c46a 75.4%,#60ca60 78.1%,#7fd34e 80.9%,#bddf26 84.7%,#c2df23 85.2%,#c2df23 85.8%,#bddf26 86.3%,#b2dd2d 86.9%,#8bd646 88%,#44bf70 89.6%,#31b57b 90.2%,#24aa83 90.7%,#1f9f88 91.3%,#26828e 92.9%,#2b748e 94.5%,#287c8e 96.2%,#297a8e 96.7%,#32648e 97.8%,#32648e 100%)"></i><i style="left:294px;background:linear-gradient(#34608d 0%,#32658e 8.7%,#277e8e 23%,#228c8d 30.1%,#228d8d 36.1%,#1e9b8a 44.3%,#23a983 56.3%,#2db27d 61.2%,#40bd72 65.6%,#4ac16d 68.3%,#4ac16d 73.8%,#56c667 76.5%,#6ccd5a 79.2%,#7fd34e 80.9%,#b5de2b 84.2%,#bddf26 85.2%,#bddf26 85.8%,#b8de29 86.3%,#addc30 86.9%,#70cf57 88.5%,#42be71 89.6%,#2fb47c 90.2%,#23a983 90.7%,#1f9f88 91.3%,#25838e 92.9%,#29798e 94%,#2a788e 96.2%,#2b748e 96.7%,#34618d 97.8%,#34618d 100%)"></i><i style="left:300px;background:linear-gradient(#34608d 0%,#32648e 7.7%,#24878e 25.7%,#218f8d 30.6%,#218f8d 36.6%,#1f9e89 45.4%,#24aa83 56.3%,#2fb47c 61.2%,#4ec36b 67.8%,#4ac16d 72.7%,#54c568 76%,#6ccd5a 79.2%,#8ed645 82%,#b8de29 84.7%,#bade28 85.8%,#b5de2b 86.3%,#aadc32 86.9%,#9bd93c 87.4%,#58c765 89.1%,#40bd72 89.6%,#2eb37c 90.2%,#23a983 90.7%,#1f9e89 91.3%,#26828e 92.9%,#2a788e 94%,#2a788e 95.6%,#2a768e 96.7%,#33628d 97.8%,#33628d 100%)"></i><i style="left:306px;background:linear-gradient(#34608d 0%,#32648e 7.1%,#21918c 30.1%,#21918c 37.2%,#1fa088 45.9%,#25ab82 56.3%,#2fb47c 60.7%,#4ec36b 67.2%,#4ec36b 70.5%,#4ec36b 73.8%,#5cc863 77%,#67cc5c 78.7%,#8bd646 82%,#a2da37 83.6%,#b5de2b 84.7%,#bddf26 85.8%,#b8de29 86.3%,#addc30 86.9%,#86d549 88%,#56c667 89.1%,#2eb37c 90.2%,#22a884 90.7%,#1e9d89 91.3%,#26818e 92.9%,#2b748e 94%,#2c728e 95.1%,#277f8e 96.2%,#26818e 96.7%,#32658e 97.8%,#32658e 100%)"></i><i style="left:312px;background:linear-gradient(#34608d 0%,#33638d 6%,#2c738e 14.2%,#21918c 28.4%,#20928c 37.2%,#1fa187 47%,#25ab82 55.7%,#31b57b 60.7%,#4ec36b 67.2%,#50c46a 73.8%,#52c569 74.9%,#65cb5e 78.1%,#7cd250 80.9%,#a0da39 83.6%,#bade28 85.2%,#bddf26 85.8%,#b8de29 86.3%,#9bd93c 87.4%,#56c667 89.1%,#3fbc73 89.6%,#2db27d 90.2%,#22a785 90.7%,#1e9d89 91.3%,#27808e 92.9%,#2c738e 94%,#2e6f8e 95.1%,#2c738e 95.6%,#26828e 96.2%,#238a8d 96.7%,#29798e 97.3%,#32648e 97.8%,#32648e 100%)"></i><i style="left:318px;background:linear-gradient(#34608d 0%,#33638d 6%,#2a788e 15.3%,#238a8d 24%,#20928c 30.6%,#20928c 37.7%,#1fa187 46.4%,#25ac82 56.3%,#31b57b 60.7%,#48c16e 66.1%,#4ec36b 68.3%,#50c46a 73.2%,#56c667 75.4%,#69cd5b 78.7%,#7cd250 80.9%,#a0da39 83.6%,#b5de2b 85.2%,#b5de2b 85.8%,#b0dd2f 86.3%,#a5db36 86.9%,#95d840 87.4%,#54c568 89.1%,#2db27d 90.2%,#22a785 90.7%,#1e9d89 91.3%,#26818e 92.9%,#2c738e 94.5%,#297b8e 96.2%,#297a8e 96.7%,#32648e 97.8%,#32648e 100%)"></i><i style="left:324px;background:linear-gradient(#34608d 0%,#32648e 6%,#2b748e 13.1%,#24878e 20.8%,#1f948c 31.1%,#1f948c 38.3%,#1fa187 45.9%,#25ab82 56.3%,#35b779 61.7%,#48c16e 66.1%,#4ec36b 69.9%,#52c569 73.8%,#63cb5f 77.6%,#81d34d 81.4%,#addc30 84.7%,#b0dd2f 85.8%,#aadc32 86.3%,#a0da39 86.9%,#90d743 87.4%,#52c569 89.1%,#3dbc74 89.6%,#2db27d 90.2%,#22a785 90.7%,#1e9d89 91.3%,#26828e 92.9%,#2a788e 94%,#2a778e 96.2%,#2c738e 96.7%,#34618d 97.8%,#34618d 100%)"></i><i style="left:330px;background:linear-gradient(#34608d 0%,#32658e 6.6%,#29798e 14.2%,#23898e 20.2%,#1f968b 31.7%,#1f948c 37.7%,#1fa187 45.9%,#24aa83 55.7%,#2fb47c 60.7%,#44bf70 65.6%,#56c667 74.3%,#69cd5b 78.7%,#86d549 82%,#aadc32 84.7%,#addc30 85.8%,#a0da39 86.9%,#90d743 87.4%,#52c569 89.1%,#3dbc74 89.6%,#2db27d 90.2%,#22a884 90.7%,#1e9d89 91.3%,#26828e 92.9%,#2a788e 94%,#2a788e 96.2%,#2b758e 96.7%,#33628d 97.8%,#33628d 100%)"></i><i style="left:336px;background:linear-gradient(#34618d 0%,#32648e 5.5%,#2c738e 12%,#23888e 18.6%,#1f978b 31.7%,#20938c 37.2%,#1fa188 45.4%,#22a884 55.2%,#2cb17e 60.1%,#46c06f 67.2%,#54c568 73.8%,#63cb5f 77.6%,#7ad151 80.9%,#89d548 82.5%,#95d840 83.6%,#a8db34 84.7%,#b0dd2f 85.8%,#aadc32 86.3%,#a0da39 86.9%,#7fd34e 88%,#52c569 89.1%,#2db27d 90.2%,#22a884 90.7%,#1f9e89 91.3%,#297a8e 93.4%,#2c718e 94.5%,#2c718e 95.1%,#277f8e 96.2%,#26818e 96.7%,#32658e 97.8%,#32658e 100%)"></i><i style="left:342px;background:linear-gradient(#34618d 0%,#32658e 6%,#2a768e 12.6%,#228b8d 18.6%,#1f948c 29%,#1f978b 32.2%,#20938c 37.2%,#1fa088 46.4%,#24aa83 57.4%,#35b779 63.4%,#4ac16d 69.9%,#58c765 74.9%,#67cc5c 78.7%,#86d549 82.5%,#9bd93c 84.2%,#a5db36 84.7%,#b0dd2f 85.8%,#aadc32 86.3%,#a0da39 86.9%,#7fd34e 88%,#3fbc73 89.6%,#2eb37c 90.2%,#23a983 90.7%,#1f9f88 91.3%,#297b8e 93.4%,#2d718e 94.5%,#2d708e 95.1%,#2c738e 95.6%,#25838e 96.2%,#23898e 96.7%,#32648e 97.8%,#32648e 100%)"></i><i style="left:348px;background:linear-gradient(#33628d 0%,#32658e 5.5%,#2b758e 12%,#218e8d 18.6%,#20928c 27.3%,#1f958b 32.2%,#20928c 37.2%,#1f9e89 46.4%,#24aa83 58.5%,#42be71 68.3%,#5cc863 76.5%,#70cf57 80.3%,#8bd646 83.1%,#a8db34 85.2%,#a5db36 86.3%,#8ed645 87.4%,#54c568 89.1%,#31b57b 90.2%,#25ab82 90.7%,#1fa187 91.3%,#218f8d 92.3%,#297a8e 94%,#2a768e 95.1%,#297a8e 96.2%,#2a788e 96.7%,#32648e 97.8%,#32648e 100%)"></i><i style="left:354px;background:linear-gradient(#33628d 0%,#31688e 6.6%,#297a8e 13.1%,#218f8d 18%,#20928c 27.9%,#20928c 33.9%,#20928c 38.3%,#1e9d89 48.1%,#22a884 58.5%,#3dbc74 68.3%,#5ec962 77.6%,#73d056 80.9%,#a2da37 85.2%,#a0da39 86.3%,#89d548 87.4%,#67cc5c 88.5%,#32b67a 90.2%,#20a486 91.3%,#20938c 92.3%,#27808e 94%,#2d718e 96.7%,#34618d 97.8%,#34618d 100%)"></i><i style="left:360px;background:linear-gradient(#33638d 0%,#30698e 6.6%,#2a778e 12%,#21918c 18%,#20928c 27.3%,#20928c 33.9%,#20928c 38.3%,#20a486 56.8%,#2cb17e 63.4%,#3fbc73 69.9%,#5cc863 77.6%,#70cf57 80.9%,#86d549 83.1%,#9bd93c 84.7%,#a0da39 85.2%,#9dd93b 86.3%,#95d840 86.9%,#7ad151 88%,#44bf70 89.6%,#28ae80 90.7%,#21a685 91.3%,#1f978b 92.3%,#277f8e 94.5%,#31668e 97.3%,#355f8d 97.8%,#355f8d 100%)"></i><i style="left:366px;background:linear-gradient(#32648e 0%,#306a8e 6.6%,#297b8e 12.6%,#21918c 17.5%,#20928c 27.9%,#20928c 39.3%,#1e9c89 50.8%,#23a983 60.1%,#32b67a 67.8%,#5cc863 78.1%,#6ece58 80.9%,#81d34d 83.1%,#9dd93b 85.2%,#a0da39 85.8%,#9dd93b 86.3%,#95d840 86.9%,#89d548 87.4%,#56c667 89.1%,#35b779 90.2%,#22a884 91.3%,#1f998a 92.3%,#2b758e 95.6%,#355f8d 97.8%,#355f8d 100%)"></i><i style="left:372px;background:linear-gradient(#31668e 0%,#30698e 5.5%,#2a788e 10.9%,#20928c 17.5%,#21908d 24%,#20928c 39.9%,#1f968b 48.1%,#21a685 60.1%,#31b57b 68.9%,#48c16e 74.3%,#5ec962 79.2%,#77d153 82.5%,#84d44b 83.6%,#9dd93b 85.2%,#a0da39 85.8%,#9dd93b 86.3%,#95d840 86.9%,#77d153 88%,#44bf70 89.6%,#35b779 90.2%,#23a983 91.3%,#1e9b8a 92.3%,#2b748e 95.6%,#34608d 97.8%,#34608d 100%)"></i><i style="left:378px;background:linear-gradient(#31678e 0%,#2f6b8e 6%,#25838e 13.1%,#20938c 16.9%,#218f8d 23.5%,#21918c 32.2%,#21918c 39.3%,#20928c 47%,#21a585 60.7%,#29af7f 68.3%,#3aba76 72.1%,#54c568 78.1%,#70cf57 82%,#98d83e 85.2%,#95d840 86.3%,#84d44b 87.4%,#44bf70 89.6%,#35b779 90.2%,#23a983 91.3%,#1e9b8a 92.3%,#2b758e 95.6%,#355f8d 97.8%,#355f8d 100%)"></i><i style="left:384px;background:linear-gradient(#30698e 0%,#2e6d8e 6%,#26828e 12%,#1f958b 16.9%,#20928c 20.2%,#218f8d 24%,#21918c 39.9%,#20928c 47.5%,#1e9c89 55.7%,#25ab82 68.3%,#2fb47c 71.6%,#4cc26c 77.6%,#63cb5f 80.9%,#90d743 84.7%,#93d741 85.8%,#90d743 86.3%,#7fd34e 87.4%,#42be71 89.6%,#34b679 90.2%,#22a884 91.3%,#1f9a8a 92.3%,#2d708e 96.2%,#355f8d 97.8%,#355f8d 100%)"></i><i style="left:390px;background:linear-gradient(#2f6b8e 0%,#2e6f8e 6%,#26828e 11.5%,#1f948c 15.8%,#1f968b 18.6%,#218f8d 23%,#20928c 48.1%,#1f988b 54.6%,#22a785 69.4%,#37b878 74.9%,#52c569 79.2%,#65cb5e 81.4%,#86d549 84.2%,#8ed645 84.7%,#93d741 85.8%,#86d549 86.9%,#7cd250 87.4%,#3fbc73 89.6%,#27ad81 90.7%,#1f9f88 91.8%,#297a8e 95.1%,#355f8d 97.8%,#355f8d 100%)"></i><i style="left:396px;background:linear-gradient(#2e6d8e 0%,#2c728e 6.6%,#25848e 11.5%,#1f978b 16.9%,#218f8d 23%,#218f8d 33.9%,#218f8d 40.4%,#20928c 49.2%,#1f958b 53.6%,#1f978b 58.5%,#1fa088 68.9%,#25ac82 72.7%,#3bbb75 77%,#56c667 80.3%,#73d056 83.1%,#8bd646 84.7%,#93d741 85.8%,#90d743 86.3%,#7ad151 87.4%,#3bbb75 89.6%,#2eb37c 90.2%,#20a486 91.3%,#21908d 92.9%,#34608d 97.8%,#34608d 100%)"></i><i style="left:402px;background:linear-gradient(#2d708e 0%,#2c738e 5.5%,#26828e 10.4%,#1f958b 15.8%,#1f948c 19.1%,#218f8d 23%,#218f8d 32.8%,#228c8d 39.3%,#20928c 49.7%,#21918c 54.6%,#1f978b 68.3%,#21a685 72.7%,#32b67a 76.5%,#52c569 80.3%,#70cf57 83.1%,#89d548 84.7%,#90d743 85.8%,#8ed645 86.3%,#86d549 86.9%,#69cd5b 88%,#38b977 89.6%,#25ab82 90.7%,#1fa287 91.3%,#218e8d 92.9%,#34608d 97.8%,#34608d 100%)"></i><i style="left:408px;background:linear-gradient(#2c728e 0%,#2a768e 5.5%,#24868e 10.9%,#20938c 15.3%,#20938c 18.6%,#218f8d 24%,#218f8d 32.2%,#23898e 38.8%,#21908d 51.9%,#228b8d 57.4%,#228c8d 65%,#1f958b 69.9%,#21a685 73.8%,#31b57b 77%,#48c16e 79.8%,#7cd250 84.2%,#89d548 85.2%,#8bd646 85.8%,#7fd34e 86.9%,#56c667 88.5%,#2cb17e 90.2%,#1fa287 91.3%,#218e8d 92.9%,#34608d 97.8%,#34608d 100%)"></i><i style="left:414px;background:linear-gradient(#2b748e 0%,#29798e 5.5%,#20938c 15.3%,#20928c 19.7%,#218f8d 24.6%,#218f8d 31.7%,#24868e 37.7%,#228c8d 47.5%,#23888e 53%,#25838e 58.5%,#26818e 63.9%,#20928c 70.5%,#20a486 74.3%,#2cb17e 77%,#48c16e 80.3%,#6ccd5a 83.1%,#7cd250 84.2%,#86d549 85.8%,#7ad151 86.9%,#70cf57 87.4%,#37b878 89.6%,#23a983 90.7%,#1e9b8a 91.8%,#2c738e 95.6%,#355f8d 97.8%,#355f8d 100%)"></i><i style="left:420px;background:linear-gradient(#2a778e 0%,#287c8e 5.5%,#20928c 14.8%,#21918c 20.2%,#218f8d 31.1%,#26828e 38.3%,#228b8d 45.4%,#26828e 52.5%,#287d8e 57.9%,#2a788e 63.4%,#1f948c 71.6%,#21a685 75.4%,#2eb37c 78.1%,#4ac16d 80.9%,#7fd34e 84.7%,#84d44b 85.2%,#81d34d 86.3%,#6ece58 87.4%,#35b779 89.6%,#23a983 90.7%,#1f9a8a 91.8%,#2b748e 95.6%,#34608d 97.8%,#34608d 100%)"></i><i style="left:426px;background:linear-gradient(#297a8e 0%,#287d8e 4.4%,#20928c 15.3%,#21908d 25.7%,#218f8d 30.6%,#27808e 37.7%,#23898e 44.8%,#277f8e 50.8%,#2a768e 55.7%,#2a778e 63.9%,#1f948c 72.1%,#21a585 76%,#2ab07f 78.1%,#3fbc73 80.3%,#6ccd5a 83.6%,#7cd250 84.7%,#84d44b 85.8%,#81d34d 86.3%,#7ad151 86.9%,#5ec962 88%,#34b679 89.6%,#22a884 90.7%,#1f998a 91.8%,#29798e 95.1%,#34608d 97.8%,#34608d 100%)"></i><i style="left:432px;background:linear-gradient(#287c8e 0%,#27808e 4.4%,#20928c 15.8%,#218f8d 26.2%,#228c8d 31.1%,#287d8e 37.7%,#26828e 41%,#23888e 44.3%,#26828e 48.1%,#2d718e 53.6%,#2c718e 57.9%,#29798e 64.5%,#1e9d89 74.9%,#23a983 77.6%,#34b679 79.8%,#58c765 82.5%,#7ad151 84.7%,#81d34d 85.2%,#84d44b 85.8%,#81d34d 86.3%,#5ec962 88%,#32b67a 89.6%,#22a785 90.7%,#1f998a 91.8%,#26828e 94%,#34608d 97.8%,#34608d 100%)"></i><i style="left:438px;background:linear-gradient(#277e8e 0%,#26828e 4.4%,#20928c 15.3%,#228b8d 30.6%,#287c8e 37.7%,#26828e 41%,#24878e 44.3%,#277f8e 47.5%,#31688e 53.6%,#2e6d8e 57.9%,#23898e 69.9%,#1fa287 77%,#25ac82 78.7%,#35b779 80.3%,#56c667 82.5%,#77d153 84.7%,#7fd34e 85.8%,#73d056 86.9%,#69cd5b 87.4%,#32b67a 89.6%,#22a785 90.7%,#1f998a 91.8%,#29798e 95.1%,#34608d 97.8%,#34608d 100%)"></i><i style="left:444px;background:linear-gradient(#277f8e 0%,#26828e 4.4%,#20928c 15.3%,#23898e 30.1%,#297b8e 37.2%,#26828e 41.5%,#24868e 44.3%,#2b758e 48.6%,#33628d 53%,#33638d 55.7%,#287d8e 63.9%,#238a8d 71%,#1e9d89 77%,#25ab82 79.2%,#37b878 80.9%,#5cc863 83.1%,#67cc5c 83.6%,#7ad151 85.2%,#77d153 86.3%,#70cf57 86.9%,#5ac864 88%,#3dbc74 89.1%,#28ae80 90.2%,#1fa088 91.3%,#277e8e 94.5%,#34608d 97.8%,#34608d 100%)"></i><i style="left:450px;background:linear-gradient(#27808e 0%,#25838e 4.4%,#21918c 15.8%,#23888e 29%,#297a8e 37.2%,#25848e 44.3%,#365d8d 52.5%,#365c8d 54.6%,#2d708e 60.1%,#277e8e 63.4%,#25858e 69.9%,#1f948c 76.5%,#1fa287 78.7%,#2ab07f 80.3%,#44bf70 82%,#65cb5e 83.6%,#77d153 85.2%,#7ad151 85.8%,#6ece58 86.9%,#58c765 88%,#31b57b 89.6%,#21a685 90.7%,#1f988b 91.8%,#29798e 95.1%,#34608d 97.8%,#34608d 100%)"></i><i style="left:456px;background:linear-gradient(#26818e 0%,#24868e 6.6%,#21908d 16.4%,#24868e 28.4%,#2a778e 37.2%,#27808e 43.7%,#2c728e 47%,#38588c 52.5%,#38588c 55.2%,#2c738e 61.2%,#287d8e 63.9%,#24868e 72.7%,#218f8d 76.5%,#1e9d89 78.7%,#26ad81 80.3%,#40bd72 82%,#6ccd5a 84.2%,#77d153 85.2%,#7ad151 85.8%,#77d153 86.3%,#56c667 88%,#2fb47c 89.6%,#21a585 90.7%,#20928c 92.3%,#34608d 97.8%,#34608d 100%)"></i><i style="left:462px;background:linear-gradient(#26828e 0%,#24868e 7.1%,#218e8d 15.8%,#24878e 25.7%,#2b748e 37.2%,#2a788e 43.7%,#2f6c8e 47%,#3a548c 51.9%,#3a538b 54.6%,#355f8d 57.9%,#2a778e 62.8%,#277f8e 69.4%,#23888e 76%,#20938c 78.1%,#20a386 79.8%,#29af7f 80.9%,#3bbb75 82%,#69cd5b 84.2%,#77d153 85.2%,#7ad151 85.8%,#77d153 86.3%,#56c667 88%,#3aba76 89.1%,#26ad81 90.2%,#1f9e89 91.3%,#26828e 94%,#34608d 97.8%,#34608d 100%)"></i><i style="left:468px;background:linear-gradient(#26828e 0%,#24868e 7.1%,#228d8d 16.4%,#26828e 26.8%,#2d718e 37.2%,#2d708e 43.7%,#365d8d 48.6%,#3c4f8a 52.5%,#3c508b 55.2%,#2b748e 63.4%,#25838e 76%,#21908d 78.1%,#1fa088 79.8%,#26ad81 80.9%,#38b977 82%,#67cc5c 84.2%,#73d056 85.2%,#75d054 85.8%,#73d056 86.3%,#6ccd5a 86.9%,#3aba76 89.1%,#26ad81 90.2%,#1f9f88 91.3%,#287d8e 94.5%,#34608d 97.8%,#34608d 100%)"></i><i style="left:474px;background:linear-gradient(#26828e 0%,#228b8d 15.8%,#26818e 26.2%,#2f6c8e 37.2%,#31678e 43.7%,#3d4d8a 51.4%,#3e4c8a 54.6%,#38588c 57.9%,#2d708e 63.4%,#297b8e 72.1%,#26828e 76.5%,#21918c 78.7%,#20a386 80.3%,#2cb17e 81.4%,#5ac864 83.6%,#65cb5e 84.2%,#70cf57 85.2%,#73d056 85.8%,#70cf57 86.3%,#69cd5b 86.9%,#46c06f 88.5%,#26ad81 90.2%,#1f9f88 91.3%,#287d8e 94.5%,#34608d 97.8%,#34608d 100%)"></i><i style="left:480px;background:linear-gradient(#26828e 0%,#23888e 15.3%,#26818e 24%,#32648e 39.3%,#365c8d 44.3%,#3f4788 51.4%,#3f4889 54.6%,#39568c 58.5%,#306a8e 62.8%,#2a788e 71.6%,#26818e 76.5%,#218f8d 78.7%,#1fa187 80.3%,#2ab07f 81.4%,#5ac864 83.6%,#65cb5e 84.2%,#70cf57 85.2%,#73d056 85.8%,#70cf57 86.3%,#69cd5b 86.9%,#46c06f 88.5%,#26ad81 90.2%,#1f9f88 91.3%,#287d8e 94.5%,#34608d 97.8%,#34608d 100%)"></i><i style="left:486px;background:linear-gradient(#26828e 0%,#24868e 16.4%,#2a788e 26.8%,#3b518b 44.8%,#414287 51.4%,#404688 55.2%,#30698e 63.9%,#26818e 76.5%,#218f8d 78.7%,#1fa187 80.3%,#2ab07f 81.4%,#5ac864 83.6%,#6ece58 84.7%,#75d054 85.8%,#73d056 86.3%,#60ca60 87.4%,#2fb47c 89.6%,#21a685 90.7%,#1f988b 91.8%,#306a8e 96.7%,#34608d 97.8%,#34608d 100%)"></i><i style="left:492px;background:linear-gradient(#26828e 0%,#25848e 15.3%,#2a768e 25.7%,#3d4d8a 43.2%,#424086 48.6%,#424086 53.6%,#3c508b 58.5%,#31688e 65%,#26818e 76%,#228c8d 78.1%,#20a386 80.3%,#2cb17e 81.4%,#5cc863 83.6%,#6ece58 84.7%,#75d054 85.8%,#73d056 86.3%,#6ccd5a 86.9%,#3aba76 89.1%,#27ad81 90.2%,#1fa088 91.3%,#277e8e 94.5%,#34608d 97.8%,#34608d 100%)"></i><i style="left:498px;background:linear-gradient(#26828e 0%,#26828e 15.3%,#2c728e 25.7%,#3f4889 42.1%,#433d84 46.4%,#443b84 51.9%,#404688 56.3%,#32658e 65%,#25858e 76.5%,#1f948c 78.7%,#21a685 80.3%,#2eb37c 81.4%,#5ac864 83.6%,#65cb5e 84.2%,#70cf57 85.2%,#73d056 85.8%,#70cf57 86.3%,#60ca60 87.4%,#31b57b 89.6%,#22a884 90.7%,#1f9a8a 91.8%,#2d708e 96.2%,#34608d 97.8%,#34608d 100%)"></i><i style="left:504px;background:linear-gradient(#26828e 0%,#26818e 13.7%,#2c728e 23.5%,#404688 41%,#453781 45.9%,#443983 51.9%,#3f4889 57.4%,#33628d 64.5%,#24868e 76%,#20938c 78.1%,#1fa287 79.8%,#28ae80 80.9%,#3aba76 82%,#63cb5f 84.2%,#6ece58 85.2%,#70cf57 85.8%,#6ece58 86.3%,#54c568 88%,#29af7f 90.2%,#1fa287 91.3%,#238a8d 93.4%,#34608d 97.8%,#34608d 100%)"></i><i style="left:510px;background:linear-gradient(#26828e 0%,#277e8e 14.2%,#2f6b8e 25.1%,#414487 39.9%,#46337f 45.9%,#453781 51.4%,#414487 56.3%,#32648e 65.6%,#21908d 77%,#1fa188 79.2%,#25ab82 80.3%,#3bbb75 82%,#63cb5f 84.2%,#6ece58 85.2%,#6ccd5a 86.3%,#67cc5c 86.9%,#4ac16d 88.5%,#34b679 89.6%,#24aa83 90.7%,#1f9e89 91.8%,#297a8e 95.1%,#34608d 97.8%,#34608d 100%)"></i><i style="left:516px;background:linear-gradient(#26818e 0%,#277e8e 11.5%,#2e6e8e 22.4%,#414287 38.8%,#46327e 45.4%,#46337f 49.7%,#424186 55.7%,#31688e 66.7%,#25858e 73.2%,#20938c 77%,#20a386 79.2%,#2cb17e 80.9%,#46c06f 82.5%,#69cd5b 84.7%,#70cf57 85.8%,#69cd5b 86.9%,#3fbc73 89.1%,#2ab07f 90.2%,#20a486 91.3%,#20928c 92.9%,#32648e 97.3%,#34608d 97.8%,#34608d 100%)"></i><i style="left:522px;background:linear-gradient(#26818e 0%,#287c8e 11.5%,#306a8e 22.4%,#424186 37.7%,#46307e 45.4%,#46337f 49.7%,#414287 55.7%,#2d708e 67.8%,#23888e 72.7%,#1f9a8a 77.6%,#24aa83 79.8%,#35b779 81.4%,#69cd5b 84.7%,#70cf57 85.8%,#69cd5b 86.9%,#3fbc73 89.1%,#2cb17e 90.2%,#21a585 91.3%,#20938c 92.9%,#32648e 97.3%,#34608d 97.8%,#34608d 100%)"></i><i style="left:528px;background:linear-gradient(#27808e 0%,#297b8e 10.4%,#30698e 21.3%,#423f85 36.6%,#46307e 44.8%,#463480 50.3%,#3e4989 57.4%,#2c738e 67.8%,#228d8d 72.7%,#1fa088 78.1%,#25ab82 79.8%,#37b878 81.4%,#67cc5c 84.7%,#6ece58 85.8%,#67cc5c 86.9%,#56c667 88%,#2db27d 90.2%,#21a685 91.3%,#1f948c 92.9%,#32648e 97.3%,#34608d 97.8%,#34608d 100%)"></i><i style="left:534px;background:linear-gradient(#27808e 0%,#29798e 10.4%,#32648e 21.9%,#443a83 37.2%,#46307e 45.9%,#453882 51.4%,#355e8d 62.3%,#297a8e 68.3%,#21908d 72.1%,#1f9f88 77.6%,#25ac82 79.8%,#37b878 81.4%,#67cc5c 84.7%,#6ccd5a 85.2%,#6ccd5a 86.3%,#60ca60 87.4%,#2eb37c 90.2%,#22a785 91.3%,#1f948c 92.9%,#32648e 97.3%,#34608d 97.8%,#34608d 100%)"></i><i style="left:540px;background:linear-gradient(#277f8e 0%,#29798e 9.3%,#31668e 19.7%,#433e85 33.9%,#46337f 41%,#46337f 47.5%,#414487 54.6%,#2c718e 66.1%,#20938c 72.7%,#1fa188 77.6%,#26ad81 79.8%,#37b878 81.4%,#60ca60 84.2%,#6ccd5a 85.2%,#6ece58 85.8%,#67cc5c 86.9%,#58c765 88%,#2eb37c 90.2%,#1fa187 91.8%,#218f8d 93.4%,#34608d 97.8%,#34608d 100%)"></i><i style="left:546px;background:linear-gradient(#277e8e 0%,#297a8e 7.1%,#30698e 16.9%,#424086 31.7%,#463480 37.7%,#46337f 45.4%,#433e85 51.9%,#306a8e 63.9%,#20928c 72.1%,#20a386 78.1%,#26ad81 79.8%,#38b977 81.4%,#69cd5b 84.7%,#70cf57 85.8%,#70cf57 86.3%,#6ccd5a 86.9%,#42be71 89.1%,#2eb37c 90.2%,#1fa187 91.8%,#21908d 93.4%,#32648e 97.3%,#34608d 97.8%,#34608d 100%)"></i><i style="left:552px;background:linear-gradient(#287d8e 0%,#29798e 7.1%,#32648e 18%,#433d84 31.7%,#46327e 37.2%,#463480 44.8%,#423f85 51.4%,#2e6d8e 63.9%,#21918c 72.1%,#1fa187 77.6%,#27ad81 79.8%,#3aba76 81.4%,#6ccd5a 84.7%,#73d056 85.2%,#75d054 85.8%,#6ece58 86.9%,#38b977 89.6%,#27ad81 90.7%,#1e9c89 92.3%,#2b748e 95.6%,#34608d 97.8%,#34608d 100%)"></i><i style="left:558px;background:linear-gradient(#287c8e 0%,#2a788e 6.6%,#31678e 15.8%,#424086 29%,#46307e 36.1%,#46327e 41.5%,#423f85 50.3%,#2e6d8e 63.4%,#21918c 72.7%,#20a386 78.1%,#2db27d 80.3%,#56c667 83.1%,#67cc5c 84.2%,#73d056 85.2%,#75d054 85.8%,#6ece58 86.9%,#67cc5c 87.4%,#2fb47c 90.2%,#22a884 91.3%,#1e9c89 92.3%,#2b758e 95.6%,#34608d 97.8%,#34608d 100%)"></i><i style="left:564px;background:linear-gradient(#297b8e 0%,#2a778e 6.6%,#33638d 16.4%,#433e85 29%,#472f7d 35%,#472f7d 39.9%,#423f85 49.2%,#2f6c8e 62.3%,#21918c 73.2%,#1fa088 77.6%,#27ad81 79.8%,#34b679 80.9%,#6ccd5a 84.2%,#77d153 85.2%,#75d054 86.3%,#70cf57 86.9%,#5ec962 88%,#3aba76 89.6%,#22a884 91.3%,#1e9b8a 92.3%,#2d708e 96.2%,#355f8d 97.8%,#355f8d 100%)"></i><i style="left:570px;background:linear-gradient(#297a8e 0%,#2b758e 6.6%,#33628d 15.8%,#433d84 28.4%,#472e7c 34.4%,#472e7c 39.3%,#404588 50.3%,#2b748e 63.9%,#1f9a8a 77%,#22a884 79.2%,#34b679 80.9%,#67cc5c 83.6%,#77d153 84.7%,#7cd250 85.2%,#7ad151 86.3%,#75d054 86.9%,#54c568 88.5%,#3bbb75 89.6%,#28ae80 90.7%,#1fa187 91.8%,#218e8d 93.4%,#355f8d 97.8%,#355f8d 100%)"></i><i style="left:576px;background:linear-gradient(#29798e 0%,#2c728e 7.7%,#39568c 19.1%,#46307e 32.2%,#472c7a 36.6%,#463480 42.6%,#3d4e8a 51.9%,#297a8e 65%,#1f948c 76.5%,#21a685 79.2%,#34b679 80.9%,#69cd5b 83.6%,#81d34d 85.2%,#7fd34e 86.3%,#7ad151 86.9%,#48c16e 89.1%,#31b57b 90.2%,#22a884 91.3%,#1f9a8a 92.3%,#2e6f8e 96.2%,#34608d 97.8%,#34608d 100%)"></i><i style="left:582px;background:linear-gradient(#2a778e 0%,#2c728e 6.6%,#375b8d 16.9%,#453581 29.5%,#472a7a 35.5%,#472f7d 39.9%,#3d4d8a 50.8%,#297a8e 63.9%,#20928c 77%,#20a486 79.2%,#32b67a 80.9%,#6ccd5a 83.6%,#84d44b 85.2%,#86d549 85.8%,#84d44b 86.3%,#7cd250 86.9%,#65cb5e 88%,#3bbb75 89.6%,#28ae80 90.7%,#1fa187 91.8%,#218e8d 93.4%,#32648e 97.3%,#34608d 97.8%,#34608d 100%)"></i><i style="left:588px;background:linear-gradient(#2a768e 0%,#2d718e 6.6%,#38588c 17.5%,#46327e 30.6%,#472a7a 36.1%,#453781 42.6%,#365d8d 54.1%,#297a8e 62.8%,#24878e 71%,#218e8d 76.5%,#1f9f88 78.7%,#24aa83 79.8%,#32b67a 80.9%,#6ccd5a 83.6%,#84d44b 85.2%,#81d34d 86.3%,#7cd250 86.9%,#73d056 87.4%,#3fbc73 89.6%,#29af7f 90.7%,#1fa287 91.8%,#218f8d 93.4%,#32648e 97.3%,#34608d 97.8%,#34608d 100%)"></i><i style="left:594px;background:linear-gradient(#2b758e 0%,#2d718e 5.5%,#365c8d 15.3%,#453781 28.4%,#472c7a 35%,#46307e 39.3%,#3d4e8a 49.2%,#297b8e 61.7%,#24878e 68.9%,#228c8d 76%,#1e9b8a 78.1%,#21a685 79.2%,#2db27d 80.3%,#4ac16d 82%,#75d054 84.2%,#81d34d 85.2%,#84d44b 85.8%,#7cd250 86.9%,#5ac864 88.5%,#35b779 90.2%,#25ab82 91.3%,#1e9d89 92.3%,#2a768e 95.6%,#355f8d 97.8%,#355f8d 100%)"></i><i style="left:600px;background:linear-gradient(#2c738e 0%,#2e6e8e 6.6%,#3b518b 18.6%,#453882 28.4%,#472e7c 34.4%,#46307e 38.3%,#3f4788 46.4%,#297b8e 60.7%,#24868e 65.6%,#218f8d 75.4%,#1e9b8a 77.6%,#24aa83 79.2%,#3aba76 80.9%,#6ece58 83.6%,#86d549 85.2%,#86d549 86.3%,#77d153 87.4%,#42be71 89.6%,#2db27d 90.7%,#21a585 91.8%,#21918c 93.4%,#355f8d 97.8%,#355f8d 100%)"></i><i style="left:606px;background:linear-gradient(#2c728e 0%,#2e6e8e 5.5%,#38588c 15.8%,#443a83 27.3%,#46307e 34.4%,#453781 39.9%,#365c8d 51.4%,#24878e 63.4%,#1f948c 74.9%,#1fa287 77.6%,#2ab07f 79.2%,#44bf70 80.9%,#7fd34e 84.2%,#90d743 85.8%,#8ed645 86.3%,#7cd250 87.4%,#54c568 89.1%,#38b977 90.2%,#26ad81 91.3%,#1fa088 92.3%,#25838e 94.5%,#32648e 97.3%,#34608d 97.8%,#34608d 100%)"></i><i style="left:612px;background:linear-gradient(#2d718e 0%,#2f6b8e 6.6%,#3d4e8a 19.1%,#443983 28.4%,#463480 35.5%,#433d84 41%,#31678e 53.6%,#23888e 62.3%,#1f978b 72.1%,#1f9f88 75.4%,#25ac82 77.6%,#37b878 79.2%,#6ece58 82.5%,#98d83e 85.2%,#9bd93c 85.8%,#98d83e 86.3%,#86d549 87.4%,#48c16e 89.6%,#2eb37c 90.7%,#21a685 91.8%,#1f988b 92.9%,#306a8e 96.7%,#34608d 97.8%,#34608d 100%)"></i><i style="left:618px;background:linear-gradient(#2d708e 0%,#2f6b8e 5.5%,#3a548c 16.4%,#433e85 26.2%,#453882 35%,#424086 41%,#32648e 51.9%,#218f8d 63.4%,#1fa287 73.8%,#28ae80 76.5%,#3fbc73 78.7%,#7fd34e 82.5%,#a0da39 84.7%,#a5db36 85.2%,#a2da37 86.3%,#9bd93c 86.9%,#6ece58 88.5%,#3bbb75 90.2%,#25ac82 91.3%,#1e9d89 92.3%,#2a768e 95.6%,#355f8d 97.8%,#355f8d 100%)"></i><i style="left:624px;background:linear-gradient(#2e6e8e 0%,#2f6b8e 4.4%,#3c508b 18%,#423f85 26.8%,#433d84 35%,#414487 40.4%,#365d8d 49.2%,#20928c 63.4%,#20a486 71%,#27ad81 74.3%,#37b878 76.5%,#5cc863 79.2%,#aadc32 84.2%,#b2dd2d 85.2%,#b0dd2f 86.3%,#a8db34 86.9%,#9bd93c 87.4%,#77d153 88.5%,#3dbc74 90.2%,#25ab82 91.3%,#1fa287 91.8%,#228b8d 93.4%,#31678e 97.3%,#34608d 97.8%,#34608d 100%)"></i><i style="left:630px;background:linear-gradient(#2e6d8e 0%,#31678e 6.6%,#414287 25.7%,#424186 36.1%,#3e4a89 42.1%,#2e6d8e 53%,#1f998a 65%,#24aa83 70.5%,#2fb47c 73.8%,#40bd72 76%,#8bd646 80.9%,#b2dd2d 83.6%,#c0df25 84.7%,#c5e021 85.8%,#c0df25 86.3%,#a8db34 87.4%,#69cd5b 89.1%,#3fbc73 90.2%,#2eb37c 90.7%,#24aa83 91.3%,#1fa088 91.8%,#27808e 94%,#29798e 95.1%,#2c738e 96.7%,#33638d 97.8%,#33638d 100%)"></i><i style="left:636px;background:linear-gradient(#2f6c8e 0%,#31678e 5.5%,#404688 24%,#404588 35%,#3c508b 42.6%,#2e6f8e 53%,#1f9a8a 65%,#24aa83 68.9%,#3fbc73 74.3%,#58c765 76.5%,#95d840 80.3%,#bade28 83.6%,#d0e11c 85.2%,#d2e21b 85.8%,#d0e11c 86.3%,#b2dd2d 87.4%,#86d549 88.5%,#6ccd5a 89.1%,#3fbc73 90.2%,#2eb37c 90.7%,#22a884 91.3%,#1f9e89 91.8%,#297a8e 94%,#2c738e 95.1%,#277f8e 96.2%,#277f8e 96.7%,#32658e 97.8%,#32658e 100%)"></i><i style="left:642px;background:linear-gradient(#2f6b8e 0%,#31668e 5.5%,#3e4989 23%,#3f4889 32.8%,#3a538b 42.6%,#2d718e 53%,#1e9b8a 65%,#22a884 67.8%,#3aba76 72.1%,#50c46a 74.9%,#6ccd5a 77%,#9bd93c 79.8%,#b5de2b 83.1%,#d5e21a 85.2%,#d8e219 85.8%,#d5e21a 86.3%,#c8e020 86.9%,#a0da39 88%,#56c667 89.6%,#2eb37c 90.7%,#22a884 91.3%,#1f9e89 91.8%,#2a788e 94%,#2d708e 95.1%,#2b748e 95.6%,#25848e 96.2%,#23888e 96.7%,#33638d 97.8%,#33638d 100%)"></i><i style="left:648px;background:linear-gradient(#30698e 0%,#32658e 5.5%,#3e4c8a 22.4%,#3d4d8a 32.8%,#38588c 42.6%,#2f6c8e 50.8%,#1f968b 63.9%,#22a785 67.2%,#34b679 70.5%,#4cc26c 73.8%,#63cb5f 76%,#9bd93c 79.8%,#b5de2b 83.1%,#cde11d 85.2%,#cde11d 85.8%,#c8e020 86.3%,#bddf26 86.9%,#9bd93c 88%,#54c568 89.6%,#3fbc73 90.2%,#2eb37c 90.7%,#23a983 91.3%,#1f9f88 91.8%,#287d8e 94%,#2a768e 95.1%,#297a8e 96.2%,#2a788e 96.7%,#32648e 97.8%,#32648e 100%)"></i><i style="left:654px;background:linear-gradient(#31688e 0%,#32648e 5.5%,#3d4e8a 21.9%,#3c4f8a 30.1%,#375b8d 42.6%,#2d708e 51.4%,#1f968b 63.9%,#22a785 67.2%,#31b57b 69.9%,#4ec36b 73.8%,#6ccd5a 76.5%,#93d741 79.8%,#a2da37 82%,#b0dd2f 83.6%,#b8de29 84.2%,#c0df25 85.2%,#bade28 86.3%,#a2da37 87.4%,#67cc5c 89.1%,#3fbc73 90.2%,#2fb47c 90.7%,#25ab82 91.3%,#1fa187 91.8%,#23898e 93.4%,#297a8e 95.1%,#2d708e 96.7%,#34618d 97.8%,#34618d 100%)"></i><i style="left:660px;background:linear-gradient(#31678e 0%,#33638d 6%,#3c508b 20.8%,#3b518b 29%,#34618d 44.3%,#2a768e 53%,#1f998a 64.5%,#23a983 67.8%,#3fbc73 72.1%,#67cc5c 76.5%,#7fd34e 78.7%,#90d743 81.4%,#a0da39 83.6%,#b0dd2f 85.2%,#addc30 86.3%,#98d83e 87.4%,#63cb5f 89.1%,#3dbc74 90.2%,#25ac82 91.3%,#20a386 91.8%,#1f948c 92.9%,#297b8e 95.1%,#34608d 97.8%,#34608d 100%)"></i><i style="left:666px;background:linear-gradient(#31668e 0%,#33628d 6%,#3b528b 20.2%,#3a538b 27.9%,#355e8d 39.3%,#306a8e 47.5%,#1f978b 63.9%,#22a884 67.8%,#34b679 71%,#60ca60 76.5%,#70cf57 78.1%,#89d548 83.1%,#a2da37 85.2%,#a5db36 85.8%,#a2da37 86.3%,#9bd93c 86.9%,#6ece58 88.5%,#3bbb75 90.2%,#26ad81 91.3%,#1f9f88 92.3%,#287c8e 95.1%,#355f8d 97.8%,#355f8d 100%)"></i><i style="left:672px;background:linear-gradient(#31668e 0%,#34608d 7.1%,#3a538b 20.8%,#38588c 29%,#34608d 37.2%,#31688e 45.4%,#1f978b 63.9%,#22a785 67.8%,#31b57b 71%,#63cb5f 77.6%,#7cd250 83.1%,#86d549 84.2%,#90d743 84.7%,#9bd93c 85.8%,#93d741 86.9%,#67cc5c 88.5%,#3aba76 90.2%,#26ad81 91.3%,#1fa088 92.3%,#25838e 94.5%,#306a8e 96.7%,#34608d 97.8%,#34608d 100%)"></i><i style="left:678px;background:linear-gradient(#32658e 0%,#365d8d 9.3%,#3a548c 20.8%,#375b8d 29.5%,#33638d 37.7%,#2e6d8e 47%,#1f988b 64.5%,#22a785 68.3%,#34b679 72.1%,#5cc863 78.1%,#77d153 83.1%,#8ed645 85.2%,#90d743 85.8%,#89d548 86.9%,#73d056 88%,#46c06f 89.6%,#2eb37c 90.7%,#21a685 91.8%,#1f988b 92.9%,#306a8e 96.7%,#355f8d 97.8%,#355f8d 100%)"></i><i style="left:684px;background:linear-gradient(#32648e 0%,#39568c 18.6%,#375a8c 27.3%,#32658e 36.6%,#2e6e8e 45.9%,#1f968b 63.9%,#21a585 68.3%,#2fb47c 72.1%,#5cc863 79.2%,#6ccd5a 82%,#8bd646 85.8%,#84d44b 86.9%,#60ca60 88.5%,#38b977 90.2%,#25ac82 91.3%,#1f9f88 92.3%,#287d8e 95.1%,#355f8d 97.8%,#355f8d 100%)"></i><i style="left:690px;background:linear-gradient(#33638d 0%,#355e8d 7.7%,#38588c 18.6%,#365c8d 27.3%,#31688e 37.7%,#2d718e 46.4%,#1f968b 63.9%,#21a685 68.9%,#2db27d 72.1%,#5cc863 80.3%,#70cf57 83.1%,#84d44b 84.7%,#89d548 85.2%,#86d549 86.3%,#81d34d 86.9%,#5ec962 88.5%,#37b878 90.2%,#25ab82 91.3%,#1e9d89 92.3%,#2a768e 95.6%,#355f8d 97.8%,#355f8d 100%)"></i><i style="left:696px;background:linear-gradient(#33638d 0%,#38598c 16.9%,#365c8d 25.7%,#2f6b8e 38.8%,#2b748e 47.5%,#20928c 62.3%,#20a486 68.9%,#29af7f 72.1%,#54c568 79.8%,#63cb5f 82%,#89d548 85.2%,#8bd646 85.8%,#89d548 86.3%,#77d153 87.4%,#5cc863 88.5%,#34b679 90.2%,#24aa83 91.3%,#1e9c89 92.3%,#2b758e 95.6%,#34608d 97.8%,#34608d 100%)"></i><i style="left:702px;background:linear-gradient(#33628d 0%,#38598c 18.6%,#33638d 30.1%,#2a778e 48.1%,#1f958b 62.8%,#21a585 69.4%,#2fb47c 73.8%,#4ac16d 78.7%,#65cb5e 82.5%,#89d548 85.2%,#8bd646 85.8%,#89d548 86.3%,#77d153 87.4%,#3dbc74 89.6%,#29af7f 90.7%,#1fa287 91.8%,#218e8d 93.4%,#32648e 97.3%,#34608d 97.8%,#34608d 100%)"></i><i style="left:708px;background:linear-gradient(#34618d 0%,#375a8c 17.5%,#33628d 28.4%,#297a8e 48.1%,#1e9d89 65.6%,#25ab82 71%,#3aba76 76.5%,#56c667 80.9%,#69cd5b 83.1%,#84d44b 85.2%,#86d549 85.8%,#84d44b 86.3%,#73d056 87.4%,#3dbc74 89.6%,#29af7f 90.7%,#1fa187 91.8%,#218e8d 93.4%,#32648e 97.3%,#34608d 97.8%,#34608d 100%)"></i><i style="left:714px;background:linear-gradient(#34618d 0%,#375b8d 15.3%,#34608d 25.7%,#287d8e 48.6%,#1e9d89 65%,#25ab82 71%,#38b977 76.5%,#54c568 80.9%,#63cb5f 82.5%,#7fd34e 85.2%,#7fd34e 86.3%,#70cf57 87.4%,#3dbc74 89.6%,#29af7f 90.7%,#1fa187 91.8%,#218e8d 93.4%,#355f8d 97.8%,#355f8d 100%)"></i><i style="left:720px;background:linear-gradient(#34618d 0%,#375b8d 15.3%,#32648e 27.9%,#277f8e 48.1%,#1f9f88 65%,#26ad81 71.6%,#3fbc73 78.1%,#5ac864 82%,#7cd250 85.2%,#7cd250 86.3%,#6ece58 87.4%,#3bbb75 89.6%,#28ae80 90.7%,#1fa187 91.8%,#218e8d 93.4%,#355f8d 97.8%,#355f8d 100%)"></i><i style="left:726px;background:linear-gradient(#34618d 0%,#365c8d 13.1%,#33628d 25.1%,#26828e 49.2%,#1fa088 64.5%,#27ad81 71.6%,#3bbb75 77.6%,#4ec36b 80.9%,#67cc5c 83.6%,#7ad151 85.2%,#7fd34e 85.8%,#7cd250 86.3%,#6ccd5a 87.4%,#3aba76 89.6%,#28ae80 90.7%,#1fa187 91.8%,#218e8d 93.4%,#32648e 97.3%,#34608d 97.8%,#34608d 100%)"></i><i style="left:732px;background:linear-gradient(#34608d 0%,#365c8d 13.1%,#31668e 27.3%,#25858e 49.7%,#1f998a 60.7%,#24aa83 68.9%,#2fb47c 74.3%,#42be71 79.2%,#5ec962 83.1%,#7ad151 85.2%,#7cd250 86.3%,#6ccd5a 87.4%,#2fb47c 90.2%,#22a785 91.3%,#1f948c 92.9%,#32648e 97.3%,#34608d 97.8%,#34608d 100%)"></i><i style="left:738px;background:linear-gradient(#34618d 0%,#365d8d 12.6%,#31678e 27.3%,#23898e 50.8%,#1f998a 60.1%,#25ac82 69.4%,#3bbb75 77.6%,#4cc26c 80.9%,#5ec962 83.1%,#70cf57 84.7%,#77d153 85.8%,#70cf57 86.9%,#5ec962 88%,#3aba76 89.6%,#27ad81 90.7%,#1fa188 91.8%,#24878e 94%,#34608d 97.8%,#34608d 100%)"></i><i style="left:744px;background:linear-gradient(#34618d 0%,#355e8d 12.6%,#306a8e 28.4%,#23888e 49.2%,#1e9c89 60.7%,#27ad81 69.4%,#38b977 76.5%,#44bf70 79.8%,#58c765 82.5%,#70cf57 84.7%,#75d054 85.8%,#6ece58 86.9%,#5cc863 88%,#38b977 89.6%,#22a785 91.3%,#1f9a8a 92.3%,#2d708e 96.2%,#34608d 97.8%,#34608d 100%)"></i><i style="left:750px;background:linear-gradient(#34618d 0%,#355f8d 12.6%,#2f6b8e 27.9%,#24878e 48.1%,#20928c 55.7%,#21a585 63.9%,#34b679 74.9%,#44bf70 79.8%,#4ec36b 81.4%,#63cb5f 83.6%,#73d056 85.2%,#75d054 85.8%,#6ece58 86.9%,#50c46a 88.5%,#38b977 89.6%,#26ad81 90.7%,#1fa088 91.8%,#24878e 94%,#34608d 97.8%,#34608d 100%)"></i><i style="left:756px;background:linear-gradient(#33628d 0%,#34608d 11.5%,#306a8e 25.7%,#24868e 46.4%,#20928c 54.6%,#1e9d89 60.7%,#28ae80 68.9%,#3aba76 77%,#46c06f 80.3%,#5ac864 83.1%,#73d056 85.2%,#75d054 86.3%,#5ac864 88%,#2db27d 90.2%,#21a585 91.3%,#20928c 92.9%,#34608d 97.8%,#34608d 100%)"></i><i style="left:762px;background:linear-gradient(#33638d 0%,#34618d 12.6%,#2c718e 31.1%,#20928c 54.6%,#1e9b8a 60.1%,#27ad81 68.3%,#3aba76 77%,#46c06f 80.3%,#54c568 82.5%,#77d153 85.8%,#75d054 86.3%,#5ac864 88%,#35b779 89.6%,#25ab82 90.7%,#1f9f88 91.8%,#27808e 94.5%,#34608d 97.8%,#34608d 100%)"></i><i style="left:768px;background:linear-gradient(#32648e 0%,#33638d 13.7%,#2b748e 32.2%,#21918c 54.1%,#1f978b 59%,#22a785 65%,#37b878 76%,#42be71 79.8%,#50c46a 82%,#70cf57 85.2%,#73d056 85.8%,#6ccd5a 86.9%,#40bd72 89.1%,#2cb17e 90.2%,#20a486 91.3%,#20928c 92.9%,#34608d 97.8%,#34608d 100%)"></i><i style="left:774px;background:linear-gradient(#32658e 0%,#32658e 14.8%,#287c8e 37.7%,#218f8d 53%,#20938c 57.9%,#21a585 64.5%,#34b679 74.9%,#42be71 79.8%,#50c46a 82%,#6ccd5a 84.7%,#70cf57 85.8%,#69cd5b 86.9%,#4cc26c 88.5%,#35b779 89.6%,#25ab82 90.7%,#1f9e89 91.8%,#297a8e 95.1%,#34608d 97.8%,#34608d 100%)"></i><i style="left:780px;background:linear-gradient(#31678e 0%,#31678e 15.3%,#26828e 42.6%,#218f8d 54.1%,#1f958b 59%,#22a785 65.6%,#38b977 77.6%,#44bf70 80.3%,#5ec962 83.6%,#6ece58 85.2%,#70cf57 85.8%,#69cd5b 86.9%,#3fbc73 89.1%,#2ab07f 90.2%,#20a386 91.3%,#21918c 92.9%,#34608d 97.8%,#34608d 100%)"></i><i style="left:786px;background:linear-gradient(#31688e 0%,#30698e 15.3%,#26828e 42.1%,#20928c 57.9%,#20a386 64.5%,#2db27d 72.1%,#3aba76 78.1%,#4ec36b 82%,#63cb5f 84.2%,#73d056 85.8%,#70cf57 86.3%,#56c667 88%,#32b67a 89.6%,#23a983 90.7%,#1e9c89 91.8%,#2b748e 95.6%,#34608d 97.8%,#34608d 100%)"></i><i style="left:792px;background:linear-gradient(#306a8e 0%,#2f6b8e 15.3%,#24878e 46.4%,#20928c 57.9%,#20a486 65%,#31b57b 74.9%,#3fbc73 79.8%,#5ac864 83.6%,#69cd5b 84.7%,#73d056 85.8%,#70cf57 86.3%,#60ca60 87.4%,#31b57b 89.6%,#22a884 90.7%,#1e9b8a 91.8%,#2b748e 95.6%,#34608d 97.8%,#34608d 100%)"></i><i style="left:798px;background:linear-gradient(#2f6b8e 0%,#2f6c8e 13.7%,#20928c 58.5%,#20a486 65.6%,#2fb47c 74.9%,#3bbb75 79.2%,#48c16e 81.4%,#5cc863 83.6%,#6ccd5a 85.2%,#6ece58 85.8%,#67cc5c 86.9%,#48c16e 88.5%,#31b57b 89.6%,#22a785 90.7%,#1e9b8a 91.8%,#2b748e 95.6%,#34608d 97.8%,#34608d 100%)"></i><i style="left:804px;background:linear-gradient(#2e6d8e 0%,#2e6e8e 13.7%,#21918c 57.9%,#20a486 66.1%,#31b57b 76.5%,#40bd72 80.3%,#52c569 82.5%,#6ccd5a 85.2%,#69cd5b 86.3%,#65cb5e 86.9%,#46c06f 88.5%,#2fb47c 89.6%,#22a785 90.7%,#1f9a8a 91.8%,#2b748e 95.6%,#34608d 97.8%,#34608d 100%)"></i><i style="left:810px;background:linear-gradient(#2e6f8e 0%,#2d708e 13.7%,#218f8d 56.8%,#1fa287 66.1%,#2eb37c 76%,#3aba76 79.2%,#42be71 80.9%,#56c667 83.1%,#6ccd5a 85.2%,#69cd5b 86.3%,#65cb5e 86.9%,#46c06f 88.5%,#2fb47c 89.6%,#21a685 90.7%,#20938c 92.3%,#34608d 97.8%,#34608d 100%)"></i><i style="left:816px;background:linear-gradient(#2d708e 0%,#2c738e 18%,#228b8d 53%,#1f978b 62.3%,#23a983 70.5%,#2fb47c 77%,#40bd72 80.9%,#54c568 83.1%,#6ccd5a 85.2%,#6ece58 85.8%,#6ccd5a 86.3%,#52c569 88%,#2eb37c 89.6%,#21a585 90.7%,#20928c 92.3%,#34608d 97.8%,#34608d 100%)"></i><i style="left:822px;background:linear-gradient(#2c718e 0%,#2b758e 18%,#23898e 51.4%,#1f9a8a 64.5%,#25ac82 73.8%,#31b57b 78.1%,#3fbc73 80.9%,#52c569 83.1%,#6ccd5a 85.2%,#6ece58 85.8%,#6ccd5a 86.3%,#5cc863 87.4%,#2db27d 89.6%,#21a585 90.7%,#20928c 92.3%,#34608d 97.8%,#34608d 100%)"></i><i style="left:828px;background:linear-gradient(#2c738e 0%,#2a768e 16.9%,#24878e 50.8%,#20928c 60.1%,#1f9a8a 66.1%,#25ab82 74.3%,#31b57b 78.7%,#46c06f 82%,#67cc5c 85.2%,#69cd5b 85.8%,#67cc5c 86.3%,#4ec36b 88%,#2db27d 89.6%,#21a585 90.7%,#20928c 92.3%,#34608d 97.8%,#34608d 100%)"></i><i style="left:834px;background:linear-gradient(#2b748e 0%,#287d8e 30.1%,#25858e 49.7%,#21918c 59%,#1f978b 66.7%,#22a884 74.3%,#2db27d 78.1%,#3bbb75 80.9%,#60ca60 84.7%,#65cb5e 85.8%,#5ec962 86.9%,#37b878 89.1%,#25ac82 90.2%,#1fa088 91.3%,#277e8e 94.5%,#34608d 97.8%,#34608d 100%)"></i><i style="left:840px;background:linear-gradient(#2a768e 0%,#277e8e 31.1%,#25838e 49.7%,#218f8d 58.5%,#20938c 66.7%,#21a685 74.3%,#2ab07f 78.1%,#3dbc74 81.4%,#60ca60 85.2%,#63cb5f 85.8%,#5cc863 86.9%,#37b878 89.1%,#25ac82 90.2%,#1f9f88 91.3%,#29798e 95.1%,#34608d 97.8%,#34608d 100%)"></i><i style="left:846px;background:linear-gradient(#2a778e 0%,#27808e 42.1%,#25838e 50.8%,#218e8d 59.6%,#21918c 66.7%,#20a386 74.3%,#29af7f 78.7%,#42be71 82.5%,#5ec962 85.2%,#63cb5f 85.8%,#5cc863 86.9%,#35b779 89.1%,#25ab82 90.2%,#1f998a 91.8%,#2e6f8e 96.2%,#34608d 97.8%,#34608d 100%)"></i><i style="left:852px;background:linear-gradient(#2a788e 0%,#27808e 42.1%,#26818e 50.3%,#228c8d 60.1%,#21908d 67.2%,#20a386 75.4%,#29af7f 79.2%,#3bbb75 82%,#4ac16d 83.6%,#5cc863 85.2%,#60ca60 85.8%,#5ac864 86.9%,#34b679 89.1%,#24aa83 90.2%,#1f988b 91.8%,#306a8e 96.7%,#34608d 97.8%,#34608d 100%)"></i><i style="left:858px;background:linear-gradient(#29798e 0%,#277f8e 41.5%,#277f8e 50.3%,#238a8d 60.1%,#21908d 67.8%,#1fa287 76%,#27ad81 79.2%,#34b679 81.4%,#4ac16d 83.6%,#5ac864 85.8%,#5ac864 86.3%,#4ec36b 87.4%,#29af7f 89.6%,#20a386 90.7%,#20928c 92.3%,#34608d 97.8%,#34608d 100%)"></i><i style="left:864px;background:linear-gradient(#297b8e 0%,#277f8e 40.4%,#297b8e 49.2%,#23888e 60.7%,#21908d 67.8%,#20a486 77.6%,#29af7f 80.3%,#40bd72 83.1%,#56c667 85.2%,#56c667 86.3%,#4ac16d 87.4%,#28ae80 89.6%,#1fa287 90.7%,#228c8d 92.9%,#34608d 97.8%,#34608d 100%)"></i><i style="left:870px;background:linear-gradient(#297b8e 0%,#287d8e 25.7%,#287d8e 42.1%,#29798e 49.2%,#23898e 63.4%,#1f9e89 76.5%,#24aa83 79.8%,#32b67a 82%,#50c46a 84.7%,#54c568 85.8%,#48c16e 87.4%,#27ad81 89.6%,#1fa187 90.7%,#24868e 93.4%,#34608d 97.8%,#34608d 100%)"></i><i style="left:876px;background:linear-gradient(#287c8e 0%,#277e8e 34.4%,#287c8e 42.1%,#2a778e 49.2%,#228c8d 66.7%,#1e9d89 77.6%,#24aa83 80.3%,#35b779 82.5%,#52c569 85.2%,#54c568 85.8%,#4ec36b 86.9%,#25ac82 89.6%,#1fa088 90.7%,#26818e 94%,#34608d 97.8%,#34608d 100%)"></i><i style="left:882px;background:linear-gradient(#287d8e 0%,#287c8e 25.1%,#287c8e 41%,#2b758e 49.2%,#218f8d 69.4%,#1f978b 77%,#21a685 80.3%,#31b57b 82.5%,#50c46a 85.2%,#52c569 85.8%,#4cc26c 86.9%,#29af7f 89.1%,#20a386 90.2%,#228d8d 92.3%,#306a8e 96.7%,#34608d 97.8%,#34608d 100%)"></i><i style="left:888px;background:linear-gradient(#287d8e 0%,#287c8e 21.3%,#287c8e 35.5%,#297a8e 41.5%,#2c738e 49.2%,#218f8d 73.2%,#1f948c 77.6%,#1fa287 80.3%,#28ae80 82%,#48c16e 84.7%,#4ec36b 85.8%,#48c16e 86.9%,#28ae80 89.1%,#1fa287 90.2%,#228c8d 92.3%,#306a8e 96.7%,#34608d 97.8%,#34608d 100%)"></i><i style="left:894px;background:linear-gradient(#277e8e 0%,#287c8e 19.7%,#29798e 32.2%,#29798e 41%,#2c718e 48.6%,#29798e 56.3%,#228b8d 73.2%,#21908d 77.6%,#1f9a8a 79.8%,#22a884 81.4%,#32b67a 83.1%,#46c06f 84.7%,#4ac16d 85.8%,#44bf70 86.9%,#26ad81 89.1%,#1fa188 90.2%,#24868e 92.9%,#306a8e 96.7%,#34608d 97.8%,#34608d 100%)"></i><i style="left:900px;background:linear-gradient(#277e8e 0%,#287c8e 17.5%,#2a768e 30.1%,#2a788e 39.9%,#2e6f8e 48.6%,#2a788e 57.4%,#24878e 73.2%,#228b8d 77.6%,#1f968b 79.8%,#21a585 81.4%,#38b977 83.6%,#46c06f 84.7%,#4ac16d 85.8%,#44bf70 86.9%,#25ac82 89.1%,#1f9f88 90.2%,#23898e 92.3%,#306a8e 96.7%,#34608d 97.8%,#34608d 100%)"></i><i style="left:906px;background:linear-gradient(#277e8e 0%,#297b8e 17.5%,#2b748e 30.1%,#2b748e 41%,#2e6d8e 48.6%,#2c738e 56.3%,#25848e 73.2%,#23888e 77.6%,#20938c 79.8%,#20a486 81.4%,#31b57b 83.1%,#46c06f 84.7%,#4cc26c 85.2%,#4ac16d 86.3%,#3dbc74 87.4%,#24aa83 89.1%,#1e9d89 90.2%,#23888e 92.3%,#2d708e 96.2%,#34608d 97.8%,#34608d 100%)"></i><i style="left:912px;background:linear-gradient(#277e8e 0%,#297a8e 16.9%,#2c718e 30.1%,#2d718e 41%,#30698e 49.2%,#26828e 74.3%,#23898e 78.1%,#1f988b 80.3%,#24aa83 82%,#40bd72 84.2%,#4cc26c 85.2%,#4cc26c 86.3%,#3dbc74 87.4%,#24aa83 89.1%,#1e9c89 90.2%,#24878e 92.3%,#2d708e 96.2%,#34608d 97.8%,#34608d 100%)"></i><i style="left:918px;background:linear-gradient(#277e8e 0%,#29798e 16.4%,#2e6f8e 30.1%,#2e6d8e 41%,#31668e 49.2%,#2d708e 59%,#24868e 77%,#1f948c 79.8%,#21a585 81.4%,#32b67a 83.1%,#4cc26c 85.2%,#4ac16d 86.3%,#3dbc74 87.4%,#25ab82 89.1%,#1f9e89 90.2%,#23898e 92.3%,#306a8e 96.7%,#34608d 97.8%,#34608d 100%)"></i><i style="left:924px;background:linear-gradient(#277e8e 0%,#2a788e 15.8%,#2f6b8e 30.1%,#31688e 41.5%,#33628d 50.3%,#287d8e 71.6%,#24878e 77%,#1f968b 79.8%,#21a685 81.4%,#3aba76 83.6%,#4ac16d 85.2%,#4cc26c 85.8%,#44bf70 86.9%,#26ad81 89.1%,#1fa088 90.2%,#24868e 92.9%,#306a8e 96.7%,#34608d 97.8%,#34608d 100%)"></i><i style="left:930px;background:linear-gradient(#277e8e 0%,#2a778e 15.3%,#31678e 30.1%,#33638d 42.1%,#355e8d 50.3%,#2b748e 67.8%,#23888e 76.5%,#1f998a 79.8%,#22a785 81.4%,#2cb17e 82.5%,#48c16e 84.7%,#4cc26c 85.8%,#44bf70 86.9%,#37b878 88%,#22a884 89.6%,#1e9c89 90.7%,#27808e 94%,#34608d 97.8%,#34608d 100%)"></i><i style="left:936px;background:linear-gradient(#287d8e 0%,#2a778e 13.7%,#33628d 31.1%,#365c8d 44.8%,#375b8d 51.9%,#2c718e 67.8%,#228c8d 77%,#1f9e89 80.3%,#25ac82 82%,#48c16e 84.7%,#4ec36b 85.8%,#46c06f 86.9%,#38b977 88%,#23a983 89.6%,#1e9d89 90.7%,#287c8e 94.5%,#34608d 97.8%,#34608d 100%)"></i><i style="left:942px;background:linear-gradient(#287d8e 0%,#2b748e 15.3%,#355e8d 30.6%,#39558c 50.8%,#30698e 64.5%,#287d8e 72.1%,#1f988b 79.2%,#21a685 81.4%,#29af7f 82.5%,#46c06f 84.7%,#4ec36b 85.8%,#48c16e 86.9%,#24aa83 89.6%,#1f9e89 90.7%,#287d8e 94.5%,#34608d 97.8%,#34608d 100%)"></i><i style="left:948px;background:linear-gradient(#287c8e 0%,#2b748e 13.7%,#38598c 31.1%,#3c508b 49.7%,#34618d 61.7%,#2c728e 69.4%,#1e9b8a 79.8%,#22a884 82%,#2cb17e 83.1%,#42be71 84.7%,#4ac16d 85.8%,#46c06f 86.9%,#25ab82 89.6%,#1f9f88 90.7%,#287d8e 94.5%,#34608d 97.8%,#34608d 100%)"></i><i style="left:954px;background:linear-gradient(#297b8e 0%,#2c738e 13.1%,#33628d 23.5%,#3a538b 31.7%,#3e4a89 48.1%,#39568c 57.9%,#2f6c8e 67.8%,#1f998a 79.2%,#21a685 82%,#29af7f 83.1%,#44bf70 85.2%,#44bf70 86.9%,#2ab07f 89.1%,#1fa088 90.7%,#287d8e 94.5%,#34608d 97.8%,#34608d 100%)"></i><i style="left:960px;background:linear-gradient(#297b8e 0%,#2c728e 12.6%,#32648e 21.3%,#3c4f8a 30.6%,#3f4788 41.5%,#3f4788 50.3%,#365d8d 62.8%,#2d718e 69.4%,#1f958b 77.6%,#20a486 81.4%,#2cb17e 83.1%,#46c06f 85.2%,#48c16e 86.3%,#40bd72 87.4%,#25ab82 89.6%,#1f9a8a 91.3%,#2e6f8e 96.2%,#34608d 97.8%,#34608d 100%)"></i><i style="left:966px;background:linear-gradient(#297a8e 0%,#2d718e 13.1%,#34608d 21.9%,#3e4a89 30.6%,#424086 39.9%,#424086 48.6%,#39568c 61.2%,#2e6e8e 68.9%,#1f948c 77%,#20a386 80.9%,#29af7f 82.5%,#44bf70 84.7%,#4cc26c 85.8%,#48c16e 86.9%,#2ab07f 89.1%,#1fa088 90.7%,#26828e 94%,#34608d 97.8%,#34608d 100%)"></i><i style="left:972px;background:linear-gradient(#29798e 0%,#2c718e 10.9%,#33638d 19.7%,#404588 30.6%,#443983 39.9%,#443b84 48.6%,#38588c 62.3%,#2c718e 69.9%,#20938c 77%,#21a585 80.9%,#2db27d 82.5%,#4ac16d 84.7%,#50c46a 86.3%,#32b67a 88.5%,#20a486 90.2%,#20938c 91.8%,#306a8e 96.7%,#34608d 97.8%,#34608d 100%)"></i><i style="left:978px;background:linear-gradient(#2a788e 0%,#2c718e 9.8%,#33628d 19.1%,#433d84 31.7%,#46327e 39.9%,#463480 47.5%,#38588c 62.8%,#2b758e 71%,#1e9b8a 79.2%,#21a685 80.9%,#2fb47c 82.5%,#4cc26c 84.7%,#50c46a 85.8%,#4ac16d 86.9%,#2ab07f 89.1%,#20a486 90.2%,#20938c 91.8%,#34608d 97.8%,#34608d 100%)"></i><i style="left:984px;background:linear-gradient(#2a778e 0%,#2d718e 9.3%,#34608d 19.1%,#443a83 30.6%,#472d7b 37.2%,#472c7a 44.8%,#3c508b 60.7%,#297b8e 72.7%,#1f988b 79.2%,#20a486 80.9%,#28ae80 82%,#46c06f 84.2%,#50c46a 85.2%,#4ac16d 86.9%,#2ab07f 89.1%,#20a486 90.2%,#20928c 91.8%,#34608d 97.8%,#34608d 100%)"></i><i style="left:990px;background:linear-gradient(#2a768e 0%,#2c718e 7.1%,#33628d 17.5%,#433e85 27.9%,#472d7b 33.9%,#482576 39.3%,#482878 45.9%,#414487 56.3%,#31668e 67.2%,#21918c 78.7%,#1fa287 80.9%,#2eb37c 82.5%,#4ec36b 84.7%,#52c569 85.8%,#4ac16d 86.9%,#29af7f 89.1%,#20a386 90.2%,#228d8d 92.3%,#34608d 97.8%,#34608d 100%)"></i><i style="left:996px;background:linear-gradient(#2b758e 0%,#2d718e 7.1%,#355e8d 18%,#423f85 26.2%,#482677 33.9%,#482071 40.4%,#482576 45.9%,#414287 55.7%,#365d8d 64.5%,#228c8d 78.7%,#1fa188 80.9%,#26ad81 82%,#48c16e 84.2%,#54c568 85.2%,#52c569 86.3%,#3bbb75 88%,#29af7f 89.1%,#1fa187 90.2%,#228b8d 92.3%,#2d708e 96.2%,#34608d 97.8%,#34608d 100%)"></i><i style="left:1002px;background:linear-gradient(#2b748e 0%,#2d708e 7.1%,#375a8c 18.6%,#463480 28.4%,#481f70 35.5%,#481f70 42.6%,#482979 47.5%,#414287 55.7%,#34608d 65%,#2a778e 72.7%,#25848e 77.6%,#20938c 79.8%,#21a585 81.4%,#2db27d 82.5%,#50c46a 84.7%,#56c667 85.8%,#4ec36b 86.9%,#31b57b 88.5%,#22a884 89.6%,#1e9b8a 90.7%,#24868e 92.9%,#2d708e 96.2%,#34608d 97.8%,#34608d 100%)"></i><i style="left:1008px;background:linear-gradient(#2c738e 0%,#2e6f8e 6.6%,#355f8d 15.8%,#404688 23%,#482979 30.6%,#481b6d 36.6%,#481f70 42.6%,#472f7d 49.2%,#3e4989 57.9%,#34608d 64.5%,#2c728e 70.5%,#25838e 77.6%,#20938c 79.8%,#21a585 81.4%,#2db27d 82.5%,#48c16e 84.2%,#54c568 85.8%,#4cc26c 86.9%,#29af7f 89.1%,#1fa287 90.2%,#228b8d 92.3%,#306a8e 96.7%,#34608d 97.8%,#34608d 100%)"></i><i style="left:1014px;background:linear-gradient(#2c728e 0%,#2e6e8e 6.6%,#375a8c 16.9%,#453882 25.7%,#481b6d 35.5%,#481c6e 39.9%,#472a7a 47%,#414287 54.6%,#38588c 61.7%,#2e6f8e 67.8%,#26828e 77%,#218f8d 79.2%,#1fa088 80.9%,#26ad81 82%,#48c16e 84.2%,#54c568 85.8%,#4cc26c 86.9%,#2ab07f 89.1%,#20a386 90.2%,#228c8d 92.3%,#34608d 97.8%,#34608d 100%)"></i><i style="left:1020px;background:linear-gradient(#2c728e 0%,#2e6d8e 6.6%,#375b8d 15.8%,#443a83 24.6%,#481f70 33.9%,#481b6d 37.2%,#482979 45.4%,#404588 54.1%,#38598c 61.2%,#2c738e 68.3%,#25838e 77%,#21908d 79.2%,#1fa188 80.9%,#27ad81 82%,#48c16e 84.2%,#54c568 85.2%,#56c667 85.8%,#4ec36b 86.9%,#2cb17e 89.1%,#20a486 90.2%,#20928c 91.8%,#34608d 97.8%,#34608d 100%)"></i><i style="left:1026px;background:linear-gradient(#2c718e 0%,#2e6d8e 5.5%,#38588c 16.4%,#463480 26.2%,#482071 35%,#482071 38.3%,#472f7d 45.9%,#3d4d8a 55.7%,#34608d 61.7%,#2a768e 67.8%,#24878e 77%,#1f948c 79.2%,#20a386 80.9%,#31b57b 82.5%,#4cc26c 84.2%,#58c765 85.2%,#58c765 86.3%,#4ac16d 87.4%,#2db27d 89.1%,#21a585 90.2%,#20928c 91.8%,#34608d 97.8%,#34608d 100%)"></i><i style="left:1032px;background:linear-gradient(#2d718e 0%,#2f6b8e 6.6%,#38588c 15.8%,#46337f 26.8%,#482576 35%,#482677 39.3%,#443983 47.5%,#375b8d 59%,#297a8e 67.2%,#228c8d 77%,#1fa287 80.3%,#26ad81 81.4%,#3dbc74 83.1%,#54c568 84.7%,#5ac864 85.2%,#5cc863 85.8%,#5ac864 86.3%,#4cc26c 87.4%,#2eb37c 89.1%,#21a685 90.2%,#20938c 91.8%,#34608d 97.8%,#34608d 100%)"></i><i style="left:1038px;background:linear-gradient(#2d708e 0%,#306a8e 6.6%,#38598c 15.3%,#443983 25.1%,#472e7c 31.1%,#472c7a 38.3%,#423f85 47.5%,#32648e 60.1%,#287d8e 66.1%,#21918c 76.5%,#1f9f88 79.2%,#25ab82 80.9%,#37b878 82.5%,#54c568 84.7%,#5ac864 85.8%,#54c568 86.9%,#31b57b 89.1%,#22a884 90.2%,#1f968b 91.8%,#32658e 97.3%,#34608d 97.8%,#34608d 100%)"></i><i style="left:1044px;background:linear-gradient(#2e6f8e 0%,#2f6c8e 4.4%,#375a8c 14.8%,#443983 25.7%,#46327e 33.9%,#453781 41%,#3e4989 49.2%,#31668e 59%,#25838e 66.7%,#1f968b 76.5%,#22a785 79.8%,#2db27d 81.4%,#54c568 84.7%,#58c765 85.2%,#58c765 86.3%,#4ec36b 87.4%,#2ab07f 89.6%,#1f9f88 91.3%,#277f8e 94.5%,#34608d 97.8%,#34608d 100%)"></i><i style="left:1050px;background:linear-gradient(#2e6f8e 0%,#306a8e 5.5%,#39558c 16.4%,#424086 24%,#443983 29.5%,#433d84 39.9%,#3c508b 49.7%,#2e6d8e 59.6%,#23898e 66.7%,#1e9c89 76%,#23a983 79.2%,#31b57b 81.4%,#58c765 85.2%,#5ac864 85.8%,#56c667 86.9%,#3fbc73 88.5%,#26ad81 90.2%,#1e9c89 91.8%,#2d708e 96.2%,#34608d 97.8%,#34608d 100%)"></i><i style="left:1056px;background:linear-gradient(#2e6e8e 0%,#31688e 6.6%,#3a548c 16.9%,#414287 24%,#423f85 31.1%,#3f4889 43.2%,#34608d 54.1%,#287d8e 62.3%,#218e8d 66.7%,#1f9e89 74.3%,#23a983 78.1%,#31b57b 80.9%,#5ec962 85.8%,#58c765 86.9%,#40bd72 88.5%,#28ae80 90.2%,#1f9e89 91.8%,#26818e 94.5%,#34608d 97.8%,#34608d 100%)"></i><i style="left:1062px;background:linear-gradient(#2e6e8e 0%,#30698e 5.5%,#3c508b 19.1%,#404588 25.7%,#3f4788 32.2%,#3b518b 44.8%,#30698e 55.7%,#25858e 63.4%,#20928c 66.7%,#1e9c89 72.1%,#26ad81 77.6%,#37b878 80.9%,#4cc26c 83.6%,#5ec962 85.2%,#60ca60 86.3%,#4ec36b 88%,#31b57b 89.6%,#20a486 91.3%,#1f948c 92.9%,#32648e 97.3%,#34608d 97.8%,#34608d 100%)"></i><i style="left:1068px;background:linear-gradient(#2e6d8e 0%,#31678e 6.6%,#3e4c8a 23.5%,#3d4d8a 30.6%,#3b528b 37.7%,#375a8c 47%,#2c718e 57.4%,#20928c 66.7%,#1e9d89 71.6%,#28ae80 76.5%,#35b779 79.8%,#48c16e 82.5%,#63cb5f 85.2%,#65cb5e 85.8%,#5ec962 86.9%,#46c06f 88.5%,#2ab07f 90.2%,#1fa088 91.8%,#26828e 94.5%,#34608d 97.8%,#34608d 100%)"></i><i style="left:1074px;background:linear-gradient(#2e6d8e 0%,#31688e 5.5%,#3c508b 23.5%,#3b518b 29%,#375a8c 36.1%,#365c8d 44.8%,#2e6f8e 55.2%,#21918c 66.7%,#1f9a8a 70.5%,#23a983 73.8%,#37b878 79.2%,#4ec36b 82.5%,#67cc5c 85.2%,#69cd5b 85.8%,#63cb5f 86.9%,#52c569 88%,#2cb17e 90.2%,#21a585 91.3%,#20928c 92.9%,#34608d 97.8%,#34608d 100%)"></i><i style="left:1080px;background:linear-gradient(#2e6d8e 0%,#31688e 5.5%,#3a548c 22.4%,#38588c 29%,#34608d 35%,#34618d 45.4%,#2b748e 56.3%,#228c8d 65%,#1f958b 69.4%,#22a785 73.2%,#35b779 78.1%,#4cc26c 82%,#6ece58 85.2%,#6ccd5a 86.3%,#60ca60 87.4%,#2ab07f 90.2%,#20a386 91.3%,#20928c 92.9%,#34608d 97.8%,#34608d 100%)"></i><i style="left:1086px;background:linear-gradient(#2f6c8e 0%,#31688e 5.5%,#38598c 20.2%,#375b8d 27.3%,#31668e 35%,#31668e 45.9%,#297b8e 57.9%,#228d8d 65.6%,#20928c 68.9%,#20a486 72.7%,#31b57b 77%,#4ac16d 81.4%,#5ec962 83.6%,#6ece58 84.7%,#75d054 85.8%,#6ece58 86.9%,#3fbc73 89.1%,#29af7f 90.2%,#1fa287 91.3%,#238a8d 93.4%,#34608d 97.8%,#34608d 100%)"></i><i style="left:1092px;background:linear-gradient(#2f6c8e 0%,#32658e 7.7%,#365c8d 19.7%,#34608d 27.9%,#2f6b8e 35%,#2f6b8e 47%,#26818e 59.6%,#1f958b 69.4%,#22a785 73.2%,#3bbb75 79.2%,#54c568 82.5%,#5ec962 83.6%,#75d054 85.2%,#77d153 85.8%,#75d054 86.3%,#6ece58 86.9%,#4ac16d 88.5%,#31b57b 89.6%,#22a884 90.7%,#1f9a8a 91.8%,#2b748e 95.6%,#34608d 97.8%,#34608d 100%)"></i><i style="left:1098px;background:linear-gradient(#2f6c8e 0%,#32658e 7.7%,#355f8d 16.9%,#33628d 26.2%,#2e6e8e 35%,#2e6e8e 47%,#20928c 67.8%,#20a486 72.7%,#32b67a 77.6%,#44bf70 80.9%,#5ec962 83.6%,#70cf57 85.2%,#6ece58 86.3%,#69cd5b 86.9%,#3bbb75 89.1%,#27ad81 90.2%,#1fa188 91.3%,#26828e 94%,#34608d 97.8%,#34608d 100%)"></i><i style="left:1104px;background:linear-gradient(#2f6c8e 0%,#31688e 5.5%,#34608d 15.8%,#31688e 27.9%,#2d718e 35.5%,#2d718e 47%,#23898e 62.8%,#1f9a8a 69.9%,#24aa83 74.3%,#3fbc73 80.3%,#50c46a 82.5%,#67cc5c 84.7%,#69cd5b 85.8%,#63cb5f 86.9%,#44bf70 88.5%,#2eb37c 89.6%,#21a685 90.7%,#1f998a 91.8%,#2e6f8e 96.2%,#34608d 97.8%,#34608d 100%)"></i><i style="left:1110px;background:linear-gradient(#2e6d8e 0%,#31678e 6.6%,#33628d 14.8%,#306a8e 26.8%,#2c728e 35.5%,#2c738e 47%,#218f8d 65%,#1fa188 71.6%,#2ab07f 76.5%,#40bd72 80.9%,#56c667 83.6%,#65cb5e 85.2%,#65cb5e 86.3%,#4cc26c 88%,#25ab82 90.2%,#1f9e89 91.3%,#287d8e 94.5%,#34608d 97.8%,#34608d 100%)"></i><i style="left:1116px;background:linear-gradient(#2e6d8e 0%,#33638d 13.7%,#306a8e 24.6%,#2b748e 35.5%,#2b758e 47%,#20928c 66.7%,#20a486 72.7%,#2eb37c 77.6%,#40bd72 81.4%,#56c667 84.2%,#63cb5f 85.2%,#65cb5e 85.8%,#5ec962 86.9%,#34b679 89.1%,#24aa83 90.2%,#1e9d89 91.3%,#287d8e 94.5%,#34608d 97.8%,#34608d 100%)"></i><i style="left:1122px;background:linear-gradient(#2e6d8e 0%,#30698e 6%,#32648e 13.1%,#2e6e8e 26.2%,#2b758e 35.5%,#2a788e 48.1%,#20928c 66.1%,#20a486 72.7%,#2db27d 77.6%,#44bf70 82.5%,#60ca60 85.2%,#63cb5f 86.3%,#54c568 87.4%,#29af7f 89.6%,#1fa287 90.7%,#228b8d 92.9%,#34608d 97.8%,#34608d 100%)"></i><i style="left:1128px;background:linear-gradient(#2e6e8e 0%,#32658e 13.1%,#2a768e 35%,#29798e 47.5%,#20928c 65.6%,#21a585 72.7%,#2eb37c 78.1%,#40bd72 82%,#54c568 84.2%,#5ec962 85.2%,#60ca60 85.8%,#5ac864 86.9%,#34b679 89.1%,#24aa83 90.2%,#1e9d89 91.3%,#29798e 95.1%,#34608d 97.8%,#34608d 100%)"></i><i style="left:1134px;background:linear-gradient(#2e6f8e 0%,#31668e 13.7%,#2a778e 34.4%,#297a8e 47%,#1f948c 65.6%,#21a685 72.7%,#2eb37c 78.1%,#46c06f 82.5%,#5ec962 85.2%,#5cc863 86.3%,#52c569 87.4%,#2cb17e 89.6%,#20a486 90.7%,#20928c 92.3%,#34608d 97.8%,#34608d 100%)"></i><i style="left:1140px;background:linear-gradient(#2e6f8e 0%,#31688e 13.7%,#2a788e 35%,#297b8e 47%,#1f998a 66.7%,#24aa83 74.3%,#32b67a 79.2%,#46c06f 82.5%,#5cc863 84.7%,#60ca60 85.8%,#5ac864 86.9%,#4ac16d 88%,#2db27d 89.6%,#21a585 90.7%,#20938c 92.3%,#34608d 97.8%,#34608d 100%)"></i><i style="left:1146px;background:linear-gradient(#2d708e 0%,#30698e 13.7%,#2a788e 33.3%,#287c8e 47%,#1e9b8a 66.7%,#25ac82 74.9%,#35b779 79.8%,#4cc26c 83.1%,#63cb5f 85.2%,#65cb5e 86.3%,#4cc26c 88%,#2db27d 89.6%,#21a685 90.7%,#20938c 92.3%,#34608d 97.8%,#34608d 100%)"></i><i style="left:1152px;background:linear-gradient(#2d718e 0%,#2f6b8e 13.7%,#29798e 33.9%,#287c8e 46.4%,#1e9c89 66.1%,#26ad81 75.4%,#34b679 79.2%,#48c16e 82.5%,#52c569 83.6%,#65cb5e 85.2%,#69cd5b 85.8%,#63cb5f 86.9%,#50c46a 88%,#38b977 89.1%,#26ad81 90.2%,#1fa188 91.3%,#25838e 94%,#34608d 97.8%,#34608d 100%)"></i><i style="left:1158px;background:linear-gradient(#2c718e 0%,#2e6d8e 13.7%,#297a8e 35%,#287d8e 47%,#1e9d89 65.6%,#26ad81 74.9%,#34b679 79.2%,#4ac16d 82.5%,#67cc5c 85.2%,#67cc5c 86.3%,#63cb5f 86.9%,#3aba76 89.1%,#27ad81 90.2%,#1fa187 91.3%,#23898e 93.4%,#34608d 97.8%,#34608d 100%)"></i><i style="left:1164px;background:linear-gradient(#2c728e 0%,#2e6e8e 13.7%,#297a8e 33.3%,#287d8e 47%,#1f9f88 65.6%,#26ad81 74.9%,#2fb47c 78.1%,#3aba76 80.3%,#52c569 83.1%,#67cc5c 85.2%,#67cc5c 86.3%,#5ac864 87.4%,#31b57b 89.6%,#22a884 90.7%,#1e9b8a 91.8%,#2e6f8e 96.2%,#34608d 97.8%,#34608d 100%)"></i><i style="left:1170px;background:linear-gradient(#2c738e 0%,#2d708e 14.2%,#297a8e 32.8%,#277e8e 47.5%,#1f9f88 65.6%,#27ad81 75.4%,#32b67a 78.7%,#3fbc73 80.9%,#52c569 83.1%,#65cb5e 84.7%,#69cd5b 85.8%,#63cb5f 86.9%,#3aba76 89.1%,#22a884 90.7%,#1e9b8a 91.8%,#2b748e 95.6%,#34608d 97.8%,#34608d 100%)"></i><i style="left:1176px;background:linear-gradient(#2b758e 0%,#2d718e 12.6%,#297b8e 33.3%,#277e8e 47.5%,#1f9f88 65%,#27ad81 75.4%,#34b679 79.2%,#4cc26c 82.5%,#69cd5b 85.2%,#6ccd5a 85.8%,#65cb5e 86.9%,#52c569 88%,#3aba76 89.1%,#27ad81 90.2%,#1fa188 91.3%,#25838e 94%,#34608d 97.8%,#34608d 100%)"></i><i style="left:1182px;background:linear-gradient(#2a768e 0%,#2c728e 14.2%,#297b8e 32.2%,#277e8e 47.5%,#1fa088 65.6%,#27ad81 75.4%,#34b679 79.2%,#4ac16d 82.5%,#69cd5b 85.2%,#6ccd5a 86.3%,#65cb5e 86.9%,#38b977 89.1%,#26ad81 90.2%,#1fa088 91.3%,#277e8e 94.5%,#34608d 97.8%,#34608d 100%)"></i><i style="left:1188px;background:linear-gradient(#2a778e 0%,#2b748e 14.2%,#287c8e 33.3%,#277f8e 48.6%,#1f9f88 65.6%,#26ad81 74.9%,#32b67a 79.2%,#4ac16d 82.5%,#65cb5e 85.2%,#67cc5c 85.8%,#60ca60 86.9%,#42be71 88.5%,#2db27d 89.6%,#21a585 90.7%,#20938c 92.3%,#34608d 97.8%,#34608d 100%)"></i><i style="left:1194px;background:linear-gradient(#2a788e 0%,#2a768e 16.9%,#287d8e 34.4%,#27808e 49.2%,#1f9f88 65.6%,#26ad81 75.4%,#32b67a 79.2%,#48c16e 82.5%,#5ec962 84.7%,#63cb5f 85.8%,#5cc863 86.9%,#35b779 89.1%,#25ac82 90.2%,#1f9f88 91.3%,#277e8e 94.5%,#34608d 97.8%,#34608d 100%)"></i><i style="left:1200px;background:linear-gradient(#297a8e 0%,#2a778e 13.7%,#287d8e 34.4%,#26818e 49.2%,#1f9f88 66.1%,#26ad81 75.4%,#32b67a 79.8%,#4ac16d 83.1%,#5ec962 85.2%,#5ec962 86.3%,#52c569 87.4%,#2ab07f 89.6%,#20a386 90.7%,#20928c 92.3%,#34608d 97.8%,#34608d 100%)"></i><i style="left:1206px;background:linear-gradient(#297b8e 0%,#2a788e 15.3%,#277e8e 34.4%,#26818e 48.1%,#20928c 59%,#21a585 71%,#29af7f 77.6%,#3aba76 81.4%,#46c06f 83.1%,#5cc863 85.2%,#5ec962 85.8%,#58c765 86.9%,#31b57b 89.1%,#23a983 90.2%,#1e9c89 91.3%,#287d8e 94.5%,#34608d 97.8%,#34608d 100%)"></i><i style="left:1212px;background:linear-gradient(#287c8e 0%,#297a8e 16.9%,#277f8e 35.5%,#27808e 45.4%,#228c8d 56.3%,#1fa187 68.9%,#28ae80 77.6%,#37b878 81.4%,#48c16e 83.6%,#5cc863 85.8%,#56c667 86.9%,#27ad81 89.6%,#1fa187 90.7%,#24868e 93.4%,#34608d 97.8%,#34608d 100%)"></i><i style="left:1218px;background:linear-gradient(#287d8e 0%,#297b8e 16.9%,#277f8e 35.5%,#27808e 44.3%,#238a8d 55.7%,#1fa188 67.8%,#27ad81 77.6%,#35b779 81.4%,#54c568 85.2%,#56c667 85.8%,#4ac16d 87.4%,#27ad81 89.6%,#1fa188 90.7%,#24868e 93.4%,#34608d 97.8%,#34608d 100%)"></i><i style="left:1224px;background:linear-gradient(#277e8e 0%,#277e8e 22.4%,#27808e 44.3%,#23898e 55.2%,#1fa187 67.2%,#26ad81 77.6%,#34b679 81.4%,#3fbc73 83.1%,#52c569 85.8%,#46c06f 87.4%,#26ad81 89.6%,#1fa188 90.7%,#24868e 93.4%,#34608d 97.8%,#34608d 100%)"></i><i style="left:1230px;background:linear-gradient(#27808e 0%,#287d8e 16.4%,#27808e 35%,#27808e 44.8%,#24878e 54.6%,#1fa187 67.2%,#25ac82 77.6%,#2fb47c 80.9%,#40bd72 83.6%,#4ec36b 85.2%,#4ec36b 86.3%,#44bf70 87.4%,#25ac82 89.6%,#1e9b8a 91.3%,#2c738e 95.6%,#34608d 97.8%,#34608d 100%)"></i><i style="left:1236px;background:linear-gradient(#26818e 0%,#277e8e 16.4%,#27808e 35%,#27808e 45.4%,#25858e 54.6%,#1fa088 67.2%,#25ab82 77.6%,#2fb47c 81.4%,#42be71 84.2%,#4ec36b 85.8%,#4ac16d 86.9%,#2cb17e 89.1%,#21a585 90.2%,#1f948c 91.8%,#34608d 97.8%,#34608d 100%)"></i><i style="left:1242px;background:linear-gradient(#26828e 0%,#27808e 17.5%,#277f8e 36.1%,#277f8e 45.9%,#25838e 54.1%,#1f968b 62.8%,#22a785 76.5%,#2eb37c 81.4%,#3bbb75 83.6%,#4cc26c 85.2%,#4ec36b 86.3%,#42be71 87.4%,#25ab82 89.6%,#1f9a8a 91.3%,#2d708e 96.2%,#34608d 97.8%,#34608d 100%)"></i><i style="left:1248px;background:linear-gradient(#26828e 0%,#27808e 17.5%,#27808e 34.4%,#277e8e 43.2%,#26818e 53.6%,#20928c 60.7%,#21a585 76%,#29af7f 80.3%,#3bbb75 83.6%,#4ac16d 85.8%,#46c06f 86.9%,#2ab07f 89.1%,#1fa088 90.7%,#287d8e 94.5%,#34608d 97.8%,#34608d 100%)"></i><i style="left:1254px;background:linear-gradient(#25838e 0%,#26818e 19.1%,#27808e 35%,#287d8e 45.9%,#277f8e 53.6%,#21918c 60.1%,#1f9a8a 69.9%,#24aa83 78.7%,#31b57b 82%,#4ac16d 85.8%,#3fbc73 87.4%,#25ab82 89.6%,#1f9a8a 91.3%,#2e6f8e 96.2%,#34608d 97.8%,#34608d 100%)"></i><i style="left:1260px;background:linear-gradient(#25848e 0%,#26828e 21.9%,#27808e 35%,#287c8e 49.7%,#27808e 54.1%,#218f8d 60.1%,#1f948c 68.3%,#21a685 77.6%,#2fb47c 82%,#48c16e 85.2%,#48c16e 86.3%,#40bd72 87.4%,#25ab82 89.6%,#1f9a8a 91.3%,#2e6f8e 96.2%,#34608d 97.8%,#34608d 100%)"></i><i style="left:1266px;background:linear-gradient(#25848e 0%,#26828e 26.2%,#297b8e 50.8%,#25858e 56.8%,#218e8d 62.3%,#20928c 68.9%,#21a585 77.6%,#2cb17e 81.4%,#3fbc73 84.2%,#4ac16d 85.2%,#4ac16d 86.3%,#3aba76 88%,#25ab82 89.6%,#1f9a8a 91.3%,#2d708e 96.2%,#34608d 97.8%,#34608d 100%)"></i><i style="left:1272px;background:linear-gradient(#25858e 0%,#26818e 34.4%,#29798e 49.7%,#26818e 55.7%,#228b8d 61.7%,#20928c 69.4%,#20a486 77.6%,#28ae80 80.9%,#3aba76 83.6%,#4ac16d 85.2%,#4cc26c 86.3%,#40bd72 87.4%,#25ab82 89.6%,#1f9f88 90.7%,#287d8e 94.5%,#34608d 97.8%,#34608d 100%)"></i><i style="left:1278px;background:linear-gradient(#24868e 0%,#26818e 34.4%,#2a788e 49.7%,#27808e 55.7%,#238a8d 63.4%,#20928c 69.9%,#20a486 78.1%,#2ab07f 81.4%,#48c16e 85.2%,#4ac16d 86.3%,#40bd72 87.4%,#25ab82 89.6%,#1f9f88 90.7%,#287d8e 94.5%,#34608d 97.8%,#34608d 100%)"></i><i style="left:1284px;background:linear-gradient(#24878e 0%,#25838e 21.9%,#277f8e 37.7%,#2a778e 50.3%,#20928c 70.5%,#20a486 78.7%,#2ab07f 81.4%,#46c06f 84.7%,#4ac16d 85.8%,#3fbc73 87.4%,#24aa83 89.6%,#1f998a 91.3%,#2e6f8e 96.2%,#34608d 97.8%,#34608d 100%)"></i><i style="left:1290px;background:linear-gradient(#24878e 0%,#27808e 36.1%,#2a768e 49.7%,#277e8e 57.4%,#1e9d89 77%,#24aa83 80.3%,#31b57b 82.5%,#46c06f 84.7%,#4ac16d 86.3%,#3fbc73 87.4%,#24aa83 89.6%,#1f9e89 90.7%,#287d8e 94.5%,#34608d 97.8%,#34608d 100%)"></i><i style="left:1296px;background:linear-gradient(#23888e 0%,#27808e 35.5%,#2b748e 50.3%,#25848e 63.4%,#1f958b 73.8%,#1e9c89 77.6%,#22a785 80.3%,#2fb47c 82.5%,#4ac16d 85.2%,#4cc26c 86.3%,#38b977 88%,#23a983 89.6%,#1e9d89 90.7%,#287c8e 94.5%,#34608d 97.8%,#34608d 100%)"></i><i style="left:1302px;background:linear-gradient(#23888e 0%,#277f8e 36.1%,#2c738e 49.2%,#2a788e 56.3%,#20928c 73.2%,#1f9a8a 78.1%,#22a884 80.9%,#34b679 83.1%,#4ac16d 85.2%,#4ec36b 85.8%,#46c06f 86.9%,#27ad81 89.1%,#1fa187 90.2%,#24878e 92.9%,#2d708e 96.2%,#34608d 97.8%,#34608d 100%)"></i><i style="left:1308px;background:linear-gradient(#23898e 0%,#277f8e 34.4%,#2c718e 49.7%,#2a768e 56.8%,#218e8d 73.2%,#20938c 77.6%,#21a585 80.9%,#2db27d 82.5%,#48c16e 85.2%,#4ac16d 86.3%,#37b878 88%,#22a785 89.6%,#1f958b 91.3%,#306a8e 96.7%,#34608d 97.8%,#34608d 100%)"></i><i style="left:1314px;background:linear-gradient(#23898e 0%,#277e8e 34.4%,#2d708e 49.2%,#2c738e 56.3%,#23888e 72.1%,#218e8d 77%,#1f9a8a 79.8%,#22a785 81.4%,#3fbc73 84.2%,#4ac16d 85.8%,#42be71 86.9%,#26ad81 89.1%,#1fa188 90.2%,#26828e 93.4%,#306a8e 96.7%,#34608d 97.8%,#34608d 100%)"></i><i style="left:1320px;background:linear-gradient(#238a8d 0%,#287d8e 33.9%,#2e6d8e 49.7%,#2b748e 58.5%,#26828e 71%,#23898e 77%,#20928c 79.2%,#21a585 81.4%,#38b977 83.6%,#48c16e 85.2%,#48c16e 86.3%,#3dbc74 87.4%,#26ad81 89.1%,#1fa088 90.2%,#24868e 92.9%,#306a8e 96.7%,#34608d 97.8%,#34608d 100%)"></i><i style="left:1326px;background:linear-gradient(#238a8d 0%,#287c8e 33.3%,#2f6b8e 49.2%,#2e6f8e 56.3%,#277e8e 69.4%,#25848e 76.5%,#21908d 79.2%,#20a486 81.4%,#31b57b 83.1%,#46c06f 84.7%,#4cc26c 85.8%,#46c06f 86.9%,#25ac82 89.1%,#1fa088 90.2%,#23898e 92.3%,#2d708e 96.2%,#34608d 97.8%,#34608d 100%)"></i><i style="left:1332px;background:linear-gradient(#238a8d 0%,#297b8e 32.8%,#31688e 49.2%,#2e6d8e 56.3%,#297b8e 69.9%,#26818e 75.4%,#228c8d 78.7%,#1f9f88 80.9%,#29af7f 82.5%,#46c06f 84.7%,#4ec36b 85.8%,#46c06f 86.9%,#26ad81 89.1%,#1fa088 90.2%,#23898e 92.3%,#2d708e 96.2%,#34608d 97.8%,#34608d 100%)"></i><i style="left:1338px;background:linear-gradient(#238a8d 0%,#297a8e 31.7%,#31668e 48.1%,#31688e 54.6%,#29798e 70.5%,#27808e 75.4%,#228d8d 78.7%,#1fa088 80.9%,#2ab07f 82.5%,#46c06f 84.7%,#4cc26c 85.8%,#44bf70 86.9%,#26ad81 89.1%,#1fa188 90.2%,#24868e 92.9%,#2e6f8e 96.2%,#34608d 97.8%,#34608d 100%)"></i><i style="left:1344px;background:linear-gradient(#228b8d 0%,#2a788e 31.7%,#33638d 47.5%,#32648e 53.6%,#277f8e 74.9%,#228c8d 78.1%,#1fa187 80.9%,#2ab07f 82.5%,#44bf70 84.7%,#4ac16d 85.8%,#44bf70 86.9%,#27ad81 89.1%,#1e9c89 90.7%,#27808e 94%,#34608d 97.8%,#34608d 100%)"></i><i style="left:1350px;background:linear-gradient(#228b8d 0%,#2a768e 31.7%,#34608d 47%,#34618d 53.6%,#287c8e 73.2%,#23898e 77%,#1f9f88 80.3%,#26ad81 82%,#44bf70 84.7%,#4ac16d 85.8%,#3fbc73 87.4%,#23a983 89.6%,#1f988b 91.3%,#306a8e 96.7%,#34608d 97.8%,#34608d 100%)"></i><i style="left:1356px;background:linear-gradient(#228b8d 0%,#2b758e 30.6%,#365d8d 45.9%,#355e8d 53.6%,#2a788e 71%,#228b8d 77%,#1fa188 80.3%,#27ad81 82%,#46c06f 84.7%,#4cc26c 86.3%,#38b977 88%,#24aa83 89.6%,#1f998a 91.3%,#2a788e 95.1%,#34608d 97.8%,#34608d 100%)"></i><i style="left:1362px;background:linear-gradient(#228b8d 0%,#2c728e 31.1%,#375a8c 45.4%,#38598c 52.5%,#2c738e 68.9%,#23898e 76%,#1f9f88 79.8%,#25ab82 81.4%,#46c06f 84.7%,#4ec36b 85.8%,#48c16e 86.9%,#2ab07f 89.1%,#1fa088 90.7%,#26828e 94%,#34608d 97.8%,#34608d 100%)"></i><i style="left:1368px;background:linear-gradient(#228b8d 0%,#2d708e 31.1%,#39558c 45.4%,#3a548c 51.9%,#2f6c8e 66.1%,#228c8d 76%,#1fa187 79.8%,#2ab07f 82%,#4ac16d 85.2%,#4ac16d 86.3%,#3aba76 88%,#25ac82 89.6%,#1fa088 90.7%,#277e8e 94.5%,#34608d 97.8%,#34608d 100%)"></i><i style="left:1374px;background:linear-gradient(#228b8d 0%,#2b748e 25.1%,#30698e 33.3%,#39558c 41.5%,#3c4f8a 48.6%,#38588c 56.8%,#2f6c8e 66.7%,#21918c 76.5%,#20a386 79.8%,#2cb17e 82%,#46c06f 84.7%,#4ac16d 86.3%,#3aba76 88%,#21a685 90.2%,#1f958b 91.8%,#32648e 97.3%,#34608d 97.8%,#34608d 100%)"></i><i style="left:1380px;background:linear-gradient(#228b8d 0%,#26818e 11.5%,#30698e 31.7%,#3c4f8a 42.6%,#3e4c8a 50.8%,#365c8d 61.2%,#2c728e 68.9%,#1e9b8a 78.1%,#25ab82 80.9%,#35b779 83.1%,#46c06f 84.7%,#4ac16d 86.3%,#3aba76 88%,#21a685 90.2%,#1f958b 91.8%,#32648e 97.3%,#34608d 97.8%,#34608d 100%)"></i><i style="left:1386px;background:linear-gradient(#228b8d 0%,#25858e 6.6%,#31688e 30.1%,#3e4c8a 41.5%,#3f4788 49.2%,#3b518b 57.4%,#31678e 66.1%,#1f958b 76.5%,#21a585 79.8%,#2cb17e 82%,#4ac16d 85.2%,#4cc26c 86.3%,#40bd72 87.4%,#25ac82 89.6%,#1e9b8a 91.3%,#2b748e 95.6%,#34608d 97.8%,#34608d 100%)"></i><i style="left:1392px;background:linear-gradient(#238a8d 0%,#24868e 5.5%,#30698e 27.3%,#38598c 34.4%,#3f4788 41.5%,#414287 48.6%,#3d4e8a 57.4%,#32658e 66.1%,#1f958b 76.5%,#21a585 79.8%,#2cb17e 82%,#4ac16d 85.2%,#4ec36b 85.8%,#42be71 87.4%,#25ab82 89.6%,#1e9b8a 91.3%,#2b748e 95.6%,#34608d 97.8%,#34608d 100%)"></i><i style="left:1398px;background:linear-gradient(#238a8d 0%,#24868e 5.5%,#31678e 26.8%,#424186 41.5%,#423f85 49.2%,#3e4a89 56.8%,#33628d 65.6%,#238a8d 74.3%,#1fa187 79.2%,#28ae80 81.4%,#4ac16d 85.2%,#4ac16d 86.3%,#3aba76 88%,#25ac82 89.6%,#1e9b8a 91.3%,#2b748e 95.6%,#34608d 97.8%,#34608d 100%)"></i><i style="left:1404px;background:linear-gradient(#238a8d 0%,#25848e 6.6%,#31688e 24.6%,#3b518b 33.3%,#433e85 40.4%,#443a83 47%,#414487 54.6%,#34608d 65.6%,#20928c 76.5%,#20a386 79.8%,#2cb17e 82%,#44bf70 84.7%,#4ac16d 85.8%,#46c06f 86.9%,#2ab07f 89.1%,#1fa188 90.7%,#24868e 93.4%,#34608d 97.8%,#34608d 100%)"></i><i style="left:1410px;background:linear-gradient(#238a8d 0%,#25858e 5.5%,#2e6d8e 21.3%,#3b518b 31.7%,#443b84 38.8%,#453781 45.9%,#424186 54.6%,#32648e 66.7%,#1f958b 77.6%,#21a585 80.3%,#2fb47c 82.5%,#4ac16d 85.2%,#4ac16d 86.3%,#3aba76 88%,#25ab82 89.6%,#1f9a8a 91.3%,#2e6f8e 96.2%,#34608d 97.8%,#34608d 100%)"></i><i style="left:1416px;background:linear-gradient(#238a8d 0%,#25858e 5.5%,#2f6b8e 21.3%,#3c508b 30.6%,#443983 37.7%,#46337f 44.3%,#423f85 54.1%,#30698e 67.8%,#1f948c 78.1%,#20a386 80.3%,#2eb37c 82.5%,#4ac16d 85.2%,#4cc26c 86.3%,#40bd72 87.4%,#25ab82 89.6%,#1f9a8a 91.3%,#2d708e 96.2%,#34608d 97.8%,#34608d 100%)"></i><i style="left:1422px;background:linear-gradient(#238a8d 0%,#25858e 5.5%,#30698e 21.3%,#3c508b 29.5%,#453781 36.6%,#46307e 41%,#46337f 47%,#424186 55.2%,#2f6c8e 68.3%,#23898e 76.5%,#1fa188 80.3%,#27ad81 82%,#46c06f 84.7%,#4ec36b 85.8%,#48c16e 86.9%,#29af7f 89.1%,#1f9f88 90.7%,#287d8e 94.5%,#34608d 97.8%,#34608d 100%)"></i><i style="left:1428px;background:linear-gradient(#238a8d 0%,#24868e 4.4%,#30698e 20.8%,#3c4f8a 29%,#46337f 36.1%,#472e7c 40.4%,#46307e 45.9%,#404588 55.7%,#32658e 65.6%,#24868e 76.5%,#1f9a8a 79.8%,#22a884 81.4%,#38b977 83.6%,#4ac16d 85.2%,#4ac16d 86.3%,#40bd72 87.4%,#24aa83 89.6%,#1f998a 91.3%,#2e6f8e 96.2%,#34608d 97.8%,#34608d 100%)"></i><i style="left:1434px;background:linear-gradient(#238a8d 0%,#24868e 4.4%,#2e6d8e 18.6%,#3a548c 26.8%,#46337f 35%,#472c7a 38.8%,#472e7c 44.3%,#414487 54.6%,#31678e 65%,#25848e 76.5%,#1f948c 79.2%,#1fa287 80.9%,#2cb17e 82.5%,#44bf70 84.7%,#4ac16d 86.3%,#3fbc73 87.4%,#24aa83 89.6%,#1f998a 91.3%,#2e6f8e 96.2%,#34608d 97.8%,#34608d 100%)"></i><i style="left:1440px;background:linear-gradient(#238a8d 0%,#24868e 4.4%,#2f6b8e 19.1%,#3c4f8a 27.9%,#472c7a 36.1%,#472a7a 41%,#453882 49.2%,#3c4f8a 56.8%,#306a8e 64.5%,#26828e 76%,#20938c 79.2%,#1fa287 80.9%,#2db27d 82.5%,#46c06f 84.7%,#4cc26c 85.8%,#40bd72 87.4%,#24aa83 89.6%,#1f988b 91.3%,#306a8e 96.7%,#34608d 97.8%,#34608d 100%)"></i><i style="left:1446px;background:linear-gradient(#238a8d 0%,#24868e 4.4%,#30698e 19.7%,#3e4c8a 28.4%,#472c7a 35.5%,#482979 39.9%,#453882 48.1%,#3d4d8a 55.2%,#2f6c8e 63.4%,#25848e 76%,#20928c 78.7%,#20a486 80.9%,#2eb37c 82.5%,#4ac16d 84.7%,#50c46a 86.3%,#3bbb75 88%,#25ab82 89.6%,#1f9f88 90.7%,#26818e 94%,#34608d 97.8%,#34608d 100%)"></i><i style="left:1452px;background:linear-gradient(#238a8d 0%,#24868e 4.4%,#306a8e 19.1%,#3e4c8a 28.4%,#472d7b 35.5%,#472a7a 39.9%,#443a83 48.1%,#3a538b 55.7%,#2c728e 63.9%,#24868e 75.4%,#1f958b 78.7%,#20a386 80.3%,#2cb17e 82%,#4ec36b 84.7%,#56c667 85.8%,#50c46a 86.9%,#26ad81 89.6%,#1fa188 90.7%,#25858e 93.4%,#306a8e 96.7%,#34608d 97.8%,#34608d 100%)"></i><i style="left:1458px;background:linear-gradient(#238a8d 0%,#24868e 4.4%,#2f6b8e 18.6%,#3d4e8a 27.9%,#472f7d 35.5%,#472d7b 39.3%,#433d84 48.1%,#375a8c 56.3%,#2b758e 62.8%,#27808e 68.9%,#228c8d 75.4%,#1f988b 78.1%,#22a884 80.3%,#31b57b 82%,#54c568 84.7%,#58c765 85.2%,#58c765 86.3%,#4cc26c 87.4%,#29af7f 89.6%,#20a386 90.7%,#228d8d 92.9%,#34608d 97.8%,#34608d 100%)"></i><i style="left:1464px;background:linear-gradient(#228b8d 0%,#24878e 4.4%,#32648e 21.3%,#404688 30.1%,#46327e 36.1%,#46327e 40.4%,#414487 49.2%,#2f6b8e 59%,#27808e 64.5%,#218f8d 74.3%,#1f9f88 78.1%,#26ad81 80.3%,#44bf70 83.1%,#5cc863 85.2%,#5ec962 85.8%,#58c765 86.9%,#48c16e 88%,#26ad81 90.2%,#1fa188 91.3%,#25858e 94%,#34608d 97.8%,#34608d 100%)"></i><i style="left:1470px;background:linear-gradient(#228b8d 0%,#24878e 4.4%,#31668e 20.8%,#424186 32.2%,#453781 36.6%,#453882 41.5%,#3f4788 49.2%,#32658e 56.8%,#25838e 63.9%,#20938c 73.2%,#20a386 77.6%,#29af7f 79.8%,#44bf70 82.5%,#63cb5f 85.2%,#65cb5e 85.8%,#5ec962 86.9%,#50c46a 88%,#29af7f 90.2%,#1f9f88 91.8%,#297b8e 95.1%,#34608d 97.8%,#34608d 100%)"></i><i style="left:1476px;background:linear-gradient(#228b8d 0%,#24878e 4.4%,#32648e 21.9%,#433e85 35%,#433d84 41.5%,#3d4d8a 49.7%,#2e6e8e 57.9%,#228b8d 64.5%,#1e9b8a 73.2%,#23a983 77%,#31b57b 79.8%,#50c46a 83.1%,#69cd5b 85.2%,#6ece58 85.8%,#67cc5c 86.9%,#56c667 88%,#2db27d 90.2%,#1fa187 91.8%,#23898e 94%,#32648e 97.3%,#34608d 97.8%,#34608d 100%)"></i><i style="left:1482px;background:linear-gradient(#228c8d 0%,#23898e 3.3%,#32658e 21.9%,#414487 35%,#414287 41.5%,#3d4e8a 48.6%,#31678e 55.7%,#218f8d 64.5%,#1e9d89 71%,#24aa83 75.4%,#37b878 79.2%,#4cc26c 82%,#5cc863 83.6%,#6ccd5a 84.7%,#75d054 85.8%,#6ece58 86.9%,#44bf70 89.1%,#2fb47c 90.2%,#20a386 91.8%,#21918c 93.4%,#30698e 96.7%,#34608d 97.8%,#34608d 100%)"></i><i style="left:1488px;background:linear-gradient(#228c8d 0%,#23888e 4.4%,#375b8d 26.8%,#3e4989 35%,#3f4889 42.1%,#3a538b 49.2%,#2c718e 57.4%,#21908d 64.5%,#1e9b8a 68.9%,#25ac82 74.3%,#38b977 78.1%,#52c569 82%,#75d054 85.2%,#75d054 86.3%,#70cf57 86.9%,#5ec962 88%,#31b57b 90.2%,#23a983 91.3%,#1f978b 92.9%,#306a8e 96.7%,#34608d 97.8%,#34608d 100%)"></i><i style="left:1494px;background:linear-gradient(#228c8d 0%,#23888e 4.4%,#3c508b 33.9%,#3c4f8a 44.3%,#375a8c 50.3%,#2c738e 57.4%,#218e8d 63.9%,#1f998a 68.3%,#22a785 71.6%,#2eb37c 75.4%,#42be71 78.7%,#52c569 81.4%,#73d056 84.7%,#77d153 85.8%,#70cf57 86.9%,#69cd5b 87.4%,#32b67a 90.2%,#23a983 91.3%,#1e9c89 92.3%,#2a768e 95.6%,#34608d 97.8%,#34608d 100%)"></i><i style="left:1500px;background:linear-gradient(#228d8d 0%,#23898e 4.4%,#39558c 32.8%,#3a548c 45.4%,#33638d 52.5%,#228b8d 63.4%,#1f958b 68.3%,#22a884 72.1%,#34b679 76%,#58c765 82%,#77d153 85.2%,#7ad151 85.8%,#73d056 86.9%,#54c568 88.5%,#3bbb75 89.6%,#28ae80 90.7%,#1fa187 91.8%,#218e8d 93.4%,#34608d 97.8%,#34608d 100%)"></i><i style="left:1506px;background:linear-gradient(#228d8d 0%,#23898e 4.4%,#365d8d 30.1%,#38598c 38.3%,#375a8c 46.4%,#31668e 52.5%,#238a8d 63.4%,#20938c 68.9%,#21a685 72.1%,#2fb47c 75.4%,#54c568 81.4%,#65cb5e 83.6%,#77d153 85.2%,#7cd250 85.8%,#7ad151 86.3%,#69cd5b 87.4%,#38b977 89.6%,#26ad81 90.7%,#1f9f88 91.8%,#297b8e 95.1%,#34608d 97.8%,#34608d 100%)"></i><i style="left:1512px;background:linear-gradient(#218e8d 0%,#238a8d 4.4%,#32648e 26.8%,#365d8d 36.1%,#355e8d 47.5%,#2e6d8e 54.1%,#24878e 62.3%,#21918c 68.9%,#20a386 72.1%,#2db27d 75.4%,#58c765 82.5%,#7ad151 85.8%,#77d153 86.3%,#67cc5c 87.4%,#35b779 89.6%,#24aa83 90.7%,#1e9d89 91.8%,#297a8e 95.1%,#34608d 97.8%,#34608d 100%)"></i><i style="left:1518px;background:linear-gradient(#218f8d 0%,#228d8d 3.3%,#31688e 25.1%,#34608d 36.1%,#34618d 47.5%,#2e6f8e 54.1%,#23888e 62.8%,#21918c 68.9%,#20a386 72.7%,#34b679 77%,#50c46a 82%,#65cb5e 84.2%,#70cf57 85.2%,#70cf57 86.3%,#56c667 88%,#32b67a 89.6%,#22a884 90.7%,#1e9b8a 91.8%,#2c738e 95.6%,#34608d 97.8%,#34608d 100%)"></i><i style="left:1524px;background:linear-gradient(#218f8d 0%,#228b8d 4.4%,#2f6b8e 24%,#33628d 36.1%,#32648e 48.1%,#2c738e 55.2%,#23888e 62.8%,#1f978b 70.5%,#22a785 73.8%,#3bbb75 79.2%,#4cc26c 82%,#69cd5b 85.2%,#67cc5c 86.3%,#63cb5f 86.9%,#44bf70 88.5%,#2eb37c 89.6%,#21a685 90.7%,#20938c 92.3%,#34608d 97.8%,#34608d 100%)"></i><i style="left:1530px;background:linear-gradient(#21908d 0%,#228c8d 4.4%,#2e6d8e 23.5%,#32648e 37.2%,#31668e 47.5%,#2c738e 54.6%,#228b8d 63.9%,#1f988b 70.5%,#22a884 74.3%,#3dbc74 80.3%,#50c46a 83.1%,#60ca60 84.7%,#65cb5e 85.8%,#5ec962 86.9%,#40bd72 88.5%,#2cb17e 89.6%,#20a486 90.7%,#20928c 92.3%,#34608d 97.8%,#34608d 100%)"></i><i style="left:1536px;background:linear-gradient(#21918c 0%,#228d8d 4.4%,#2d708e 21.9%,#32658e 36.6%,#31688e 47.5%,#2a768e 55.2%,#218f8d 65.6%,#1e9c89 71.6%,#25ab82 75.4%,#3fbc73 81.4%,#50c46a 83.6%,#60ca60 85.2%,#63cb5f 85.8%,#5cc863 86.9%,#32b67a 89.1%,#23a983 90.2%,#1e9c89 91.3%,#287d8e 94.5%,#34608d 97.8%,#34608d 100%)"></i><i style="left:1542px;background:linear-gradient(#20928c 0%,#218f8d 3.3%,#2e6f8e 23.5%,#31668e 36.6%,#2f6b8e 48.6%,#29798e 55.7%,#218e8d 65%,#1e9c89 71.6%,#24aa83 75.4%,#37b878 80.3%,#4ac16d 83.6%,#5cc863 85.2%,#60ca60 85.8%,#5ac864 86.9%,#31b57b 89.1%,#22a884 90.2%,#1e9b8a 91.3%,#25858e 93.4%,#306a8e 96.7%,#34608d 97.8%,#34608d 100%)"></i><i style="left:1548px;background:linear-gradient(#20928c 0%,#218e8d 4.4%,#2d708e 23.5%,#31668e 36.1%,#2e6d8e 49.2%,#277f8e 57.4%,#228d8d 64.5%,#1f9e89 72.1%,#27ad81 77%,#3aba76 81.4%,#50c46a 84.2%,#5ac864 85.2%,#5ac864 86.3%,#4ec36b 87.4%,#28ae80 89.6%,#1fa187 90.7%,#24868e 93.4%,#34608d 97.8%,#34608d 100%)"></i><i style="left:1554px;background:linear-gradient(#20928c 0%,#218f8d 4.4%,#2d708e 24%,#31678e 35%,#2e6d8e 47.5%,#297a8e 55.2%,#228d8d 63.4%,#1f998a 70.5%,#22a884 75.4%,#35b779 80.9%,#4ec36b 84.2%,#56c667 85.2%,#58c765 85.8%,#4cc26c 87.4%,#29af7f 89.6%,#1fa287 90.7%,#228c8d 92.9%,#34608d 97.8%,#34608d 100%)"></i><i style="left:1560px;background:linear-gradient(#20938c 0%,#21908d 4.4%,#2d718e 24%,#31678e 35%,#2d708e 48.6%,#287c8e 55.2%,#228c8d 62.3%,#1f9a8a 70.5%,#23a983 76%,#2fb47c 79.8%,#3bbb75 82%,#48c16e 83.6%,#58c765 85.8%,#4cc26c 87.4%,#29af7f 89.6%,#20a386 90.7%,#20928c 92.3%,#34608d 97.8%,#34608d 100%)"></i><i style="left:1566px;background:linear-gradient(#1f948c 0%,#21918c 4.4%,#2d718e 24.6%,#31678e 35.5%,#2c728e 49.7%,#25838e 57.4%,#21908d 63.4%,#1f998a 69.9%,#23a983 76%,#31b57b 80.3%,#46c06f 83.6%,#56c667 85.2%,#58c765 86.3%,#4cc26c 87.4%,#29af7f 89.6%,#1f9f88 91.3%,#29798e 95.1%,#34608d 97.8%,#34608d 100%)"></i><i style="left:1572px;background:linear-gradient(#1f958b 0%,#20928c 4.4%,#2d718e 25.1%,#31678e 35%,#2c738e 49.2%,#24868e 57.9%,#21918c 62.8%,#1e9b8a 69.9%,#23a983 76%,#32b67a 80.9%,#48c16e 84.2%,#56c667 85.8%,#56c667 86.3%,#4ac16d 87.4%,#2fb47c 89.1%,#20a486 90.7%,#20938c 92.3%,#34608d 97.8%,#34608d 100%)"></i><i style="left:1578px;background:linear-gradient(#1f968b 0%,#20938c 3.8%,#2c728e 24%,#31688e 35%,#2b748e 49.2%,#24868e 57.4%,#20928c 63.4%,#1e9d89 70.5%,#25ac82 77%,#37b878 82%,#50c46a 85.8%,#4cc26c 86.9%,#28ae80 89.6%,#20a386 90.7%,#20938c 92.3%,#34608d 97.8%,#34608d 100%)"></i><i style="left:1584px;background:linear-gradient(#1f968b 0%,#20938c 3.8%,#2c728e 24%,#31688e 35%,#2b748e 49.2%,#24868e 57.4%,#20928c 63.4%,#1e9d89 70.5%,#25ac82 77%,#37b878 82%,#50c46a 85.8%,#4cc26c 86.9%,#28ae80 89.6%,#20a386 90.7%,#20938c 92.3%,#34608d 97.8%,#34608d 100%)"></i></div></div><div class="w" style="left:1379px;top:0;width:517px;height:217.7px"></div><div class="w" style="left:1088px;top:700px;width:808px;height:169px"></div><div class="w" style="left:1379px;top:700px;width:517px;height:265.6px"></div><div class="cb" style="left:1501px;top:9.6px;width:336.4px;height:111.4px"></div><div class="cb" style="left:1501px;top:756.5px;width:336.4px;height:112.8px"></div><svg width="1896" height="2125" viewBox="0 0 1896 2125"><clipPath id="cp"><rect x="273.5" y="112" width="1567.6" height="1233"/></clipPath><g fill="none" stroke="#000" stroke-width="4.6" stroke-linejoin="round" stroke-linecap="butt" clip-path="url(#cp)"><path id="k0" d="M274.6,360.7 275.3,360.2 276.8,359.2 279.0,357.7 282.0,355.7 285.1,353.6 288.2,351.3 291.4,348.8 294.7,346.1 298.0,343.6 301.4,341.1 304.7,338.7 308.0,336.4 311.3,334.2 314.6,332.2 317.9,330.4 321.2,328.8 324.5,327.1 327.8,325.5 331.1,323.8 334.4,322.2 337.5,320.7 340.3,319.3 342.9,318.2 345.2,317.2 348.0,316.4 351.3,315.8 355.1,315.4 359.4,315.2 363.3,314.9 366.8,314.4 369.8,313.7 372.5,312.9 375.1,311.9 377.8,310.7 380.4,309.3 383.1,307.6 385.7,305.9 388.4,304.0 391.0,302.1 393.7,300.2 396.3,298.3 399.0,296.5 401.6,294.9 404.2,293.4 406.9,292.1 409.5,291.0 412.2,290.1 414.8,289.4 417.5,289.1 420.1,289.0 422.8,289.2 425.4,289.8 427.9,290.6 430.1,291.7 432.2,293.0 434.0,294.7 435.6,296.7 436.9,299.0 438.0,301.6 438.8,304.6 439.5,308.0 440.0,311.8 440.5,316.0 440.8,320.7 441.2,325.3 441.7,329.9 442.3,334.6 443.0,339.2 443.7,343.7 444.5,348.0 445.4,352.1 446.4,356.1 447.6,359.9 448.9,363.5 450.4,367.0 452.1,370.3 453.9,373.4 455.9,376.2 458.0,378.7 460.3,381.0 462.6,383.1 465.0,384.9 467.3,386.5 469.6,387.8 471.9,388.9 474.2,389.6 476.5,390.1 478.9,390.3 481.1,390.2 483.2,389.9 485.3,389.3 487.3,388.5 489.3,387.3 491.3,385.9 493.2,384.2 495.2,382.2 497.2,380.1 499.2,378.0 501.2,375.8 503.2,373.4 505.2,371.2 507.1,369.2 509.1,367.2 511.1,365.3 513.3,363.7 515.6,362.2 518.1,360.9 520.7,359.7 523.3,358.9 526.0,358.3 528.6,358.1 531.3,358.1 534.1,358.2 537.1,358.6 540.2,359.0 543.5,359.7 547.0,360.3 550.6,360.7 554.4,361.0 558.4,361.2 562.2,361.2 565.9,361.1 569.3,360.9 572.6,360.5 576.1,360.1 579.8,359.7 583.6,359.2 587.5,358.8 591.5,358.2 595.5,357.7 599.4,357.1 603.4,356.4 607.7,355.7 612.3,355.1 617.3,354.4 622.6,353.8 627.9,353.1 633.2,352.6 638.5,352.1 643.8,351.6 648.6,351.2 653.0,350.7 656.9,350.3 660.3,349.9 663.9,349.4 667.5,348.8 671.2,348.1 675.1,347.3 678.9,346.4 682.8,345.3 686.8,344.0 690.8,342.5 693.9,341.4 696.3,340.8 697.9,340.5 698.8,340.7 700.2,340.3 702.3,339.3 705.0,337.9 708.3,335.9 711.6,333.7 714.9,331.4 718.2,328.9 721.5,326.3 724.8,323.7 728.1,321.2 731.4,318.9 734.7,316.5 738.0,314.5 741.4,312.6 744.7,311.1 748.0,309.8 751.1,308.6 754.1,307.8 756.9,307.1 759.6,306.6 762.2,306.5 764.8,306.6 767.5,307.1 770.1,307.9 773.1,308.7 776.4,309.6 780.1,310.6 784.0,311.6 788.0,312.5 792.0,313.3 795.9,314.1 799.9,314.7 803.9,315.3 807.9,315.7 811.8,316.0 815.8,316.2 819.8,316.6 823.7,317.3 827.7,318.2 831.7,319.3 835.3,320.3 838.6,321.2 841.6,322.0 844.2,322.7 847.2,323.2 850.5,323.7 854.2,324.1 858.1,324.5 861.6,325.1 864.6,325.9 867.1,327.0 869.1,328.3 871.2,330.0 873.5,332.2 876.0,334.7 878.7,337.7 881.3,340.4 883.9,342.9 886.6,345.2 889.2,347.1 892.1,348.7 895.0,349.8 898.2,350.4 901.5,350.6 905.0,350.7 908.6,350.7 912.4,350.6 916.4,350.4 920.3,349.9 924.3,348.9 928.3,347.6 932.2,346.0 936.1,344.4 939.7,342.9 943.2,341.5 946.5,340.2 949.8,339.2 953.1,338.5 956.4,338.2 959.7,338.2 963.2,338.5 966.8,338.9 970.6,339.7 974.6,340.7 978.6,341.7 982.5,342.7 986.5,343.7 990.5,344.7 994.4,345.6 998.4,346.5 1002.4,347.3 1006.4,348.1 1010.3,348.9 1014.3,349.5 1018.3,350.1 1022.2,350.6 1026.2,351.0 1030.2,351.1 1034.1,350.9 1038.1,350.6 1042.0,350.2 1045.7,349.7 1049.2,349.1 1052.7,348.5 1056.1,347.9 1059.4,347.5 1062.6,347.2 1065.8,347.0 1069.0,347.0 1072.2,347.1 1075.5,347.5 1078.8,348.0 1082.1,348.6 1085.4,349.4 1088.7,350.3 1092.0,351.3 1095.2,352.0 1098.2,352.5 1101.0,352.8 1103.6,352.8 1106.6,352.4 1109.9,351.8 1113.6,350.8 1117.5,349.5 1121.3,348.0 1125.0,346.6 1128.4,345.0 1131.7,343.3 1134.4,342.0 1136.5,341.0 1137.9,340.4 1138.8,340.0 1140.2,339.2 1142.3,337.9 1145.0,336.1 1148.3,333.7 1151.6,331.4 1154.9,329.1 1158.2,326.8 1161.5,324.5 1164.8,322.3 1168.1,320.3 1171.4,318.5 1174.7,316.9 1178.0,315.3 1181.4,313.9 1184.7,312.6 1188.0,311.4 1191.6,310.4 1195.6,309.7 1199.9,309.2 1204.5,309.0 1209.0,308.4 1213.3,307.5 1217.4,306.3 1221.4,304.8 1225.2,303.2 1228.8,301.7 1232.3,300.2 1235.6,298.7 1238.9,297.4 1242.2,296.3 1245.5,295.4 1248.8,294.7 1252.0,294.2 1255.0,293.8 1257.8,293.5 1260.4,293.4 1263.2,293.5 1266.2,293.7 1269.4,294.2 1272.7,294.9 1275.6,295.8 1278.0,296.9 1280.1,298.3 1281.8,300.0 1283.4,302.1 1285.1,304.5 1286.7,307.4 1288.4,310.7 1290.1,314.1 1291.9,317.6 1293.8,321.2 1295.8,324.8 1297.8,328.2 1299.8,331.4 1301.8,334.4 1303.8,337.2 1305.9,339.8 1308.2,342.1 1310.7,344.2 1313.4,346.0 1316.2,347.5 1319.1,348.7 1322.3,349.6 1325.6,350.1 1328.9,350.3 1332.2,350.1 1335.5,349.6 1338.8,348.8 1342.3,347.7 1345.9,346.5 1349.8,345.2 1353.7,343.7 1357.5,342.3 1361.2,341.2 1364.6,340.2 1367.9,339.4 1371.4,338.7 1375.1,338.2 1378.9,337.7 1382.8,337.4 1386.8,337.2 1390.8,337.1 1394.7,337.2 1398.7,337.4 1402.7,337.6 1406.7,337.8 1410.6,338.1 1414.6,338.3 1418.6,338.6 1422.5,339.0 1426.5,339.3 1430.5,339.7 1434.3,340.2 1437.9,340.7 1441.4,341.3 1444.7,342.0 1448.0,342.6 1451.3,343.2 1454.6,343.7 1457.9,344.1 1461.7,344.5 1466.0,344.9 1470.8,345.1 1476.1,345.3 1481.4,345.6 1486.7,346.1 1492.0,346.6 1497.3,347.3 1502.4,347.9 1507.4,348.4 1512.2,349.0 1516.8,349.4 1521.1,349.7 1525.1,349.8 1528.7,349.6 1532.0,349.3 1535.5,348.7 1539.2,347.9 1543.0,346.8 1546.9,345.5 1550.9,344.0 1554.9,342.3 1558.8,340.5 1562.8,338.5 1566.1,336.9 1568.7,335.6 1570.6,334.6 1571.8,333.9 1573.0,333.2 1574.3,332.6 1575.6,331.9 1576.9,331.3 1578.9,330.3 1581.6,329.0 1584.9,327.5 1588.8,325.6 1592.7,324.0 1596.3,322.6 1599.8,321.5 1603.1,320.5 1606.7,319.8 1610.7,319.4 1615.0,319.1 1619.6,319.1 1624.1,319.1 1628.4,319.1 1632.5,319.1 1636.5,319.1 1640.5,318.8 1644.4,318.0 1648.4,316.9 1652.4,315.3 1656.3,313.7 1660.3,312.0 1664.3,310.1 1668.2,308.1 1672.1,306.3 1675.7,304.6 1679.2,303.1 1682.5,301.8 1685.8,300.8 1689.1,300.0 1692.4,299.5 1695.7,299.3 1698.7,299.4 1701.3,299.7 1703.6,300.3 1705.6,301.2 1707.6,302.4 1709.6,304.0 1711.6,305.9 1713.6,308.3 1715.6,310.8 1717.5,313.6 1719.5,316.7 1721.5,320.0 1723.5,323.3 1725.5,326.6 1727.5,329.9 1729.5,333.2 1731.4,336.3 1733.4,339.1 1735.4,341.7 1737.4,344.0 1739.4,346.1 1741.4,347.9 1743.4,349.5 1745.3,350.8 1747.3,351.7 1749.3,352.2 1751.3,352.3 1753.3,351.9 1755.4,351.3 1757.7,350.4 1760.2,349.3 1762.9,347.8 1765.5,346.4 1768.2,345.2 1770.8,344.0 1773.5,343.0 1776.4,342.1 1779.7,341.5 1783.4,341.2 1787.4,341.1 1791.5,340.9 1795.8,340.8 1800.3,340.7 1804.9,340.5 1810.2,340.4 1816.1,340.4 1822.8,340.3 1830.0,340.3 1835.5,340.3 1839.1,340.3 1840.9,340.3"/><use href="#k0" stroke-width="6" stroke-dasharray="3.2 2.4"/><path id="k1" d="M274.6,549.4 275.3,548.9 276.8,548.0 279.0,546.6 282.0,544.8 285.1,543.0 288.2,541.4 291.4,539.8 294.7,538.4 297.8,536.6 300.6,534.7 303.2,532.4 305.5,529.9 307.6,527.2 309.6,524.3 311.4,521.2 313.1,517.9 314.8,514.4 316.4,510.7 318.1,506.9 319.7,503.0 321.5,499.2 323.3,495.5 325.2,492.0 327.2,488.7 329.2,485.4 331.4,482.1 333.6,478.8 335.9,475.5 338.2,472.3 340.6,469.1 342.9,466.1 345.2,463.1 347.5,460.4 349.8,457.9 352.1,455.7 354.5,453.7 356.8,452.0 359.1,450.7 361.4,449.7 363.7,449.0 366.0,448.6 368.4,448.5 370.7,448.5 373.0,448.9 375.1,449.5 377.0,450.5 378.6,451.8 380.1,453.5 381.2,455.4 382.1,457.6 382.6,460.0 382.8,462.6 382.6,465.2 382.0,467.6 381.1,470.0 379.8,472.4 378.4,474.7 376.9,477.0 375.3,479.3 373.6,481.6 372.1,484.0 370.6,486.5 369.2,489.1 367.9,491.7 366.7,494.6 365.6,497.8 364.7,501.1 363.9,504.8 363.2,508.5 362.7,512.3 362.4,516.2 362.2,520.2 362.1,524.1 362.2,528.1 362.4,532.1 362.7,536.0 362.9,539.9 363.0,543.5 363.0,547.0 362.9,550.3 363.0,553.1 363.3,555.5 363.9,557.4 364.7,558.9 365.9,560.0 367.7,560.8 369.8,561.4 372.5,561.6 375.1,561.5 377.8,561.1 380.4,560.4 383.1,559.4 385.7,558.3 388.4,557.1 391.0,555.9 393.7,554.6 396.3,553.2 399.0,551.7 401.6,550.1 404.2,548.5 406.8,546.7 409.3,544.9 411.7,543.0 414.0,541.0 416.2,538.8 418.4,536.3 420.5,533.6 422.4,530.6 424.3,527.4 425.9,523.9 427.4,520.2 428.7,516.2 430.0,512.2 431.1,508.3 432.2,504.3 433.2,500.3 434.2,496.3 435.2,492.4 436.2,488.4 437.2,484.4 438.2,480.8 439.4,477.5 440.6,474.5 442.0,471.9 443.4,469.7 444.9,468.0 446.4,466.7 448.1,465.9 449.9,465.4 451.9,465.3 454.0,465.4 456.4,465.9 458.6,466.6 460.7,467.7 462.8,469.1 464.8,470.7 466.7,472.6 468.4,474.8 470.1,477.2 471.6,479.8 472.9,482.6 474.0,485.6 474.8,488.7 475.5,492.0 476.1,495.5 476.5,499.2 476.9,503.0 477.2,506.9 477.5,510.9 477.9,514.9 478.4,518.8 478.9,522.8 479.5,526.5 480.3,529.8 481.2,532.7 482.2,535.4 483.3,537.6 484.5,539.3 485.9,540.5 487.5,541.3 489.0,541.7 490.4,541.5 491.9,540.8 493.4,539.7 494.9,538.2 496.4,536.3 498.0,534.1 499.7,531.4 501.4,528.7 503.3,525.9 505.2,523.0 507.1,520.0 509.3,517.0 511.6,514.0 514.1,511.1 516.7,508.1 519.5,505.4 522.3,502.9 525.2,500.6 528.1,498.7 531.2,496.9 534.3,495.4 537.6,494.2 540.9,493.2 544.0,492.5 547.0,492.1 549.8,491.9 552.5,492.0 555.1,492.3 557.8,492.7 560.4,493.2 563.0,493.9 565.5,494.7 567.8,495.6 570.0,496.7 572.0,497.9 573.7,499.3 575.2,500.8 576.4,502.6 577.4,504.6 578.4,506.5 579.2,508.2 579.9,509.8 580.6,511.2 581.7,512.3 583.1,513.1 585.1,513.4 587.4,513.4 590.1,513.3 593.2,512.9 596.8,512.4 600.8,511.8 604.3,510.9 607.5,509.8 610.2,508.6 612.5,507.1 615.0,505.3 617.6,503.1 620.5,500.5 623.4,497.5 626.5,494.4 629.6,491.3 632.9,488.1 636.2,484.8 639.5,481.5 642.8,478.2 646.1,474.8 649.4,471.5 652.6,468.5 655.6,465.7 658.5,463.1 661.3,460.8 664.2,458.3 667.2,455.7 670.2,452.8 673.4,449.9 676.5,447.1 679.4,444.7 682.2,442.4 684.8,440.4 687.3,438.9 689.6,437.7 691.7,437.0 693.7,436.6 695.5,436.8 697.0,437.5 698.2,438.6 699.2,440.3 699.9,442.3 700.2,444.6 700.2,447.2 699.9,450.2 699.3,453.3 698.4,456.4 697.4,459.6 696.0,462.9 694.6,466.2 692.9,469.5 691.1,472.9 689.1,476.2 687.1,479.3 685.1,482.3 683.1,485.1 681.2,487.7 679.3,490.4 677.7,493.0 676.2,495.7 674.9,498.3 673.7,501.0 672.7,503.6 671.9,506.3 671.2,508.9 670.9,511.6 670.9,514.2 671.2,516.9 671.9,519.5 672.7,521.9 673.7,523.9 674.9,525.7 676.2,527.1 677.9,528.3 679.8,529.1 682.2,529.6 684.8,529.8 687.5,529.7 690.2,529.3 693.0,528.6 695.8,527.6 698.4,526.5 700.8,525.1 703.0,523.6 705.0,522.0 706.9,520.2 708.9,518.2 710.9,516.0 712.9,513.7 714.9,510.8 716.9,507.3 718.9,503.3 720.8,498.7 722.7,494.2 724.6,489.9 726.3,485.8 728.0,481.8 729.6,478.1 731.3,474.6 732.9,471.4 734.6,468.4 736.5,465.6 738.6,462.9 741.0,460.5 743.7,458.1 746.5,456.0 749.5,454.0 752.6,452.2 755.9,450.5 759.2,449.1 762.5,448.0 765.8,447.1 769.1,446.4 772.3,445.9 775.3,445.7 778.1,445.7 780.7,445.9 783.1,446.5 785.3,447.5 787.2,448.9 788.8,450.7 790.3,452.9 791.5,455.6 792.6,458.8 793.5,462.4 794.2,466.3 794.9,470.5 795.4,474.8 795.9,479.5 796.2,484.1 796.3,488.7 796.3,493.4 796.1,498.0 795.8,502.8 795.3,507.8 794.6,512.9 793.8,518.2 793.0,523.1 792.1,527.5 791.1,531.6 790.2,535.2 789.6,538.1 789.4,540.1 789.7,541.4 790.3,541.8 791.2,542.0 792.4,541.8 793.8,541.3 795.4,540.5 797.2,539.5 799.0,538.1 800.9,536.4 802.9,534.4 804.9,532.4 806.9,530.4 808.8,528.4 810.8,526.5 812.7,524.5 814.6,522.5 816.3,520.5 817.9,518.5 819.4,516.4 820.8,514.0 821.9,511.6 822.9,508.9 823.7,505.9 824.4,502.6 824.9,499.0 825.2,495.0 825.4,491.1 825.5,487.1 825.4,483.1 825.2,479.1 825.2,475.2 825.4,471.2 825.7,467.2 826.2,463.3 827.1,459.5 828.2,455.8 829.5,452.3 831.2,449.0 832.9,446.4 834.7,444.3 836.6,442.9 838.6,442.1 840.7,441.6 842.8,441.4 845.1,441.6 847.4,442.1 849.8,443.0 852.3,444.4 854.8,446.2 857.5,448.5 860.1,450.8 862.8,452.9 865.4,455.0 868.1,457.0 870.7,458.9 873.4,460.7 876.0,462.4 878.7,464.1 881.1,465.9 883.2,467.9 885.1,470.0 886.8,472.4 888.2,474.9 889.5,477.7 890.5,480.8 891.4,484.1 892.1,487.7 892.7,491.7 893.1,496.0 893.3,500.6 893.6,505.1 894.0,509.4 894.3,513.6 894.7,517.5 895.3,521.2 896.1,524.5 897.0,527.4 898.1,530.1 899.4,532.2 900.8,533.8 902.3,534.9 904.0,535.4 905.7,535.4 907.5,534.9 909.4,533.9 911.4,532.4 913.6,530.8 915.9,529.2 918.4,527.6 921.0,526.0 923.6,524.3 926.0,522.6 928.4,521.0 930.8,519.3 932.9,517.4 934.9,515.0 936.7,512.4 938.4,509.4 940.0,506.2 941.7,502.7 943.3,499.0 945.0,495.0 946.6,491.3 948.3,487.8 949.9,484.6 951.6,481.6 953.5,479.1 955.7,477.1 958.1,475.5 960.7,474.3 963.4,473.4 966.2,472.5 969.1,471.9 972.1,471.3 974.9,470.5 977.6,469.4 980.1,468.1 982.4,466.4 984.7,465.0 987.0,464.0 989.3,463.2 991.6,462.8 994.1,462.7 996.8,463.0 999.6,463.8 1002.6,464.9 1005.4,466.0 1008.0,467.0 1010.5,468.1 1012.8,469.1 1014.9,470.6 1016.7,472.8 1018.3,475.5 1019.6,478.8 1020.9,482.4 1022.2,486.2 1023.6,490.2 1024.9,494.5 1026.1,498.2 1027.3,501.1 1028.4,503.5 1029.4,505.1 1030.5,505.9 1031.8,505.9 1033.3,505.1 1035.0,503.5 1036.8,501.4 1038.8,498.9 1040.9,496.0 1043.2,492.7 1045.7,489.5 1048.2,486.3 1050.9,483.3 1053.7,480.3 1056.4,477.3 1059.0,474.3 1061.6,471.4 1064.1,468.4 1066.7,465.7 1069.3,463.4 1071.9,461.4 1074.5,459.8 1077.3,458.4 1080.3,457.3 1083.4,456.5 1086.8,456.0 1090.4,455.5 1094.4,455.0 1098.7,454.5 1103.3,454.0 1107.1,453.8 1110.2,453.9 1112.4,454.3 1113.9,455.0 1114.9,456.4 1115.6,458.5 1115.9,461.4 1115.7,465.1 1115.4,468.6 1115.0,472.1 1114.3,475.5 1113.6,478.8 1112.9,482.1 1112.4,485.4 1112.1,488.7 1111.9,492.0 1112.0,495.0 1112.6,497.7 1113.6,500.0 1114.9,502.0 1116.4,503.6 1118.3,504.9 1120.3,505.9 1122.6,506.6 1125.0,506.9 1127.3,506.7 1129.6,506.1 1131.9,505.1 1133.9,503.8 1135.7,502.1 1137.1,500.2 1138.3,497.8 1139.6,495.4 1141.2,493.0 1143.0,490.4 1145.0,487.7 1146.9,484.9 1148.9,482.0 1150.9,478.8 1152.9,475.5 1154.9,472.4 1156.9,469.6 1158.9,467.1 1160.8,464.8 1163.0,462.6 1165.3,460.6 1167.8,458.8 1170.4,457.1 1173.2,455.6 1176.2,454.2 1179.4,452.9 1182.7,451.7 1186.0,450.6 1189.3,449.7 1192.6,448.9 1195.9,448.2 1199.2,447.7 1202.5,447.4 1205.8,447.2 1209.1,447.2 1212.3,447.1 1215.3,446.7 1218.1,446.1 1220.7,445.3 1223.1,444.2 1225.3,442.8 1227.2,441.1 1228.8,439.1 1230.7,437.1 1232.6,435.1 1234.8,433.2 1237.1,431.2 1239.5,429.4 1242.0,427.9 1244.5,426.7 1247.2,425.7 1249.8,424.9 1252.5,424.3 1255.1,423.9 1257.8,423.7 1260.4,423.6 1263.1,423.6 1265.7,423.7 1268.4,423.9 1270.8,424.5 1272.9,425.4 1274.8,426.7 1276.5,428.4 1278.1,430.3 1279.8,432.4 1281.4,434.8 1283.1,437.5 1285.0,439.7 1287.1,441.7 1289.5,443.2 1292.2,444.4 1295.0,445.6 1298.0,446.7 1301.1,447.9 1304.4,449.0 1307.7,450.3 1310.8,451.6 1313.9,453.2 1316.8,454.8 1319.5,456.8 1321.9,459.1 1324.0,461.8 1325.8,464.8 1327.3,467.9 1328.5,471.2 1329.4,474.7 1330.1,478.3 1330.6,482.0 1330.9,485.8 1331.1,489.7 1331.1,493.7 1331.2,497.0 1331.5,499.7 1331.9,501.6 1332.4,503.0 1333.1,504.1 1334.1,505.1 1335.2,505.9 1336.5,506.6 1337.9,506.8 1339.4,506.4 1341.0,505.6 1342.6,504.3 1344.2,502.5 1345.7,500.4 1347.1,497.8 1348.4,494.9 1349.5,491.7 1350.4,488.4 1351.1,484.9 1351.6,481.3 1351.9,477.6 1352.0,473.8 1351.9,469.9 1351.6,465.9 1351.5,462.4 1351.6,459.5 1351.9,457.0 1352.4,455.0 1353.0,453.7 1353.7,453.0 1354.5,453.0 1355.5,453.7 1356.5,454.8 1357.5,456.5 1358.5,458.6 1359.5,461.3 1360.6,463.8 1361.7,466.1 1363.0,468.2 1364.3,470.2 1365.7,471.5 1367.2,471.9 1368.8,471.7 1370.4,470.7 1372.3,469.6 1374.5,468.3 1376.9,466.9 1379.5,465.4 1382.3,464.1 1385.3,462.9 1388.5,461.9 1391.8,461.1 1395.2,460.7 1398.9,460.5 1402.7,460.7 1406.7,461.3 1410.6,461.7 1414.6,462.1 1418.6,462.5 1422.5,462.7 1426.3,462.9 1430.0,462.9 1433.5,462.7 1436.8,462.5 1439.7,462.2 1442.4,461.8 1444.7,461.5 1446.7,461.1 1448.7,460.8 1450.7,460.7 1452.6,460.8 1454.6,461.0 1456.8,461.4 1459.1,462.1 1461.6,463.0 1464.2,464.1 1467.0,464.7 1470.0,464.9 1473.2,464.6 1476.5,463.8 1479.9,462.9 1483.6,461.9 1487.4,460.8 1491.4,459.6 1495.2,458.7 1498.8,458.0 1502.3,457.6 1505.6,457.5 1508.9,457.2 1512.2,456.6 1515.5,455.8 1518.8,454.8 1522.1,453.8 1525.4,452.6 1528.7,451.4 1532.0,450.0 1534.9,449.0 1537.4,448.1 1539.5,447.5 1541.1,447.2 1542.6,447.5 1543.9,448.3 1544.9,449.7 1545.8,451.7 1546.4,454.2 1546.7,457.1 1546.8,460.6 1546.6,464.6 1546.1,468.4 1545.3,472.0 1544.3,475.5 1543.0,478.8 1541.7,482.0 1540.6,484.9 1539.5,487.7 1538.5,490.4 1537.8,492.9 1537.5,495.2 1537.5,497.3 1537.8,499.3 1538.5,501.0 1539.5,502.3 1540.8,503.3 1542.5,504.0 1544.4,504.3 1546.5,504.3 1548.9,504.0 1551.6,503.3 1554.2,502.4 1556.9,501.2 1559.5,499.8 1562.2,498.2 1564.6,496.4 1566.9,494.6 1568.9,492.7 1570.8,490.7 1572.7,488.2 1574.6,485.0 1576.6,481.3 1578.6,477.0 1580.7,473.0 1583.1,469.4 1585.5,466.1 1588.2,463.1 1591.2,460.4 1594.5,457.9 1598.1,455.7 1602.1,453.7 1606.2,451.8 1610.5,450.2 1615.0,448.7 1619.6,447.4 1624.1,446.2 1628.4,445.2 1632.5,444.4 1636.5,443.7 1640.1,442.8 1643.4,441.4 1646.4,439.8 1649.1,437.8 1651.9,435.8 1654.9,433.8 1658.0,431.8 1661.3,429.8 1664.8,428.2 1668.4,426.9 1672.2,425.9 1676.2,425.2 1679.7,424.7 1682.9,424.2 1685.6,423.9 1687.9,423.7 1690.1,424.0 1692.1,424.6 1693.9,425.7 1695.5,427.2 1697.1,429.0 1698.6,431.1 1700.0,433.5 1701.3,436.1 1702.8,438.6 1704.5,440.9 1706.3,443.1 1708.3,445.1 1710.6,446.8 1713.2,448.2 1716.2,449.3 1719.5,450.2 1722.8,451.0 1726.1,451.6 1729.5,452.2 1732.8,452.6 1735.8,453.5 1738.6,454.7 1741.2,456.3 1743.5,458.3 1745.6,460.5 1747.4,463.0 1749.0,465.7 1750.3,468.7 1751.4,471.9 1752.2,475.4 1752.8,479.1 1753.1,483.1 1753.4,487.1 1753.6,491.1 1753.8,495.0 1753.9,499.0 1754.3,502.5 1754.7,505.7 1755.4,508.4 1756.3,510.7 1757.3,512.6 1758.6,514.1 1760.1,515.2 1761.7,515.9 1763.4,516.0 1765.2,515.7 1767.0,514.9 1768.8,513.6 1770.5,511.8 1772.0,509.7 1773.3,507.1 1774.4,504.1 1775.5,500.7 1776.5,496.9 1777.4,492.7 1778.3,488.1 1779.0,483.4 1779.5,478.8 1779.9,474.2 1780.2,469.5 1780.5,465.7 1780.8,462.5 1781.2,460.1 1781.6,458.5 1782.1,457.5 1782.7,457.1 1783.4,457.5 1784.2,458.5 1784.9,460.0 1785.7,462.2 1786.4,464.9 1787.0,468.2 1787.8,471.0 1788.6,473.1 1789.5,474.7 1790.5,475.7 1791.7,475.8 1793.0,475.2 1794.5,473.7 1796.1,471.4 1797.9,469.1 1799.7,466.7 1801.6,464.4 1803.6,462.1 1805.7,460.1 1808.0,458.4 1810.5,456.9 1813.2,455.8 1816.0,455.1 1818.9,454.8 1822.1,454.8 1825.4,455.3 1828.5,455.8 1831.5,456.2 1834.3,456.7 1837.0,457.1 1839.0,457.5 1840.3,457.7 1840.9,457.8"/><use href="#k1" stroke-width="6" stroke-dasharray="3.2 2.4"/><path id="k2" d="M1643.8,494.4 1643.9,493.5 1644.3,491.9 1644.8,489.4 1645.4,486.1 1646.5,483.1 1648.0,480.5 1649.9,478.2 1652.2,476.2 1654.6,474.6 1657.1,473.4 1659.6,472.7 1662.3,472.4 1665.0,472.4 1667.8,472.7 1670.7,473.4 1673.7,474.3 1676.3,475.8 1678.4,477.6 1680.2,479.8 1681.5,482.5 1682.4,485.3 1682.8,488.2 1682.8,491.4 1682.3,494.7 1681.4,497.8 1680.1,500.6 1678.3,503.1 1676.2,505.4 1673.9,507.4 1671.4,509.1 1668.9,510.4 1666.3,511.4 1663.6,512.2 1661.0,512.9 1658.3,513.4 1655.7,513.7 1653.3,513.6 1651.1,512.9 1649.2,511.7 1647.6,510.1 1646.2,508.0 1645.3,505.5 1644.6,502.6 1644.3,499.3 1644.0,496.8 1643.9,495.2 1643.8,494.4Z"/><use href="#k2" stroke-width="6" stroke-dasharray="3.2 2.4"/><path id="k3" d="M274.6,905.3 275.3,904.6 276.8,903.3 279.0,901.3 282.0,898.7 284.9,896.3 287.7,894.1 290.4,892.2 293.1,890.6 295.7,889.2 298.4,888.2 301.0,887.6 303.7,887.3 306.3,887.2 309.0,887.3 311.6,887.7 314.3,888.4 316.7,889.5 318.8,891.0 320.7,892.9 322.4,895.2 323.9,897.4 325.2,899.6 326.3,901.6 327.3,903.6 327.7,905.6 327.3,907.6 326.3,909.6 324.7,911.6 322.8,913.5 320.6,915.3 318.2,917.0 315.6,918.7 312.9,920.2 310.0,921.6 307.1,922.9 304.2,924.1 301.3,925.0 298.5,925.6 295.7,925.9 293.1,925.9 290.6,925.5 288.3,924.8 286.1,923.6 284.2,922.1 282.2,920.6 280.4,919.0 278.7,917.4 277.0,915.7 275.8,914.5 275.0,913.6 274.6,913.2"/><use href="#k3" stroke-width="6" stroke-dasharray="3.2 2.4"/><path id="k4" d="M620.0,910.6 620.6,910.1 621.9,909.1 623.9,907.6 626.6,905.6 629.4,903.6 632.4,901.6 635.5,899.7 638.8,897.7 642.3,895.7 645.9,893.7 649.7,891.7 653.7,889.7 657.7,888.0 661.6,886.5 665.6,885.3 669.6,884.3 673.7,883.4 678.0,882.7 682.5,882.1 687.1,881.6 691.6,881.5 695.9,881.6 700.0,882.1 704.0,882.9 707.3,883.8 709.9,884.9 711.9,886.1 713.3,887.4 714.3,889.6 715.0,892.5 715.4,896.3 715.6,901.0 715.1,904.8 714.1,907.8 712.6,909.9 710.5,911.2 707.7,912.6 704.4,913.9 700.3,915.2 695.7,916.5 691.1,917.7 686.5,918.8 681.8,919.7 677.2,920.5 672.7,921.2 668.4,921.8 664.3,922.3 660.3,922.7 656.5,922.8 652.9,922.8 649.4,922.5 646.1,922.0 642.8,921.2 639.5,920.3 636.2,919.2 632.9,917.9 629.9,916.5 627.2,915.2 624.9,913.9 622.9,912.6 621.4,911.6 620.5,910.9 620.0,910.6Z"/><use href="#k4" stroke-width="6" stroke-dasharray="3.2 2.4"/><path id="k5" d="M274.6,941.0 275.1,940.8 276.3,940.3 278.0,939.5 280.3,938.5 282.7,937.8 285.2,937.3 287.8,937.0 290.4,937.0 292.9,937.4 295.2,938.0 297.4,939.0 299.4,940.4 301.3,942.2 303.1,944.5 304.8,947.3 306.5,950.6 308.2,954.0 310.0,957.5 311.9,961.0 313.9,964.7 314.8,968.0 314.7,971.0 313.4,973.6 311.1,975.9 308.7,978.5 306.2,981.3 303.7,984.4 301.0,987.7 298.4,991.1 295.7,994.5 293.1,998.1 290.4,1001.7 288.8,1004.9 288.1,1007.5 288.5,1009.7 289.8,1011.3 291.2,1013.3 292.7,1015.6 294.2,1018.3 295.9,1021.2 297.0,1024.4 297.5,1027.7 297.4,1031.2 296.7,1034.8 295.6,1038.6 294.2,1042.6 292.3,1046.7 289.9,1051.0 288.3,1055.2 287.3,1059.1 287.0,1062.9 287.3,1066.6 287.6,1070.0 288.0,1073.1 288.3,1076.0 288.6,1078.6 288.6,1081.6 288.3,1084.9 287.6,1088.6 286.6,1092.5 285.6,1096.5 284.6,1100.5 283.7,1104.4 282.7,1108.4 281.8,1112.2 281.2,1115.9 280.7,1119.3 280.3,1122.6 280.3,1126.0 280.4,1129.3 280.8,1132.6 281.5,1135.9 282.4,1138.9 283.6,1141.5 285.0,1143.8 286.6,1145.8 288.7,1147.5 291.2,1149.0 294.1,1150.3 297.4,1151.3 300.7,1152.7 304.0,1154.5 307.3,1156.7 310.6,1159.4 313.8,1162.0 317.0,1164.7 320.0,1167.3 323.0,1170.0 325.8,1172.8 328.5,1176.0 331.0,1179.4 333.3,1183.0 335.5,1186.7 337.7,1190.3 339.7,1193.9 341.7,1197.6 343.7,1200.5 345.7,1202.8 347.7,1204.3 349.7,1205.2 352.3,1205.6 355.6,1205.6 359.6,1205.2 364.2,1204.3 369.0,1203.5 374.0,1202.8 379.1,1202.0 384.4,1201.4 389.7,1200.6 395.0,1199.6 400.3,1198.4 405.6,1197.1 410.7,1195.7 415.7,1194.2 420.5,1192.6 425.1,1191.0 429.2,1189.5 432.9,1188.2 436.0,1187.0 438.7,1186.0 441.0,1184.5 443.1,1182.5 444.8,1180.0 446.3,1177.1 447.6,1173.8 448.9,1170.4 450.0,1166.6 451.1,1162.7 452.1,1158.7 453.0,1154.7 453.9,1150.8 454.7,1146.8 455.5,1142.8 456.4,1138.9 457.3,1134.9 458.3,1130.9 459.4,1126.9 460.6,1123.0 461.8,1119.0 463.1,1115.0 464.5,1111.3 466.0,1107.8 467.6,1104.6 469.3,1101.6 471.0,1098.8 472.8,1096.2 474.7,1093.7 476.7,1091.4 478.9,1089.2 481.2,1087.2 483.6,1085.4 486.3,1083.8 489.0,1082.3 491.8,1081.0 494.7,1079.8 497.7,1078.8 500.7,1077.9 503.7,1077.1 506.6,1076.3 509.6,1075.7 512.5,1074.8 515.3,1073.6 518.1,1072.2 520.7,1070.5 523.3,1068.7 525.7,1066.7 528.1,1064.6 530.5,1062.3 532.3,1059.5 533.6,1056.4 534.4,1052.8 534.8,1048.9 535.3,1045.1 536.2,1041.4 537.2,1037.9 538.6,1034.6 540.1,1031.7 541.7,1029.0 543.5,1026.7 545.5,1024.7 547.8,1022.8 550.5,1021.0 553.5,1019.3 556.8,1017.6 560.2,1015.9 563.6,1014.3 567.2,1012.6 570.8,1011.0 573.6,1008.6 575.5,1005.4 576.6,1001.6 576.8,996.9 576.6,993.0 576.1,989.6 575.3,987.0 574.1,985.0 573.0,982.7 572.1,980.1 571.3,977.1 570.7,973.8 570.7,971.0 571.3,968.6 572.6,966.8 574.6,965.5 577.1,964.0 580.1,962.4 583.6,960.5 587.5,958.5 591.7,956.6 596.0,954.8 600.4,953.1 605.1,951.4 609.5,949.9 613.8,948.6 618.0,947.5 621.9,946.5 625.7,945.8 629.4,945.5 632.9,945.5 636.2,945.8 639.5,946.5 642.8,947.5 646.1,948.8 649.4,950.4 652.7,951.9 656.0,953.3 659.3,954.4 662.6,955.4 665.9,956.6 669.2,957.9 672.6,959.4 675.9,961.0 678.9,962.7 681.7,964.3 684.3,966.0 686.6,967.6 687.6,969.2 687.3,970.7 685.6,972.1 682.6,973.4 679.3,974.8 675.5,976.1 671.2,977.4 666.6,978.7 662.0,980.1 657.3,981.6 652.7,983.2 648.1,984.8 643.9,986.6 640.3,988.4 637.2,990.3 634.5,992.3 631.9,994.5 629.3,997.0 626.8,999.7 624.3,1002.7 623.0,1005.3 623.0,1007.4 624.3,1009.2 626.8,1010.5 629.5,1011.9 632.4,1013.4 635.5,1015.0 638.8,1016.6 642.0,1018.3 645.2,1019.9 648.2,1021.6 651.2,1023.2 653.5,1025.4 655.1,1028.0 656.0,1031.2 656.2,1034.8 656.0,1038.1 655.5,1041.1 654.7,1043.7 653.5,1046.1 652.2,1048.3 650.8,1050.4 649.2,1052.5 647.6,1054.5 646.9,1056.5 647.2,1058.5 648.6,1060.4 650.9,1062.4 653.2,1064.5 655.5,1066.6 657.8,1068.9 660.2,1071.2 662.3,1073.3 664.3,1075.1 666.1,1076.7 667.8,1078.0 669.1,1079.5 670.2,1081.1 671.0,1082.9 671.6,1084.9 671.8,1087.1 671.7,1089.4 671.4,1091.9 670.7,1094.5 670.0,1097.1 669.4,1099.6 668.7,1102.0 668.1,1104.3 667.6,1106.0 667.2,1107.2 667.1,1107.8"/><use href="#k5" stroke-width="6" stroke-dasharray="3.2 2.4"/><path id="k6" d="M666.3,1119.7 666.4,1120.7 666.8,1122.6 667.3,1125.6 667.9,1129.6 668.4,1133.7 668.8,1138.0 668.9,1142.5 668.9,1147.1 669.0,1151.6 669.2,1155.9 669.4,1160.0 669.7,1164.0 670.2,1167.8 670.7,1171.4 671.2,1174.9 671.9,1178.2 672.8,1181.4 674.0,1184.3 675.4,1187.2 677.0,1189.8 679.0,1192.1 681.3,1194.1 684.0,1195.8 686.9,1197.1 689.8,1198.3 692.7,1199.5 695.4,1200.6 698.0,1201.5 700.5,1202.9 702.8,1204.5 705.0,1206.5 707.0,1208.8 708.9,1211.3 710.7,1214.0 712.4,1216.8 714.1,1219.7 715.6,1222.4 717.0,1224.7 718.3,1226.7 719.4,1228.3 721.0,1230.0 722.9,1231.7 725.1,1233.3 727.8,1235.0 730.8,1236.5 734.1,1237.8 737.7,1238.9 741.7,1239.9 745.7,1240.4 749.6,1240.4 753.6,1239.9 757.6,1238.9 761.5,1237.6 765.5,1236.0 769.5,1234.0 773.4,1231.7 777.1,1229.3 780.4,1226.8 783.4,1224.2 786.0,1221.6 788.6,1218.8 791.1,1215.8 793.5,1212.6 795.8,1209.3 798.0,1206.6 800.2,1204.6 802.2,1203.2 804.2,1202.4 806.4,1202.1 808.9,1202.2 811.7,1202.9 814.6,1204.0 817.7,1205.3 820.8,1206.6 824.1,1208.2 827.4,1209.8 830.5,1211.6 833.5,1213.6 836.3,1215.8 839.0,1218.1 841.3,1220.3 843.3,1222.5 844.9,1224.5 846.2,1226.5 847.6,1228.1 849.1,1229.4 850.7,1230.2 852.4,1230.7 854.2,1230.6 856.2,1230.2 858.3,1229.2 860.6,1227.7 862.7,1225.8 864.5,1223.4 866.1,1220.6 867.4,1217.3 868.6,1213.6 869.6,1209.7 870.4,1205.4 871.0,1200.7 871.8,1196.1 872.6,1191.5 873.5,1186.8 874.5,1182.2 875.7,1177.7 877.0,1173.4 878.5,1169.3 880.1,1165.3 881.9,1161.8 883.7,1158.9 885.6,1156.4 887.6,1154.4 889.7,1152.8 892.1,1151.4 894.5,1150.4 897.2,1149.8 900.0,1149.5 903.0,1149.5 906.1,1150.0 909.4,1150.8 912.7,1151.1 916.0,1150.9 919.3,1150.3 922.7,1149.1 925.8,1148.2 928.8,1147.5 931.6,1147.0 934.2,1146.6 937.0,1146.5 940.0,1146.6 943.2,1146.9 946.5,1147.5 949.6,1147.4 952.6,1146.7 955.4,1145.5 958.1,1143.6 960.7,1141.6 963.3,1139.3 966.0,1136.9 968.6,1134.2 971.5,1131.8 974.4,1129.7 977.6,1127.8 980.9,1126.1 984.2,1124.5 987.5,1122.8 990.8,1121.2 994.1,1119.5 997.3,1117.7 1000.2,1115.7 1003.0,1113.5 1005.7,1111.2 1008.2,1108.9 1010.5,1106.6 1012.6,1104.3 1014.6,1102.0 1016.7,1100.2 1018.8,1099.0 1021.1,1098.3 1023.4,1098.2 1025.5,1098.4 1027.5,1099.1 1029.4,1100.1 1031.0,1101.6 1032.5,1103.3 1033.8,1105.2 1035.0,1107.3 1036.0,1109.6 1037.3,1111.7 1038.9,1113.7 1040.9,1115.5 1043.2,1117.2 1045.7,1118.7 1048.2,1120.0 1050.9,1121.2 1053.7,1122.1 1056.4,1123.0 1059.0,1123.6 1061.6,1124.1 1064.1,1124.5 1066.7,1124.8 1069.3,1125.1 1071.9,1125.5 1074.5,1125.8 1077.1,1125.8 1079.6,1125.4 1082.0,1124.6 1084.3,1123.5 1086.5,1122.7 1088.7,1122.2 1090.7,1122.0 1092.7,1122.1 1094.5,1122.9 1096.2,1124.3 1097.7,1126.3 1099.0,1128.9 1100.2,1132.1 1101.1,1135.7 1102.0,1139.8 1102.6,1144.5 1103.4,1148.9 1104.2,1153.2 1105.1,1157.4 1106.1,1161.4 1107.3,1165.0 1108.8,1168.3 1110.6,1171.3 1112.6,1173.9 1114.7,1176.1 1117.0,1177.8 1119.5,1179.1 1122.2,1179.9 1124.8,1180.6 1127.4,1181.2 1130.1,1181.7 1132.7,1182.1 1134.9,1182.6 1136.7,1183.2 1137.9,1183.8 1138.8,1184.6 1139.8,1185.9 1141.0,1187.6 1142.5,1189.8 1144.1,1192.5 1145.6,1195.4 1146.9,1198.7 1148.1,1202.4 1149.1,1206.3 1150.1,1210.3 1151.1,1214.3 1152.1,1218.3 1153.1,1222.2 1154.2,1225.9 1155.5,1229.2 1157.0,1232.2 1158.7,1234.8 1160.6,1237.1 1162.7,1239.1 1165.1,1240.8 1167.8,1242.1 1170.6,1243.0 1173.6,1243.5 1176.7,1243.6 1180.0,1243.2 1183.5,1242.6 1187.1,1241.6 1190.9,1240.3 1194.9,1238.6 1198.9,1236.9 1202.9,1235.3 1206.8,1233.6 1210.8,1232.0 1214.6,1230.5 1218.2,1229.2 1221.7,1228.0 1225.0,1227.0 1228.2,1226.4 1231.1,1226.3 1234.0,1226.5 1236.6,1227.2 1239.3,1228.3 1241.9,1229.8 1244.5,1231.7 1247.2,1234.0 1249.8,1236.1 1252.5,1238.1 1255.1,1239.9 1257.8,1241.6 1260.4,1242.9 1263.1,1243.7 1265.7,1244.3 1268.4,1244.4 1271.1,1244.4 1273.9,1244.4 1276.8,1244.2 1279.8,1243.9 1282.8,1243.3 1285.7,1242.2 1288.7,1240.8 1291.7,1238.9 1294.5,1236.7 1297.1,1234.1 1299.6,1231.2 1301.9,1227.9 1304.1,1224.2 1306.1,1220.2 1307.9,1215.9 1309.6,1211.3 1311.2,1206.7 1312.9,1202.0 1314.5,1197.4 1316.2,1192.8 1317.8,1188.5 1319.5,1184.5 1321.1,1180.9 1322.8,1177.6 1324.4,1174.9 1325.8,1172.9 1327.3,1171.6 1328.6,1170.9 1330.2,1170.9 1332.2,1171.4 1334.5,1172.4 1337.2,1174.1 1339.8,1175.7 1342.5,1177.1 1345.1,1178.6 1347.8,1179.9 1350.6,1180.4 1353.6,1180.0 1356.7,1178.9 1360.0,1176.9 1363.3,1175.1 1366.6,1173.4 1369.9,1171.9 1373.2,1170.6 1376.6,1169.2 1379.9,1167.7 1383.2,1166.1 1386.5,1164.5 1389.6,1162.7 1392.6,1160.7 1395.4,1158.5 1398.1,1156.2 1400.5,1153.7 1402.9,1150.8 1405.0,1147.8 1407.0,1144.5 1409.0,1141.3 1411.0,1138.4 1412.9,1135.5 1414.9,1132.9 1417.0,1130.6 1419.1,1128.6 1421.4,1126.9 1423.7,1125.6 1426.2,1124.7 1428.8,1124.1 1431.6,1123.9 1434.6,1124.1 1437.5,1124.4 1440.3,1124.7 1443.0,1125.1 1445.7,1125.6 1448.7,1126.0 1452.0,1126.4 1455.6,1126.8 1459.6,1127.1 1463.7,1127.6 1468.0,1128.3 1472.5,1129.1 1477.1,1130.1 1481.6,1131.1 1485.9,1132.1 1490.0,1133.1 1494.0,1134.1 1497.8,1134.6 1501.4,1134.8 1504.9,1134.6 1508.2,1133.9 1511.2,1133.8 1513.8,1134.3 1516.2,1135.4 1518.2,1137.0 1519.8,1139.4 1521.2,1142.3 1522.3,1146.0 1523.1,1150.3 1523.9,1154.5 1524.8,1158.6 1525.6,1162.7 1526.5,1166.6 1527.5,1170.3 1528.8,1173.6 1530.2,1176.6 1531.9,1179.2 1533.6,1181.5 1535.4,1183.4 1537.3,1185.0 1539.3,1186.2 1541.6,1187.1 1544.3,1187.7 1547.3,1188.0 1550.6,1188.0 1553.6,1188.4 1556.2,1189.3 1558.5,1190.6 1560.5,1192.4 1562.3,1194.7 1564.0,1197.4 1565.5,1200.6 1566.8,1204.2 1568.0,1207.9 1569.1,1211.7 1570.1,1215.6 1571.0,1219.6 1572.1,1223.2 1573.3,1226.5 1574.8,1229.5 1576.4,1232.2 1578.2,1234.6 1580.0,1236.7 1581.9,1238.6 1583.9,1240.3 1586.0,1241.6 1588.4,1242.6 1590.8,1243.2 1593.5,1243.6 1596.3,1243.6 1599.3,1243.2 1602.4,1242.6 1605.7,1241.6 1609.2,1240.4 1612.8,1239.1 1616.6,1237.6 1620.6,1236.0 1624.6,1234.2 1628.5,1232.4 1632.5,1230.5 1636.5,1228.5 1640.3,1226.8 1643.9,1225.3 1647.4,1224.0 1650.7,1223.1 1653.9,1222.5 1656.8,1222.3 1659.6,1222.6 1662.3,1223.2 1665.1,1224.2 1668.1,1225.5 1671.2,1227.2 1674.5,1229.2 1677.8,1231.1 1681.2,1232.9 1684.5,1234.6 1687.8,1236.3 1690.9,1237.7 1693.9,1238.8 1696.7,1239.6 1699.3,1240.1 1702.0,1240.3 1704.6,1240.1 1707.3,1239.6 1709.9,1238.7 1712.5,1237.5 1715.0,1235.9 1717.4,1234.0 1719.7,1231.7 1721.9,1228.9 1724.1,1225.8 1726.1,1222.2 1728.1,1218.3 1730.0,1214.1 1731.9,1209.8 1733.6,1205.4 1735.2,1200.7 1736.8,1196.1 1738.3,1191.5 1739.7,1186.8 1741.0,1182.2 1742.4,1178.0 1743.7,1174.2 1745.0,1170.8 1746.3,1167.8 1747.7,1165.6 1749.2,1164.1 1750.8,1163.3 1752.4,1163.3 1754.2,1163.8 1756.0,1164.8 1757.9,1166.3 1759.9,1168.3 1761.9,1170.5 1763.9,1172.8 1765.8,1175.2 1767.8,1177.9 1769.8,1180.2 1771.8,1182.2 1773.8,1183.8 1775.8,1185.2 1777.7,1185.9 1779.5,1186.1 1781.2,1185.7 1782.9,1184.7 1784.6,1183.4 1786.4,1181.9 1788.3,1180.2 1790.3,1178.2 1792.6,1176.6 1795.3,1175.3 1798.3,1174.5 1801.6,1173.9 1804.9,1173.5 1808.2,1173.2 1811.5,1172.9 1814.8,1172.8 1818.0,1172.0 1820.9,1170.6 1823.7,1168.6 1826.4,1166.0 1829.0,1163.0 1831.7,1159.7 1834.3,1156.1 1837.0,1152.1 1839.0,1149.1 1840.3,1147.1 1840.9,1146.1"/><use href="#k6" stroke-width="6" stroke-dasharray="3.2 2.4"/><path d="M275.4,1339.2 304.5,1339.2 362.7,1339.2 424.8,1339.3 490.8,1339.6 545.7,1339.3 589.7,1338.7 618.2,1337.7 631.4,1336.4 643.0,1335.1 652.9,1333.7 654.0,1332.2 646.3,1330.4 636.9,1328.2 625.9,1325.6 623.7,1323.2 630.3,1321.0 641.3,1319.2 656.7,1317.9 678.7,1316.8 707.3,1315.9 730.3,1315.7 747.9,1316.2 767.7,1317.7 789.7,1320.3 812.7,1321.2 836.9,1320.3 857.8,1320.7 875.4,1322.2 886.4,1324.6 890.8,1327.9 889.7,1330.7 883.1,1332.9 883.1,1334.8 889.7,1336.6 899.6,1337.7 912.7,1338.1 925.4,1337.3 937.5,1335.1 940.8,1332.6 935.3,1330.0 930.3,1327.6 925.9,1325.4 929.2,1323.2 940.2,1321.0 954.5,1320.1 972.1,1320.5 989.7,1320.5 1007.3,1320.1 1027.0,1319.2 1049.0,1317.9 1065.9,1317.0 1077.8,1316.4 1090.4,1316.3 1103.6,1316.6 1116.9,1316.4 1130.1,1315.5 1137.5,1314.8 1139.2,1314.4 1144.0,1313.5 1151.9,1312.2 1160.5,1310.9 1169.8,1309.6 1178.4,1309.4 1186.3,1310.3 1194.9,1311.6 1204.2,1313.3 1216.8,1314.2 1232.6,1314.2 1245.2,1313.5 1254.5,1312.2 1265.1,1311.6 1277.0,1311.6 1288.2,1312.5 1298.8,1314.5 1308.7,1316.7 1318.0,1319.1 1325.9,1320.4 1332.5,1320.7 1339.8,1320.0 1347.8,1318.4 1357.0,1317.0 1367.6,1315.7 1378.2,1315.1 1388.8,1315.4 1400.0,1316.1 1412.0,1317.1 1425.8,1317.4 1441.7,1317.0 1458.3,1316.2 1475.5,1314.9 1494.0,1314.4 1513.8,1314.8 1533.7,1314.5 1553.6,1313.4 1564.7,1312.5 1567.1,1311.9 1571.6,1311.6 1578.3,1311.6 1586.2,1311.2 1595.5,1310.6 1605.4,1311.2 1616.0,1313.2 1627.9,1314.5 1641.1,1315.2 1654.4,1315.2 1667.6,1314.5 1680.8,1314.2 1694.1,1314.2 1705.3,1314.2 1714.6,1314.2 1723.2,1315.5 1731.1,1318.2 1739.7,1320.5 1749.0,1322.5 1757.6,1322.7 1765.5,1321.1 1773.5,1319.1 1781.4,1316.7 1792.0,1315.2 1805.2,1314.5 1819.1,1315.1 1833.7,1316.8 1840.9,1317.6" stroke-width="4"/><ellipse cx="352.0" cy="1325.5" rx="42.0" ry="5.0" stroke-width="3.8"/><ellipse cx="812.5" cy="1334.4" rx="19.0" ry="3.5" stroke-width="3.8"/><ellipse cx="1007.3" cy="1334.0" rx="33.0" ry="4.0" stroke-width="3.8"/><ellipse cx="1756.3" cy="1335.4" rx="8.0" ry="3.0" stroke-width="3.8"/></g><path d="M665.4,112.3V629M665.4,820.3V1343" stroke="#f2fbf8" stroke-width="1.5" fill="none" opacity=".93"/><path d="M1057.8,112.3V629M1057.8,820.3V1343" stroke="#f2fbf8" stroke-width="1.5" fill="none" opacity=".93"/><path d="M1449.8,112.3V629M1449.8,820.3V1343" stroke="#f2fbf8" stroke-width="1.5" fill="none" opacity=".93"/><rect x="1379" y="0" width="517" height="217.7" fill="#fff"/><rect x="1379" y="700" width="517" height="265.6" fill="#fff"/><rect x="1088" y="700" width="300" height="169" fill="#fff"/><rect x="1501" y="9.6" width="336.4" height="111.4" fill="url(#vg)"/><rect x="1501" y="756.5" width="336.4" height="112.8" fill="url(#vg)"/><defs><linearGradient id="vg"><stop offset="0" stop-color="#440154"/><stop offset="0.05" stop-color="#471365"/><stop offset="0.1" stop-color="#482475"/><stop offset="0.15" stop-color="#463480"/><stop offset="0.2" stop-color="#414487"/><stop offset="0.25" stop-color="#3b528b"/><stop offset="0.3" stop-color="#355f8d"/><stop offset="0.35" stop-color="#2f6c8e"/><stop offset="0.4" stop-color="#2a788e"/><stop offset="0.45" stop-color="#25848e"/><stop offset="0.5" stop-color="#21918c"/><stop offset="0.55" stop-color="#1e9c89"/><stop offset="0.6" stop-color="#22a884"/><stop offset="0.65" stop-color="#2fb47c"/><stop offset="0.7" stop-color="#44bf70"/><stop offset="0.75" stop-color="#5ec962"/><stop offset="0.8" stop-color="#7ad151"/><stop offset="0.85" stop-color="#9bd93c"/><stop offset="0.9" stop-color="#bddf26"/><stop offset="0.95" stop-color="#dfe318"/><stop offset="1" stop-color="#fde725"/></linearGradient></defs><path d="M274.7,112.3V630.4H1841.0" fill="none" stroke="#000" stroke-width="2.5" stroke-linejoin="miter"/><path d="M274.7,143.0h9" stroke="#000" stroke-width="1.1"/><path d="M274.7,172.6h9" stroke="#000" stroke-width="1.1"/><path d="M274.7,202.1h9" stroke="#000" stroke-width="1.1"/><path d="M274.7,231.6h9" stroke="#000" stroke-width="1.1"/><path d="M274.7,290.7h9" stroke="#000" stroke-width="1.1"/><path d="M274.7,320.3h9" stroke="#000" stroke-width="1.1"/><path d="M274.7,349.8h9" stroke="#000" stroke-width="1.1"/><path d="M274.7,379.3h9" stroke="#000" stroke-width="1.1"/><path d="M274.7,438.4h9" stroke="#000" stroke-width="1.1"/><path d="M274.7,467.9h9" stroke="#000" stroke-width="1.1"/><path d="M274.7,497.5h9" stroke="#000" stroke-width="1.1"/><path d="M274.7,527.0h9" stroke="#000" stroke-width="1.1"/><path d="M274.7,586.1h9" stroke="#000" stroke-width="1.1"/><path d="M274.7,615.6h9" stroke="#000" stroke-width="1.1"/><path d="M274.7,113.5h13.8M274.7,261.2h13.8M274.7,408.9h13.8M274.7,556.6h13.8" stroke="#000" stroke-width="2.5" fill="none"/><path d="M319.3,630.4v-8.5" stroke="#000" stroke-width="1.1"/><path d="M363.3,630.4v-8.5" stroke="#000" stroke-width="1.1"/><path d="M407.4,630.4v-8.5" stroke="#000" stroke-width="1.1"/><path d="M451.4,630.4v-8.5" stroke="#000" stroke-width="1.1"/><path d="M539.6,630.4v-8.5" stroke="#000" stroke-width="1.1"/><path d="M583.6,630.4v-8.5" stroke="#000" stroke-width="1.1"/><path d="M627.7,630.4v-8.5" stroke="#000" stroke-width="1.1"/><path d="M671.7,630.4v-8.5" stroke="#000" stroke-width="1.1"/><path d="M759.9,630.4v-8.5" stroke="#000" stroke-width="1.1"/><path d="M803.9,630.4v-8.5" stroke="#000" stroke-width="1.1"/><path d="M848.0,630.4v-8.5" stroke="#000" stroke-width="1.1"/><path d="M892.0,630.4v-8.5" stroke="#000" stroke-width="1.1"/><path d="M980.2,630.4v-8.5" stroke="#000" stroke-width="1.1"/><path d="M1024.2,630.4v-8.5" stroke="#000" stroke-width="1.1"/><path d="M1068.3,630.4v-8.5" stroke="#000" stroke-width="1.1"/><path d="M1112.3,630.4v-8.5" stroke="#000" stroke-width="1.1"/><path d="M1200.5,630.4v-8.5" stroke="#000" stroke-width="1.1"/><path d="M1244.5,630.4v-8.5" stroke="#000" stroke-width="1.1"/><path d="M1288.6,630.4v-8.5" stroke="#000" stroke-width="1.1"/><path d="M1332.6,630.4v-8.5" stroke="#000" stroke-width="1.1"/><path d="M1420.8,630.4v-8.5" stroke="#000" stroke-width="1.1"/><path d="M1464.8,630.4v-8.5" stroke="#000" stroke-width="1.1"/><path d="M1508.9,630.4v-8.5" stroke="#000" stroke-width="1.1"/><path d="M1552.9,630.4v-8.5" stroke="#000" stroke-width="1.1"/><path d="M1641.1,630.4v-8.5" stroke="#000" stroke-width="1.1"/><path d="M1685.1,630.4v-8.5" stroke="#000" stroke-width="1.1"/><path d="M1729.2,630.4v-8.5" stroke="#000" stroke-width="1.1"/><path d="M1773.2,630.4v-8.5" stroke="#000" stroke-width="1.1"/><path d="M495.5,630.4v-13.8M715.8,630.4v-13.8M936.1,630.4v-13.8M1156.4,630.4v-13.8M1376.7,630.4v-13.8M1597.0,630.4v-13.8M1817.3,630.4v-13.8" stroke="#000" stroke-width="2.5" fill="none"/><text transform="translate(256.5,140.0) scale(1,1.04)" font-size="75" text-anchor="end">0.25</text><text transform="translate(254.8,287.7) scale(1,1.04)" font-size="75" text-anchor="end">0.2</text><text transform="translate(256.5,435.4) scale(1,1.04)" font-size="75" text-anchor="end">0.15</text><text transform="translate(256.5,583.1) scale(1,1.04)" font-size="75" text-anchor="end">0.1</text><text transform="translate(274.4,695.8) scale(1,1.04)" font-size="75" text-anchor="middle">0</text><text transform="translate(494.7,695.8) scale(1,1.04)" font-size="75" text-anchor="middle">1</text><text transform="translate(715.0,695.8) scale(1,1.04)" font-size="75" text-anchor="middle">2</text><text transform="translate(935.3,695.8) scale(1,1.04)" font-size="75" text-anchor="middle">3</text><text transform="translate(1155.6,695.8) scale(1,1.04)" font-size="75" text-anchor="middle">4</text><text transform="translate(1375.9,695.8) scale(1,1.04)" font-size="75" text-anchor="middle">5</text><text transform="translate(1596.2,695.8) scale(1,1.04)" font-size="75" text-anchor="middle">6</text><text transform="translate(1816.5,695.8) scale(1,1.04)" font-size="75" text-anchor="middle">7</text><path d="M274.7,820.3V1344.7H1841.0" fill="none" stroke="#000" stroke-width="2.5" stroke-linejoin="miter"/><path d="M274.7,851.4h9" stroke="#000" stroke-width="1.1"/><path d="M274.7,881.3h9" stroke="#000" stroke-width="1.1"/><path d="M274.7,911.2h9" stroke="#000" stroke-width="1.1"/><path d="M274.7,941.1h9" stroke="#000" stroke-width="1.1"/><path d="M274.7,1000.9h9" stroke="#000" stroke-width="1.1"/><path d="M274.7,1030.8h9" stroke="#000" stroke-width="1.1"/><path d="M274.7,1060.7h9" stroke="#000" stroke-width="1.1"/><path d="M274.7,1090.6h9" stroke="#000" stroke-width="1.1"/><path d="M274.7,1150.4h9" stroke="#000" stroke-width="1.1"/><path d="M274.7,1180.3h9" stroke="#000" stroke-width="1.1"/><path d="M274.7,1210.2h9" stroke="#000" stroke-width="1.1"/><path d="M274.7,1240.1h9" stroke="#000" stroke-width="1.1"/><path d="M274.7,1299.9h9" stroke="#000" stroke-width="1.1"/><path d="M274.7,1329.8h9" stroke="#000" stroke-width="1.1"/><path d="M274.7,821.5h13.8M274.7,971.0h13.8M274.7,1120.5h13.8M274.7,1270.0h13.8" stroke="#000" stroke-width="2.5" fill="none"/><path d="M319.3,1344.7v-8.5" stroke="#000" stroke-width="1.1"/><path d="M363.3,1344.7v-8.5" stroke="#000" stroke-width="1.1"/><path d="M407.4,1344.7v-8.5" stroke="#000" stroke-width="1.1"/><path d="M451.4,1344.7v-8.5" stroke="#000" stroke-width="1.1"/><path d="M539.6,1344.7v-8.5" stroke="#000" stroke-width="1.1"/><path d="M583.6,1344.7v-8.5" stroke="#000" stroke-width="1.1"/><path d="M627.7,1344.7v-8.5" stroke="#000" stroke-width="1.1"/><path d="M671.7,1344.7v-8.5" stroke="#000" stroke-width="1.1"/><path d="M759.9,1344.7v-8.5" stroke="#000" stroke-width="1.1"/><path d="M803.9,1344.7v-8.5" stroke="#000" stroke-width="1.1"/><path d="M848.0,1344.7v-8.5" stroke="#000" stroke-width="1.1"/><path d="M892.0,1344.7v-8.5" stroke="#000" stroke-width="1.1"/><path d="M980.2,1344.7v-8.5" stroke="#000" stroke-width="1.1"/><path d="M1024.2,1344.7v-8.5" stroke="#000" stroke-width="1.1"/><path d="M1068.3,1344.7v-8.5" stroke="#000" stroke-width="1.1"/><path d="M1112.3,1344.7v-8.5" stroke="#000" stroke-width="1.1"/><path d="M1200.5,1344.7v-8.5" stroke="#000" stroke-width="1.1"/><path d="M1244.5,1344.7v-8.5" stroke="#000" stroke-width="1.1"/><path d="M1288.6,1344.7v-8.5" stroke="#000" stroke-width="1.1"/><path d="M1332.6,1344.7v-8.5" stroke="#000" stroke-width="1.1"/><path d="M1420.8,1344.7v-8.5" stroke="#000" stroke-width="1.1"/><path d="M1464.8,1344.7v-8.5" stroke="#000" stroke-width="1.1"/><path d="M1508.9,1344.7v-8.5" stroke="#000" stroke-width="1.1"/><path d="M1552.9,1344.7v-8.5" stroke="#000" stroke-width="1.1"/><path d="M1641.1,1344.7v-8.5" stroke="#000" stroke-width="1.1"/><path d="M1685.1,1344.7v-8.5" stroke="#000" stroke-width="1.1"/><path d="M1729.2,1344.7v-8.5" stroke="#000" stroke-width="1.1"/><path d="M1773.2,1344.7v-8.5" stroke="#000" stroke-width="1.1"/><path d="M495.5,1344.7v-13.8M715.8,1344.7v-13.8M936.1,1344.7v-13.8M1156.4,1344.7v-13.8M1376.7,1344.7v-13.8M1597.0,1344.7v-13.8M1817.3,1344.7v-13.8" stroke="#000" stroke-width="2.5" fill="none"/><text transform="translate(256.5,848.0) scale(1,1.04)" font-size="75" text-anchor="end">0.25</text><text transform="translate(254.8,997.5) scale(1,1.04)" font-size="75" text-anchor="end">0.2</text><text transform="translate(256.5,1147.0) scale(1,1.04)" font-size="75" text-anchor="end">0.15</text><text transform="translate(256.5,1296.5) scale(1,1.04)" font-size="75" text-anchor="end">0.1</text><text transform="translate(274.4,1410.2) scale(1,1.04)" font-size="75" text-anchor="middle">0</text><text transform="translate(494.7,1410.2) scale(1,1.04)" font-size="75" text-anchor="middle">1</text><text transform="translate(715.0,1410.2) scale(1,1.04)" font-size="75" text-anchor="middle">2</text><text transform="translate(935.3,1410.2) scale(1,1.04)" font-size="75" text-anchor="middle">3</text><text transform="translate(1155.6,1410.2) scale(1,1.04)" font-size="75" text-anchor="middle">4</text><text transform="translate(1375.9,1410.2) scale(1,1.04)" font-size="75" text-anchor="middle">5</text><text transform="translate(1596.2,1410.2) scale(1,1.04)" font-size="75" text-anchor="middle">6</text><text transform="translate(1816.5,1410.2) scale(1,1.04)" font-size="75" text-anchor="middle">7</text><text transform="translate(59.6,468.5) rotate(-90) scale(1,1.04)" font-size="83">z<tspan font-size="50" dy="24">rel</tspan><tspan dy="-24"> [-]</tspan></text><text transform="translate(59.6,1179.7) rotate(-90) scale(1,1.04)" font-size="83">z<tspan font-size="50" dy="24">rel</tspan><tspan dy="-24"> [-]</tspan></text><text transform="translate(1094.7,84.6) scale(1,1.04)" font-size="83">|F<tspan font-size="50" dy="24">x</tspan><tspan dy="-24">| [N m</tspan><tspan font-size="50" dy="-40.4">-1</tspan><tspan dy="40.4">]</tspan></text><text transform="translate(1097.5,836.6) scale(1,1.04)" font-size="83">|F<tspan font-size="50" dy="24">y</tspan><tspan dy="-24">| [N m</tspan><tspan font-size="50" dy="-40.4">-1</tspan><tspan dy="40.4">]</tspan></text><text transform="translate(1504.0,211.0) scale(1,1.04)" font-size="75" text-anchor="middle">600</text><text transform="translate(1669.0,211.0) scale(1,1.04)" font-size="75" text-anchor="middle">750</text><text transform="translate(1833.4,211.0) scale(1,1.04)" font-size="75" text-anchor="middle">900</text><text transform="translate(1504.0,959.5) scale(1,1.04)" font-size="75" text-anchor="middle">350</text><text transform="translate(1668.0,959.5) scale(1,1.04)" font-size="75" text-anchor="middle">400</text><text transform="translate(1832.4,959.5) scale(1,1.04)" font-size="75" text-anchor="middle">450</text><text transform="translate(327.0,282.6) scale(1,1.04)" font-size="75">750</text><text transform="translate(320.8,427.0) scale(1,1.04)" font-size="75">625</text><text transform="translate(319.0,1160.7) scale(1,1.04)" font-size="75">400</text><path d="M275.7,1964.8H1841.0M275.7,1929.5H1841.0M275.7,1858.7H1841.0M275.7,1823.4H1841.0M275.7,1788.0H1841.0M275.7,1752.7H1841.0M275.7,1681.9H1841.0M275.7,1646.6H1841.0M275.7,1611.2H1841.0M275.7,1575.9H1841.0M275.7,1505.1H1841.0M275.7,1469.8H1841.0" stroke="#3a3a3a" stroke-width="1.1" stroke-dasharray="2 3" fill="none"/><path d="M274.7,1894.1H1841.0M274.7,1717.3H1841.0M274.7,1540.5H1841.0M495.5,1451.5V1982.3M715.8,1451.5V1982.3M936.1,1451.5V1982.3M1156.4,1451.5V1982.3M1376.7,1451.5V1982.3M1597.0,1451.5V1982.3M1817.3,1451.5V1982.3" stroke="#111" stroke-width="1.1" fill="none"/><path d="M274.7,1451.5V1982.3H1841.0" fill="none" stroke="#000" stroke-width="2.8"/><path d="M274.7,1964.8h9" stroke="#000" stroke-width="1.1"/><path d="M274.7,1929.5h9" stroke="#000" stroke-width="1.1"/><path d="M274.7,1858.7h9" stroke="#000" stroke-width="1.1"/><path d="M274.7,1823.4h9" stroke="#000" stroke-width="1.1"/><path d="M274.7,1788.0h9" stroke="#000" stroke-width="1.1"/><path d="M274.7,1752.7h9" stroke="#000" stroke-width="1.1"/><path d="M274.7,1681.9h9" stroke="#000" stroke-width="1.1"/><path d="M274.7,1646.6h9" stroke="#000" stroke-width="1.1"/><path d="M274.7,1611.2h9" stroke="#000" stroke-width="1.1"/><path d="M274.7,1575.9h9" stroke="#000" stroke-width="1.1"/><path d="M274.7,1505.1h9" stroke="#000" stroke-width="1.1"/><path d="M274.7,1469.8h9" stroke="#000" stroke-width="1.1"/><path d="M319.3,1982.3v-8.5" stroke="#000" stroke-width="1.1"/><path d="M363.3,1982.3v-8.5" stroke="#000" stroke-width="1.1"/><path d="M407.4,1982.3v-8.5" stroke="#000" stroke-width="1.1"/><path d="M451.4,1982.3v-8.5" stroke="#000" stroke-width="1.1"/><path d="M539.6,1982.3v-8.5" stroke="#000" stroke-width="1.1"/><path d="M583.6,1982.3v-8.5" stroke="#000" stroke-width="1.1"/><path d="M627.7,1982.3v-8.5" stroke="#000" stroke-width="1.1"/><path d="M671.7,1982.3v-8.5" stroke="#000" stroke-width="1.1"/><path d="M759.9,1982.3v-8.5" stroke="#000" stroke-width="1.1"/><path d="M803.9,1982.3v-8.5" stroke="#000" stroke-width="1.1"/><path d="M848.0,1982.3v-8.5" stroke="#000" stroke-width="1.1"/><path d="M892.0,1982.3v-8.5" stroke="#000" stroke-width="1.1"/><path d="M980.2,1982.3v-8.5" stroke="#000" stroke-width="1.1"/><path d="M1024.2,1982.3v-8.5" stroke="#000" stroke-width="1.1"/><path d="M1068.3,1982.3v-8.5" stroke="#000" stroke-width="1.1"/><path d="M1112.3,1982.3v-8.5" stroke="#000" stroke-width="1.1"/><path d="M1200.5,1982.3v-8.5" stroke="#000" stroke-width="1.1"/><path d="M1244.5,1982.3v-8.5" stroke="#000" stroke-width="1.1"/><path d="M1288.6,1982.3v-8.5" stroke="#000" stroke-width="1.1"/><path d="M1332.6,1982.3v-8.5" stroke="#000" stroke-width="1.1"/><path d="M1420.8,1982.3v-8.5" stroke="#000" stroke-width="1.1"/><path d="M1464.8,1982.3v-8.5" stroke="#000" stroke-width="1.1"/><path d="M1508.9,1982.3v-8.5" stroke="#000" stroke-width="1.1"/><path d="M1552.9,1982.3v-8.5" stroke="#000" stroke-width="1.1"/><path d="M1641.1,1982.3v-8.5" stroke="#000" stroke-width="1.1"/><path d="M1685.1,1982.3v-8.5" stroke="#000" stroke-width="1.1"/><path d="M1729.2,1982.3v-8.5" stroke="#000" stroke-width="1.1"/><path d="M1773.2,1982.3v-8.5" stroke="#000" stroke-width="1.1"/><path d="M274.7,1894.1h13.8M274.7,1717.3h13.8M274.7,1540.5h13.8M495.5,1982.3v-13.8M715.8,1982.3v-13.8M936.1,1982.3v-13.8M1156.4,1982.3v-13.8M1376.7,1982.3v-13.8M1597.0,1982.3v-13.8M1817.3,1982.3v-13.8" stroke="#000" stroke-width="2.5" fill="none"/><clipPath id="c3"><rect x="270" y="1452.0" width="1575" height="531.8"/></clipPath><g clip-path="url(#c3)" fill="none" stroke="#000" stroke-linejoin="round"><path id="k9" d="M275.2,1717.3 278.9,1712.0 286.3,1701.5 291.7,1690.2 295.1,1678.1 299.5,1669.3 304.9,1664.0 308.6,1663.3 310.6,1667.4 312.6,1674.1 314.7,1683.4 316.7,1694.2 318.7,1706.4 320.5,1714.5 322.2,1718.5 324.2,1717.1 326.6,1710.4 329.2,1697.6 331.8,1678.8 334.5,1662.3 337.3,1648.2 339.5,1642.1 341.3,1644.0 342.9,1654.4 344.5,1673.4 346.1,1696.3 347.9,1723.3 349.7,1740.5 351.6,1747.9 353.7,1747.2 356.2,1738.5 358.7,1728.0 361.5,1715.8 364.2,1703.0 366.8,1689.5 369.5,1675.4 372.3,1660.5 375.3,1647.1 378.6,1635.0 381.3,1627.9 383.4,1625.9 386.0,1624.5 388.9,1623.9 391.6,1620.2 394.1,1613.4 396.3,1608.7 398.2,1606.0 400.2,1606.0 402.2,1608.7 404.2,1614.7 406.3,1624.2 408.0,1635.0 409.4,1647.1 410.9,1658.5 412.7,1669.3 414.4,1680.7 416.0,1692.9 417.8,1703.3 419.8,1712.0 422.4,1718.1 425.4,1721.6 427.8,1726.7 429.5,1733.4 431.0,1742.1 432.3,1752.9 433.6,1766.4 434.9,1782.6 436.2,1797.4 437.6,1810.8 438.9,1827.0 440.4,1845.8 441.7,1865.4 443.1,1885.7 444.4,1905.1 445.7,1923.7 447.0,1940.5 448.4,1955.5 449.7,1967.5 451.2,1976.3 452.5,1979.8 453.9,1978.1 455.2,1967.5 456.5,1948.0 457.7,1925.0 458.8,1898.5 459.9,1875.1 460.9,1854.8 461.8,1834.4 462.7,1814.1 463.7,1792.4 464.8,1769.5 466.0,1747.8 467.3,1727.5 468.8,1711.4 470.4,1699.5 472.5,1690.2 474.9,1683.5 477.4,1676.1 480.1,1668.0 482.4,1662.6 484.5,1659.9 486.5,1659.9 488.2,1662.6 489.9,1668.6 491.4,1678.1 493.2,1688.9 495.3,1701.0 497.7,1712.4 500.3,1723.2 503.0,1733.3 505.8,1742.7 508.5,1750.8 511.1,1757.6 513.7,1762.4 516.3,1765.3 519.0,1767.0 521.8,1767.5 525.0,1766.0 528.4,1762.6 532.1,1758.6 536.0,1753.9 540.4,1748.9 545.1,1743.5 549.2,1737.1 552.6,1729.7 555.6,1723.9 558.1,1719.9 561.5,1716.8 565.7,1714.8 571.1,1713.6 577.8,1713.2 584.6,1711.7 591.3,1708.9 597.3,1706.8 602.7,1705.2 607.5,1704.9 611.5,1706.0 615.6,1708.0 619.7,1711.0 623.8,1714.9 627.8,1719.6 632.6,1723.2 638.1,1725.9 643.5,1726.8 648.7,1725.9 653.3,1724.2 657.4,1721.7 660.8,1719.0 663.7,1716.1 666.4,1713.1 668.9,1710.0 673.6,1708.6 680.3,1709.0 685.3,1707.0 688.8,1702.5 692.1,1696.6 695.4,1689.2 698.5,1680.1 701.2,1669.3 703.9,1659.9 706.5,1651.8 709.0,1643.1 711.3,1633.6 713.7,1627.0 716.0,1623.2 718.3,1622.5 720.8,1625.0 723.0,1629.6 724.9,1636.3 727.0,1645.1 729.1,1655.9 730.8,1665.3 732.1,1673.3 733.6,1682.7 735.2,1693.5 736.9,1701.6 738.7,1707.0 740.9,1710.1 743.6,1710.8 746.2,1710.8 748.8,1710.1 751.5,1709.0 754.3,1707.7 756.6,1708.4 758.3,1711.2 759.9,1717.9 761.2,1728.7 762.5,1739.4 763.8,1750.1 765.3,1759.2 767.0,1766.6 769.0,1772.0 771.4,1775.4 773.8,1778.8 776.1,1782.2 778.3,1782.2 780.2,1778.8 782.6,1773.7 785.2,1767.0 787.9,1760.9 790.6,1755.5 793.0,1748.2 795.0,1738.8 796.9,1726.7 798.6,1711.8 800.3,1697.6 802.0,1684.1 804.1,1669.3 806.8,1653.1 809.4,1639.6 812.1,1628.9 814.8,1619.5 817.5,1611.4 819.7,1606.0 821.4,1603.4 822.9,1604.7 824.2,1610.1 825.5,1618.9 826.8,1631.0 828.4,1643.8 830.1,1657.2 831.9,1669.3 833.7,1680.1 835.5,1688.2 837.4,1693.6 839.3,1698.3 841.4,1702.4 843.3,1708.4 845.0,1716.5 846.4,1727.9 847.8,1742.8 849.1,1760.3 850.6,1780.6 852.1,1799.4 853.6,1816.9 855.0,1833.1 856.4,1847.8 857.7,1858.9 859.2,1866.3 860.4,1870.4 861.4,1871.1 862.7,1868.8 864.3,1863.4 865.8,1856.7 867.1,1848.6 868.5,1837.8 870.0,1824.3 871.3,1809.5 872.7,1793.3 874.0,1777.8 875.3,1762.9 877.0,1748.8 879.1,1735.3 881.1,1723.9 883.1,1714.4 885.3,1707.4 887.7,1702.7 890.3,1699.4 892.9,1697.7 895.6,1697.5 898.2,1698.9 901.2,1701.5 904.7,1705.2 907.7,1710.1 910.3,1716.1 913.0,1721.3 915.8,1725.8 918.1,1726.9 920.1,1724.5 922.2,1721.4 924.3,1717.6 926.3,1715.0 928.3,1713.7 930.1,1714.3 931.7,1716.6 933.4,1721.9 935.1,1730.0 936.9,1737.4 939.0,1744.0 941.1,1751.1 943.0,1758.6 945.0,1764.4 947.0,1768.4 948.8,1770.8 950.5,1771.8 952.5,1770.5 954.9,1766.8 957.5,1763.7 960.1,1760.9 962.8,1758.4 965.6,1756.1 968.3,1752.7 970.9,1748.3 973.6,1743.8 976.4,1739.1 979.1,1734.4 981.7,1729.6 984.7,1725.2 988.1,1721.1 991.2,1718.1 993.8,1716.2 997.5,1715.5 1002.2,1716.1 1006.7,1716.1 1010.7,1715.5 1014.4,1713.5 1017.7,1710.1 1021.1,1707.3 1024.5,1705.0 1028.2,1704.5 1032.2,1705.9 1036.2,1707.3 1040.2,1708.9 1044.0,1710.5 1047.4,1712.2 1050.1,1714.6 1052.1,1717.6 1054.1,1721.1 1056.1,1725.2 1057.7,1729.6 1059.0,1734.4 1060.7,1739.4 1062.8,1744.7 1064.6,1751.4 1066.2,1759.6 1067.8,1767.0 1069.6,1773.7 1071.1,1778.0 1072.5,1780.0 1073.8,1779.2 1075.3,1775.6 1076.7,1769.9 1078.0,1761.9 1079.3,1753.3 1080.6,1744.0 1081.9,1735.4 1083.3,1727.3 1085.0,1719.9 1087.1,1713.1 1089.1,1708.7 1091.1,1706.6 1093.4,1706.3 1096.0,1707.8 1098.7,1709.6 1101.5,1711.9 1104.2,1713.2 1106.8,1713.6 1109.9,1712.7 1113.3,1710.7 1116.6,1707.0 1119.9,1701.6 1123.3,1696.2 1126.7,1690.8 1130.1,1684.8 1133.4,1678.2 1136.1,1671.5 1138.2,1664.7 1140.2,1659.9 1142.2,1657.1 1144.2,1656.1 1146.2,1656.8 1148.2,1660.3 1150.3,1666.5 1152.2,1673.1 1153.8,1680.2 1155.4,1687.5 1157.0,1695.1 1158.7,1702.0 1160.7,1708.1 1162.5,1711.8 1164.2,1713.1 1165.9,1711.7 1167.6,1707.7 1169.5,1702.3 1171.5,1695.6 1173.7,1690.9 1176.1,1688.2 1178.5,1687.9 1180.8,1689.9 1183.1,1694.0 1185.4,1700.0 1187.5,1708.7 1189.2,1720.2 1190.8,1731.3 1192.1,1742.0 1193.4,1750.8 1194.7,1757.6 1196.1,1761.6 1197.4,1763.0 1198.8,1762.3 1200.2,1759.6 1201.6,1753.6 1202.9,1744.1 1204.4,1733.3 1206.2,1721.2 1208.0,1710.4 1209.9,1701.0 1211.9,1692.5 1214.0,1685.1 1216.5,1678.1 1219.5,1671.3 1222.0,1664.6 1224.1,1657.9 1226.2,1651.2 1228.4,1644.5 1231.1,1638.0 1234.2,1631.9 1237.4,1627.2 1240.8,1623.9 1244.0,1621.3 1247.0,1619.5 1249.1,1620.5 1250.5,1624.3 1251.8,1631.6 1253.1,1642.4 1254.7,1654.5 1256.4,1668.0 1258.2,1682.8 1259.9,1699.0 1261.6,1713.1 1263.3,1725.2 1264.9,1735.3 1266.4,1743.3 1268.1,1750.4 1269.9,1756.5 1271.6,1764.6 1273.4,1774.8 1275.1,1784.6 1276.7,1793.9 1278.2,1803.4 1279.5,1812.8 1280.9,1820.9 1282.2,1827.6 1283.5,1835.7 1284.8,1845.2 1286.2,1853.9 1287.6,1862.0 1289.0,1868.6 1290.3,1873.7 1291.7,1876.1 1293.0,1875.7 1294.3,1872.5 1295.6,1866.4 1297.0,1857.3 1298.4,1845.2 1299.7,1830.3 1300.6,1812.7 1301.6,1795.2 1302.6,1777.8 1303.6,1761.7 1304.4,1746.8 1305.6,1734.7 1307.0,1725.2 1308.4,1715.8 1309.7,1706.4 1311.3,1699.4 1313.0,1694.6 1314.8,1692.4 1316.6,1692.9 1318.2,1694.9 1319.8,1698.5 1321.3,1704.0 1323.0,1711.5 1324.7,1717.9 1326.5,1723.3 1328.0,1726.6 1329.3,1728.0 1331.3,1727.6 1334.0,1725.6 1336.7,1724.5 1339.4,1724.5 1341.8,1726.2 1343.8,1729.6 1345.8,1734.0 1347.9,1739.4 1349.9,1742.9 1351.9,1744.6 1354.2,1743.6 1356.9,1739.8 1359.6,1736.7 1362.3,1734.0 1365.0,1732.0 1367.7,1730.7 1370.4,1730.3 1373.1,1731.0 1375.8,1732.1 1378.5,1733.8 1380.8,1735.5 1382.8,1737.1 1384.8,1740.3 1386.9,1745.0 1388.9,1750.8 1390.9,1757.6 1392.8,1763.3 1394.5,1768.0 1396.1,1771.2 1397.4,1773.0 1398.7,1773.0 1400.1,1771.2 1401.4,1768.0 1402.9,1763.3 1404.3,1756.9 1405.9,1748.8 1407.3,1738.6 1408.6,1726.5 1410.0,1715.1 1411.5,1704.3 1412.9,1696.2 1414.5,1690.8 1416.3,1687.2 1418.4,1685.2 1420.3,1685.6 1422.1,1688.2 1424.2,1692.2 1426.6,1697.6 1428.9,1702.7 1431.1,1707.4 1433.6,1711.7 1436.3,1715.8 1438.9,1718.4 1441.2,1719.4 1443.6,1719.4 1446.0,1718.4 1448.5,1716.8 1451.2,1714.8 1454.1,1713.0 1457.4,1711.4 1460.5,1710.9 1463.2,1711.6 1466.3,1713.1 1469.6,1715.3 1473.2,1718.1 1477.3,1721.6 1481.1,1726.3 1484.5,1732.3 1487.5,1737.4 1490.2,1741.4 1492.5,1743.8 1494.5,1744.4 1496.5,1743.0 1498.6,1739.7 1500.7,1735.3 1502.9,1729.9 1505.1,1724.9 1507.3,1720.2 1509.6,1717.0 1511.9,1715.4 1514.7,1714.9 1518.0,1715.4 1521.4,1715.9 1524.8,1716.2 1528.2,1715.4 1531.5,1713.5 1534.8,1710.1 1538.2,1705.4 1541.3,1700.3 1543.9,1694.9 1546.3,1690.2 1548.4,1686.2 1550.7,1682.5 1553.4,1679.1 1555.9,1674.3 1558.3,1668.3 1560.9,1662.3 1563.7,1656.2 1566.4,1651.7 1569.0,1648.7 1571.5,1648.1 1573.8,1649.7 1575.9,1653.8 1577.6,1660.5 1579.3,1669.3 1580.8,1680.1 1582.4,1689.9 1584.1,1698.6 1586.1,1705.4 1588.5,1710.1 1590.7,1715.5 1592.7,1721.4 1594.8,1728.1 1597.0,1735.6 1599.0,1740.1 1600.7,1741.4 1602.5,1739.7 1604.3,1735.0 1605.9,1729.0 1607.5,1721.5 1609.1,1715.1 1610.7,1709.7 1612.4,1706.0 1614.2,1704.0 1615.9,1704.0 1617.7,1706.0 1619.4,1710.8 1621.1,1718.2 1622.9,1725.3 1624.9,1732.0 1626.7,1737.7 1628.5,1742.4 1630.2,1745.1 1631.9,1745.8 1633.7,1743.1 1635.7,1737.1 1637.5,1728.7 1639.3,1717.9 1641.0,1706.4 1642.7,1694.2 1644.3,1683.4 1645.8,1674.1 1647.7,1666.0 1649.9,1659.2 1651.9,1651.8 1653.8,1643.7 1655.8,1636.3 1658.0,1629.6 1660.4,1624.2 1663.1,1620.1 1665.8,1616.4 1668.5,1613.1 1670.9,1612.4 1672.7,1614.4 1674.5,1618.8 1676.3,1625.5 1678.1,1633.6 1679.8,1643.1 1681.4,1653.2 1682.7,1664.0 1684.2,1676.1 1685.8,1689.5 1687.3,1703.0 1688.6,1716.5 1690.0,1729.3 1691.3,1741.3 1692.8,1752.1 1694.4,1761.5 1696.1,1769.0 1697.9,1774.4 1699.8,1779.1 1701.8,1783.2 1703.6,1787.9 1705.2,1793.3 1706.7,1800.0 1708.0,1808.2 1709.4,1815.6 1710.8,1822.3 1712.1,1830.4 1713.0,1839.9 1714.1,1848.6 1715.2,1856.7 1716.3,1863.7 1717.4,1869.8 1718.6,1873.2 1719.8,1873.8 1720.9,1872.1 1722.0,1868.0 1723.0,1862.0 1723.9,1853.9 1724.8,1843.2 1725.7,1829.7 1726.5,1814.9 1727.3,1798.8 1728.0,1782.6 1728.8,1766.4 1729.7,1750.2 1730.7,1734.1 1731.7,1720.6 1732.6,1709.8 1733.8,1699.0 1735.1,1688.2 1736.4,1678.8 1737.8,1670.6 1739.1,1665.4 1740.4,1663.0 1742.0,1663.0 1743.7,1665.4 1745.6,1670.0 1747.7,1676.8 1749.6,1684.9 1751.1,1694.2 1752.8,1703.6 1754.5,1713.1 1756.4,1719.0 1758.5,1721.4 1760.6,1723.8 1762.6,1726.1 1764.4,1729.9 1766.2,1735.3 1767.9,1739.7 1769.5,1743.0 1771.1,1744.9 1772.7,1745.2 1774.3,1743.9 1776.1,1740.9 1777.9,1737.1 1779.6,1732.4 1781.3,1728.9 1783.0,1726.6 1784.5,1725.2 1785.8,1724.8 1787.5,1725.7 1789.6,1728.0 1792.0,1730.4 1794.6,1732.9 1797.3,1734.8 1800.1,1736.1 1802.8,1738.1 1805.4,1740.7 1807.9,1744.7 1810.2,1750.1 1812.5,1756.5 1814.7,1764.0 1816.5,1770.4 1818.1,1775.8 1819.7,1779.6 1821.3,1781.9 1823.0,1782.8 1824.8,1782.3 1826.3,1779.4 1827.7,1774.3 1829.0,1767.7 1830.3,1759.6 1831.7,1752.1 1833.1,1745.4 1834.5,1736.7 1835.8,1725.9 1837.0,1716.5 1838.0,1708.4 1838.9,1701.3 1839.9,1695.2 1840.4,1692.2" stroke-width="4.8"/><use href="#k9" stroke-width="6" stroke-dasharray="3.2 2.4"/></g><path d="M665.4,1454.0V1979.3" stroke="#fff" stroke-width="1.5"/><path d="M1057.8,1454.0V1979.3" stroke="#fff" stroke-width="1.5"/><path d="M1449.8,1454.0V1979.3" stroke="#fff" stroke-width="1.5"/><text transform="translate(253.6,1567.1) scale(1,1.04)" font-size="75" text-anchor="end">10</text><text transform="translate(253.6,1743.9) scale(1,1.04)" font-size="75" text-anchor="end">0</text><text transform="translate(253.6,1920.7) scale(1,1.04)" font-size="75" text-anchor="end">-10</text><text transform="translate(274.4,2039.8) scale(1,1.04)" font-size="75" text-anchor="middle">0</text><text transform="translate(494.7,2039.8) scale(1,1.04)" font-size="75" text-anchor="middle">1</text><text transform="translate(715.0,2039.8) scale(1,1.04)" font-size="75" text-anchor="middle">2</text><text transform="translate(935.3,2039.8) scale(1,1.04)" font-size="75" text-anchor="middle">3</text><text transform="translate(1155.6,2039.8) scale(1,1.04)" font-size="75" text-anchor="middle">4</text><text transform="translate(1375.9,2039.8) scale(1,1.04)" font-size="75" text-anchor="middle">5</text><text transform="translate(1596.2,2039.8) scale(1,1.04)" font-size="75" text-anchor="middle">6</text><text transform="translate(1816.5,2039.8) scale(1,1.04)" font-size="75" text-anchor="middle">7</text><text transform="translate(923.6,2103.4) scale(1,1.04)" font-size="84">time [s]</text><text transform="translate(79.6,1979.8) rotate(-90) scale(1,1.04)" font-size="76">d(w<tspan font-size="44" dy="18.3">avg</tspan><tspan dy="-18.3">)/dt [m s</tspan><tspan font-size="44" dy="-37">-2</tspan><tspan dy="37">]</tspan></text><g fill="#fff"><rect x="176.79" y="427.87" width="14.70" height="9.83"/><rect x="199.01" y="427.87" width="14.11" height="9.83"/><rect x="218.49" y="575.57" width="14.70" height="9.83"/><rect x="240.72" y="575.57" width="14.11" height="9.83"/><rect x="477.56" y="688.27" width="14.70" height="9.83"/><rect x="499.79" y="688.27" width="14.11" height="9.83"/><rect x="176.79" y="1139.47" width="14.70" height="9.83"/><rect x="199.01" y="1139.47" width="14.11" height="9.83"/><rect x="218.49" y="1288.97" width="14.70" height="9.83"/><rect x="240.72" y="1288.97" width="14.11" height="9.83"/><rect x="477.56" y="1402.67" width="14.70" height="9.83"/><rect x="499.79" y="1402.67" width="14.11" height="9.83"/><rect x="1430.16" y="37.00" width="10.31" height="7.88"/><rect x="1445.79" y="37.00" width="9.92" height="7.88"/><rect x="1432.96" y="789.00" width="10.31" height="7.88"/><rect x="1448.59" y="789.00" width="9.92" height="7.88"/><rect x="173.90" y="1559.57" width="14.70" height="9.83"/><rect x="196.13" y="1559.57" width="14.11" height="9.83"/><rect x="173.89" y="1913.17" width="14.70" height="9.83"/><rect x="196.11" y="1913.17" width="14.11" height="9.83"/><rect x="477.56" y="2032.27" width="14.70" height="9.83"/><rect x="499.79" y="2032.27" width="14.11" height="9.83"/></g></svg></body></html>
